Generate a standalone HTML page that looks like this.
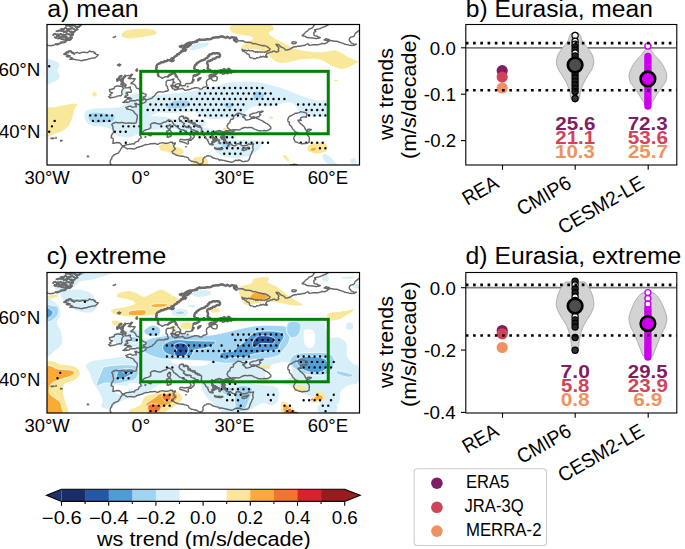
<!DOCTYPE html>
<html><head><meta charset="utf-8"><title>ws trends</title>
<style>
html,body{margin:0;padding:0;background:#fff;}
svg{display:block;font-family:"Liberation Sans", sans-serif;}
</style></head><body>
<svg width="685" height="549" viewBox="0 0 685 549">
<rect width="685" height="549" fill="#fff"/>
<clipPath id="mclipa"><rect x="47.0" y="24.5" width="312.5" height="140.5"/></clipPath>
<g clip-path="url(#mclipa)">
<path d="M46.0,110.5 C47.5,105.5 51.9,108.2 55.3,107.2 C58.6,106.2 62.5,105.3 66.1,104.8 C69.7,104.3 75.6,103.4 77.0,104.1 C78.4,104.8 75.4,106.5 74.6,108.7 C73.8,110.9 73.2,114.5 72.3,117.2 C71.4,119.9 70.8,122.8 69.2,125.0 C67.7,127.2 65.3,129.0 63.0,130.4 C60.7,131.8 57.8,132.5 55.3,133.5 C52.8,134.5 49.8,136.0 48.3,136.6 C46.8,137.2 46.4,141.3 46.0,137.0 C45.6,132.7 44.5,115.5 46.0,110.5Z" fill="#fae89a"/>
<path d="M92.0,93.0 C92.2,92.2 94.2,91.7 95.0,92.0 C95.8,92.3 97.2,94.2 97.0,95.0 C96.8,95.8 94.8,96.8 94.0,96.5 C93.2,96.2 91.8,93.8 92.0,93.0Z" fill="#fae89a"/>
<path d="M121.5,35.5 C121.2,34.3 122.6,32.1 125.0,31.0 C127.4,29.9 132.7,29.4 136.0,29.0 C139.3,28.6 142.3,28.7 145.0,28.8 C147.7,28.9 150.1,29.1 152.0,29.5 C153.9,29.9 156.0,30.7 156.5,31.5 C157.0,32.3 156.8,33.7 155.0,34.5 C153.2,35.3 149.2,35.9 146.0,36.5 C142.8,37.1 139.2,37.7 136.0,38.0 C132.8,38.3 129.4,38.7 127.0,38.3 C124.6,37.9 121.8,36.7 121.5,35.5Z" fill="#fae89a"/>
<path d="M46.0,60.4 C47.3,56.7 51.8,60.0 54.0,60.6 C56.2,61.2 58.3,63.0 59.2,64.0 C60.1,65.0 59.6,65.4 59.2,66.5 C58.9,67.6 57.0,69.0 57.1,70.4 C57.2,71.8 59.8,73.5 59.9,75.0 C60.0,76.5 59.3,78.3 58.0,79.5 C56.7,80.7 54.0,81.9 52.0,82.4 C50.0,83.0 47.0,86.5 46.0,82.8 C45.0,79.1 44.7,64.1 46.0,60.4Z" fill="#d6eff9"/>
<path d="M190.0,49.5 C189.8,48.8 190.7,46.5 192.0,45.5 C193.3,44.5 196.0,44.0 198.0,43.5 C200.0,43.0 202.2,42.6 204.0,42.5 C205.8,42.4 208.0,42.4 208.5,43.0 C209.0,43.6 208.4,45.1 207.0,46.0 C205.6,46.9 202.3,47.8 200.0,48.5 C197.7,49.2 194.7,49.8 193.0,50.0 C191.3,50.2 190.2,50.2 190.0,49.5Z" fill="#d6eff9"/>
<path d="M229.6,29.3 C228.9,28.1 230.3,27.4 231.0,26.5 C231.7,25.6 228.2,24.4 234.0,24.0 C239.8,23.6 259.3,23.2 266.0,24.0 C272.7,24.8 273.6,27.0 274.0,28.5 C274.4,30.0 268.7,31.4 268.7,33.0 C268.7,34.6 271.8,36.3 274.1,37.9 C276.4,39.5 279.8,41.0 282.6,42.6 C285.4,44.2 288.1,45.9 291.1,47.2 C294.1,48.5 296.8,49.5 300.4,50.3 C304.0,51.1 308.7,51.6 312.8,51.9 C316.9,52.2 321.6,52.2 325.2,51.9 C328.8,51.6 331.9,50.2 334.5,50.3 C337.1,50.4 338.4,51.4 340.7,52.6 C343.0,53.8 345.6,55.9 348.4,57.3 C351.2,58.7 355.6,60.4 357.7,61.1 C359.8,61.8 360.4,61.4 361.0,61.5 C361.6,61.6 361.6,61.9 361.0,62.0 C360.4,62.1 359.3,61.3 357.7,61.9 C356.1,62.5 354.1,64.6 351.5,65.8 C348.9,67.0 345.6,68.9 342.2,68.9 C338.8,68.9 334.5,67.1 331.4,65.8 C328.3,64.5 326.4,62.3 323.6,61.1 C320.8,59.9 318.3,59.0 314.4,58.8 C310.5,58.5 305.3,59.0 300.4,59.6 C295.5,60.2 289.1,62.4 285.0,62.7 C280.9,63.0 278.5,62.7 275.7,61.4 C272.9,60.1 269.9,56.6 268.0,55.0 C266.1,53.4 266.0,52.4 264.0,51.5 C262.0,50.6 259.0,49.9 256.0,49.5 C253.0,49.1 248.4,49.4 246.0,49.0 C243.6,48.6 241.6,48.2 241.3,47.4 C241.0,46.6 242.3,45.8 244.2,44.4 C246.0,43.0 251.2,40.5 252.4,39.2 C253.6,37.9 254.1,37.5 251.2,36.5 C248.3,35.5 238.5,34.7 234.9,33.5 C231.3,32.3 230.2,30.5 229.6,29.3Z" fill="#fae89a"/>
<path d="M334.0,80.0 C334.3,79.8 336.3,79.6 337.0,79.8 C337.7,80.0 338.3,80.8 338.0,81.0 C337.7,81.2 335.7,81.5 335.0,81.3 C334.3,81.1 333.7,80.2 334.0,80.0Z" fill="#fae89a"/>
<path d="M84.7,114.1 C85.0,113.0 84.8,111.6 86.5,110.7 C88.2,109.8 91.1,109.0 95.0,108.5 C98.9,108.0 105.8,108.2 110.0,108.0 C114.2,107.8 117.3,107.7 120.0,107.0 C122.7,106.3 124.5,105.3 126.0,104.0 C127.5,102.7 128.2,100.6 129.0,99.0 C129.8,97.4 129.7,95.4 131.0,94.5 C132.3,93.6 134.4,93.2 137.0,93.5 C139.6,93.8 141.8,96.1 146.3,96.3 C150.8,96.5 155.9,95.4 163.8,94.5 C171.7,93.6 185.1,92.3 193.6,91.0 C202.1,89.7 209.0,87.9 214.6,86.6 C220.2,85.3 222.7,83.9 226.9,83.1 C231.1,82.3 235.5,82.2 240.0,82.0 C244.5,81.8 249.1,81.5 254.0,82.0 C258.9,82.5 264.5,83.5 269.7,84.7 C274.9,85.9 280.1,87.6 285.3,89.4 C290.5,91.2 295.8,93.9 301.0,95.7 C306.2,97.5 311.9,99.5 316.6,100.4 C321.3,101.3 326.9,98.5 329.0,101.0 C331.1,103.5 331.1,112.9 329.0,115.5 C326.9,118.1 321.3,116.5 316.6,116.5 C311.9,116.5 304.1,116.6 301.0,115.5 C297.9,114.4 299.1,111.7 297.8,109.7 C296.5,107.7 295.2,104.7 293.1,103.5 C291.0,102.3 289.2,102.2 285.3,102.7 C281.4,103.2 274.9,106.0 269.7,106.6 C264.5,107.2 258.1,105.6 254.0,106.5 C249.9,107.4 247.3,110.1 245.0,112.0 C242.7,113.9 243.3,116.9 240.0,118.0 C236.7,119.1 230.5,118.4 225.1,118.5 C219.7,118.6 212.4,119.5 207.6,118.5 C202.8,117.5 198.9,113.6 196.0,112.5 C193.1,111.4 193.9,111.9 190.0,112.0 C186.1,112.1 177.6,112.8 172.6,112.9 C167.6,113.0 163.4,112.2 160.0,112.5 C156.6,112.8 154.2,113.9 152.0,115.0 C149.8,116.1 148.5,116.8 147.0,119.0 C145.5,121.2 144.0,125.7 143.0,128.0 C142.0,130.3 141.9,131.9 141.0,133.0 C140.1,134.1 139.2,133.8 137.3,134.5 C135.4,135.2 131.9,137.1 129.6,137.5 C127.3,137.9 125.5,137.2 123.4,137.0 C121.3,136.8 118.8,136.7 117.2,136.0 C115.7,135.3 115.4,134.0 114.1,132.7 C112.8,131.4 111.5,129.4 109.4,128.4 C107.3,127.4 104.5,127.0 101.7,126.5 C98.9,126.0 94.9,126.5 92.4,125.7 C89.9,124.9 87.8,123.3 86.5,121.9 C85.2,120.5 85.0,118.5 84.7,117.2 C84.4,115.9 84.4,115.2 84.7,114.1Z" fill="#d6eff9"/>
<path d="M122.4,89.5 C122.9,88.5 124.8,88.4 125.5,88.8 C126.2,89.2 126.5,90.9 126.5,92.0 C126.5,93.1 126.1,95.0 125.5,95.5 C124.9,96.0 123.3,96.0 122.8,95.0 C122.3,94.0 122.0,90.5 122.4,89.5Z" fill="#d6eff9"/>
<path d="M142.6,117.0 C144.1,114.5 148.3,116.0 152.0,116.0 C155.7,116.0 161.2,116.5 165.0,117.0 C168.8,117.5 170.8,118.6 175.0,119.0 C179.2,119.4 185.3,119.3 190.0,119.5 C194.7,119.7 200.5,119.2 203.0,120.0 C205.5,120.8 205.5,122.7 205.0,124.0 C204.5,125.3 203.3,126.8 200.0,128.0 C196.7,129.2 189.2,130.8 185.0,131.0 C180.8,131.2 178.7,129.3 175.0,129.0 C171.3,128.7 167.2,128.8 163.0,129.0 C158.8,129.2 153.3,129.7 150.0,130.0 C146.7,130.3 144.2,133.2 143.0,131.0 C141.8,128.8 141.1,119.5 142.6,117.0Z" fill="#d6eff9"/>
<path d="M180.0,128.0 C183.0,127.0 194.2,126.7 200.0,127.0 C205.8,127.3 209.7,128.8 215.0,130.0 C220.3,131.2 228.5,132.7 232.0,134.0 C235.5,135.3 237.2,137.2 236.0,138.0 C234.8,138.8 229.3,139.0 225.0,139.0 C220.7,139.0 215.0,138.7 210.0,138.0 C205.0,137.3 199.7,135.8 195.0,135.0 C190.3,134.2 184.5,134.2 182.0,133.0 C179.5,131.8 177.0,129.0 180.0,128.0Z" fill="#d6eff9"/>
<path d="M213.6,140.0 C215.3,138.2 220.6,139.5 225.0,139.5 C229.4,139.5 235.0,139.8 240.0,140.0 C245.0,140.2 251.3,140.0 255.0,140.5 C258.7,141.0 261.5,141.4 262.0,143.0 C262.5,144.6 260.3,147.8 258.0,150.0 C255.7,152.2 251.8,154.8 248.0,156.0 C244.2,157.2 239.3,157.5 235.0,157.5 C230.7,157.5 225.3,157.2 222.0,156.0 C218.7,154.8 216.4,152.7 215.0,150.0 C213.6,147.3 211.9,141.8 213.6,140.0Z" fill="#d6eff9"/>
<path d="M159.3,146.0 C159.6,144.9 161.2,144.2 163.0,143.9 C164.8,143.6 168.2,143.6 170.0,144.0 C171.8,144.4 172.3,145.8 174.0,146.5 C175.7,147.2 178.4,147.2 180.0,148.0 C181.6,148.8 183.6,149.8 183.8,151.0 C184.0,152.2 182.5,154.3 181.0,155.0 C179.5,155.7 177.2,155.8 175.0,155.3 C172.8,154.8 170.3,152.8 168.0,152.0 C165.7,151.2 162.4,151.5 161.0,150.5 C159.6,149.5 159.0,147.1 159.3,146.0Z" fill="#fae89a"/>
<path d="M192.6,160.0 C193.1,158.6 194.3,157.5 196.0,157.0 C197.7,156.5 201.1,156.5 203.0,157.0 C204.9,157.5 206.7,158.6 207.4,160.0 C208.1,161.4 209.4,164.6 207.0,165.5 C204.6,166.4 195.4,166.4 193.0,165.5 C190.6,164.6 192.1,161.4 192.6,160.0Z" fill="#fae89a"/>
<path d="M223.2,128.5 C223.7,128.0 226.2,126.9 226.7,127.3 C227.2,127.7 226.5,130.3 226.0,130.8 C225.5,131.3 224.0,130.9 223.5,130.5 C223.0,130.1 222.7,129.0 223.2,128.5Z" fill="#fae89a"/>
<path d="M307.2,148.0 C307.5,146.6 309.9,144.4 312.0,143.5 C314.1,142.6 317.5,142.3 320.0,142.6 C322.5,142.8 325.8,143.6 326.8,145.0 C327.8,146.4 327.5,149.6 326.0,151.0 C324.5,152.4 320.7,153.4 318.0,153.6 C315.3,153.8 311.8,152.9 310.0,152.0 C308.2,151.1 306.9,149.4 307.2,148.0Z" fill="#fae89a"/>
<path d="M310.5,149.5 C310.7,148.9 313.1,147.6 314.0,147.5 C314.9,147.4 316.2,148.4 316.0,149.0 C315.8,149.6 313.9,150.9 313.0,151.0 C312.1,151.1 310.3,150.1 310.5,149.5Z" fill="#fcaa36"/>
<path d="M269.0,117.0 C269.4,116.6 271.3,116.2 272.0,116.5 C272.7,116.8 273.4,118.1 273.0,118.5 C272.6,118.9 270.2,119.0 269.5,118.8 C268.8,118.5 268.6,117.4 269.0,117.0Z" fill="#fae89a"/>
<path d="M283.0,156.0 C282.8,155.1 285.0,154.8 286.0,155.5 C287.0,156.2 288.8,159.1 289.0,160.0 C289.2,160.9 288.0,161.7 287.0,161.0 C286.0,160.3 283.2,156.9 283.0,156.0Z" fill="#fae89a"/>
<path d="M322.9,155.0 C323.4,154.1 325.3,153.7 327.0,154.5 C328.7,155.3 331.3,158.3 333.0,160.0 C334.7,161.7 337.5,163.7 337.0,164.5 C336.5,165.3 332.2,165.8 330.0,165.0 C327.8,164.2 325.2,161.7 324.0,160.0 C322.8,158.3 322.4,155.9 322.9,155.0Z" fill="#d6eff9"/>
<path d="M350.0,160.0 C350.2,158.8 352.8,157.7 354.0,158.0 C355.2,158.3 357.2,160.8 357.0,162.0 C356.8,163.2 354.2,165.3 353.0,165.0 C351.8,164.7 349.8,161.2 350.0,160.0Z" fill="#d6eff9"/>
<path d="M88.6,114.9 C89.1,113.8 89.7,113.1 92.4,112.9 C95.1,112.7 101.2,113.3 104.8,113.8 C108.4,114.3 112.8,114.5 114.1,115.7 C115.4,116.9 114.0,120.0 112.5,121.1 C111.0,122.2 107.9,122.0 104.8,122.2 C101.7,122.5 96.6,123.0 94.0,122.6 C91.4,122.1 90.2,120.8 89.3,119.5 C88.4,118.2 88.1,116.0 88.6,114.9Z" fill="#a0d6f3"/>
<path d="M166.4,105.5 C167.6,104.3 171.9,101.8 175.0,101.0 C178.1,100.2 182.5,100.4 185.0,100.7 C187.5,101.0 189.8,102.0 190.0,103.0 C190.2,104.0 188.5,106.1 186.0,107.0 C183.5,107.9 178.0,108.3 175.0,108.5 C172.0,108.7 169.4,108.5 168.0,108.0 C166.6,107.5 165.2,106.7 166.4,105.5Z" fill="#a0d6f3"/>
<path d="M224.2,104.0 C224.7,103.2 227.4,102.3 229.0,102.4 C230.6,102.5 233.6,103.6 233.9,104.5 C234.2,105.4 232.3,107.2 231.0,107.7 C229.7,108.2 227.1,108.1 226.0,107.5 C224.9,106.9 223.7,104.8 224.2,104.0Z" fill="#a0d6f3"/>
<path d="M254.0,92.0 C255.3,90.8 260.3,91.8 262.0,92.5 C263.7,93.2 264.5,94.8 264.0,96.0 C263.5,97.2 260.7,98.9 259.0,99.5 C257.3,100.1 254.8,101.0 254.0,99.8 C253.2,98.5 252.7,93.2 254.0,92.0Z" fill="#a0d6f3"/>
<path d="M222.0,142.0 C222.7,141.0 225.5,140.7 227.0,141.0 C228.5,141.3 230.8,142.8 231.0,144.0 C231.2,145.2 229.3,147.5 228.0,148.0 C226.7,148.5 224.0,148.0 223.0,147.0 C222.0,146.0 221.3,143.0 222.0,142.0Z" fill="#a0d6f3"/>
<path d="M48.00,66.18a1.2,1.2 0 1,0 2.4,0a1.2,1.2 0 1,0 -2.4,0M206.63,88.06a1.2,1.2 0 1,0 2.4,0a1.2,1.2 0 1,0 -2.4,0M212.10,88.06a1.2,1.2 0 1,0 2.4,0a1.2,1.2 0 1,0 -2.4,0M217.57,88.06a1.2,1.2 0 1,0 2.4,0a1.2,1.2 0 1,0 -2.4,0M223.04,88.06a1.2,1.2 0 1,0 2.4,0a1.2,1.2 0 1,0 -2.4,0M228.51,88.06a1.2,1.2 0 1,0 2.4,0a1.2,1.2 0 1,0 -2.4,0M233.98,88.06a1.2,1.2 0 1,0 2.4,0a1.2,1.2 0 1,0 -2.4,0M239.45,88.06a1.2,1.2 0 1,0 2.4,0a1.2,1.2 0 1,0 -2.4,0M244.92,88.06a1.2,1.2 0 1,0 2.4,0a1.2,1.2 0 1,0 -2.4,0M250.39,88.06a1.2,1.2 0 1,0 2.4,0a1.2,1.2 0 1,0 -2.4,0M255.86,88.06a1.2,1.2 0 1,0 2.4,0a1.2,1.2 0 1,0 -2.4,0M261.33,88.06a1.2,1.2 0 1,0 2.4,0a1.2,1.2 0 1,0 -2.4,0M198.42,93.53a1.2,1.2 0 1,0 2.4,0a1.2,1.2 0 1,0 -2.4,0M203.89,93.53a1.2,1.2 0 1,0 2.4,0a1.2,1.2 0 1,0 -2.4,0M209.36,93.53a1.2,1.2 0 1,0 2.4,0a1.2,1.2 0 1,0 -2.4,0M214.83,93.53a1.2,1.2 0 1,0 2.4,0a1.2,1.2 0 1,0 -2.4,0M220.31,93.53a1.2,1.2 0 1,0 2.4,0a1.2,1.2 0 1,0 -2.4,0M225.77,93.53a1.2,1.2 0 1,0 2.4,0a1.2,1.2 0 1,0 -2.4,0M231.25,93.53a1.2,1.2 0 1,0 2.4,0a1.2,1.2 0 1,0 -2.4,0M236.71,93.53a1.2,1.2 0 1,0 2.4,0a1.2,1.2 0 1,0 -2.4,0M242.19,93.53a1.2,1.2 0 1,0 2.4,0a1.2,1.2 0 1,0 -2.4,0M247.65,93.53a1.2,1.2 0 1,0 2.4,0a1.2,1.2 0 1,0 -2.4,0M253.12,93.53a1.2,1.2 0 1,0 2.4,0a1.2,1.2 0 1,0 -2.4,0M258.59,93.53a1.2,1.2 0 1,0 2.4,0a1.2,1.2 0 1,0 -2.4,0M264.06,93.53a1.2,1.2 0 1,0 2.4,0a1.2,1.2 0 1,0 -2.4,0M269.53,93.53a1.2,1.2 0 1,0 2.4,0a1.2,1.2 0 1,0 -2.4,0M157.40,99.00a1.2,1.2 0 1,0 2.4,0a1.2,1.2 0 1,0 -2.4,0M162.87,99.00a1.2,1.2 0 1,0 2.4,0a1.2,1.2 0 1,0 -2.4,0M168.34,99.00a1.2,1.2 0 1,0 2.4,0a1.2,1.2 0 1,0 -2.4,0M173.81,99.00a1.2,1.2 0 1,0 2.4,0a1.2,1.2 0 1,0 -2.4,0M179.28,99.00a1.2,1.2 0 1,0 2.4,0a1.2,1.2 0 1,0 -2.4,0M184.75,99.00a1.2,1.2 0 1,0 2.4,0a1.2,1.2 0 1,0 -2.4,0M190.22,99.00a1.2,1.2 0 1,0 2.4,0a1.2,1.2 0 1,0 -2.4,0M195.69,99.00a1.2,1.2 0 1,0 2.4,0a1.2,1.2 0 1,0 -2.4,0M201.16,99.00a1.2,1.2 0 1,0 2.4,0a1.2,1.2 0 1,0 -2.4,0M206.63,99.00a1.2,1.2 0 1,0 2.4,0a1.2,1.2 0 1,0 -2.4,0M212.10,99.00a1.2,1.2 0 1,0 2.4,0a1.2,1.2 0 1,0 -2.4,0M217.57,99.00a1.2,1.2 0 1,0 2.4,0a1.2,1.2 0 1,0 -2.4,0M223.04,99.00a1.2,1.2 0 1,0 2.4,0a1.2,1.2 0 1,0 -2.4,0M228.51,99.00a1.2,1.2 0 1,0 2.4,0a1.2,1.2 0 1,0 -2.4,0M233.98,99.00a1.2,1.2 0 1,0 2.4,0a1.2,1.2 0 1,0 -2.4,0M239.45,99.00a1.2,1.2 0 1,0 2.4,0a1.2,1.2 0 1,0 -2.4,0M244.92,99.00a1.2,1.2 0 1,0 2.4,0a1.2,1.2 0 1,0 -2.4,0M250.39,99.00a1.2,1.2 0 1,0 2.4,0a1.2,1.2 0 1,0 -2.4,0M255.86,99.00a1.2,1.2 0 1,0 2.4,0a1.2,1.2 0 1,0 -2.4,0M261.33,99.00a1.2,1.2 0 1,0 2.4,0a1.2,1.2 0 1,0 -2.4,0M266.80,99.00a1.2,1.2 0 1,0 2.4,0a1.2,1.2 0 1,0 -2.4,0M272.27,99.00a1.2,1.2 0 1,0 2.4,0a1.2,1.2 0 1,0 -2.4,0M277.74,99.00a1.2,1.2 0 1,0 2.4,0a1.2,1.2 0 1,0 -2.4,0M283.21,99.00a1.2,1.2 0 1,0 2.4,0a1.2,1.2 0 1,0 -2.4,0M149.19,104.47a1.2,1.2 0 1,0 2.4,0a1.2,1.2 0 1,0 -2.4,0M154.66,104.47a1.2,1.2 0 1,0 2.4,0a1.2,1.2 0 1,0 -2.4,0M160.13,104.47a1.2,1.2 0 1,0 2.4,0a1.2,1.2 0 1,0 -2.4,0M165.60,104.47a1.2,1.2 0 1,0 2.4,0a1.2,1.2 0 1,0 -2.4,0M171.07,104.47a1.2,1.2 0 1,0 2.4,0a1.2,1.2 0 1,0 -2.4,0M176.54,104.47a1.2,1.2 0 1,0 2.4,0a1.2,1.2 0 1,0 -2.4,0M182.01,104.47a1.2,1.2 0 1,0 2.4,0a1.2,1.2 0 1,0 -2.4,0M187.48,104.47a1.2,1.2 0 1,0 2.4,0a1.2,1.2 0 1,0 -2.4,0M192.95,104.47a1.2,1.2 0 1,0 2.4,0a1.2,1.2 0 1,0 -2.4,0M198.42,104.47a1.2,1.2 0 1,0 2.4,0a1.2,1.2 0 1,0 -2.4,0M203.89,104.47a1.2,1.2 0 1,0 2.4,0a1.2,1.2 0 1,0 -2.4,0M209.36,104.47a1.2,1.2 0 1,0 2.4,0a1.2,1.2 0 1,0 -2.4,0M214.83,104.47a1.2,1.2 0 1,0 2.4,0a1.2,1.2 0 1,0 -2.4,0M220.31,104.47a1.2,1.2 0 1,0 2.4,0a1.2,1.2 0 1,0 -2.4,0M225.77,104.47a1.2,1.2 0 1,0 2.4,0a1.2,1.2 0 1,0 -2.4,0M231.25,104.47a1.2,1.2 0 1,0 2.4,0a1.2,1.2 0 1,0 -2.4,0M236.71,104.47a1.2,1.2 0 1,0 2.4,0a1.2,1.2 0 1,0 -2.4,0M242.19,104.47a1.2,1.2 0 1,0 2.4,0a1.2,1.2 0 1,0 -2.4,0M258.59,104.47a1.2,1.2 0 1,0 2.4,0a1.2,1.2 0 1,0 -2.4,0M264.06,104.47a1.2,1.2 0 1,0 2.4,0a1.2,1.2 0 1,0 -2.4,0M269.53,104.47a1.2,1.2 0 1,0 2.4,0a1.2,1.2 0 1,0 -2.4,0M275.00,104.47a1.2,1.2 0 1,0 2.4,0a1.2,1.2 0 1,0 -2.4,0M296.88,104.47a1.2,1.2 0 1,0 2.4,0a1.2,1.2 0 1,0 -2.4,0M302.35,104.47a1.2,1.2 0 1,0 2.4,0a1.2,1.2 0 1,0 -2.4,0M307.82,104.47a1.2,1.2 0 1,0 2.4,0a1.2,1.2 0 1,0 -2.4,0M313.30,104.47a1.2,1.2 0 1,0 2.4,0a1.2,1.2 0 1,0 -2.4,0M318.76,104.47a1.2,1.2 0 1,0 2.4,0a1.2,1.2 0 1,0 -2.4,0M324.23,104.47a1.2,1.2 0 1,0 2.4,0a1.2,1.2 0 1,0 -2.4,0M146.46,109.94a1.2,1.2 0 1,0 2.4,0a1.2,1.2 0 1,0 -2.4,0M151.93,109.94a1.2,1.2 0 1,0 2.4,0a1.2,1.2 0 1,0 -2.4,0M157.40,109.94a1.2,1.2 0 1,0 2.4,0a1.2,1.2 0 1,0 -2.4,0M162.87,109.94a1.2,1.2 0 1,0 2.4,0a1.2,1.2 0 1,0 -2.4,0M168.34,109.94a1.2,1.2 0 1,0 2.4,0a1.2,1.2 0 1,0 -2.4,0M173.81,109.94a1.2,1.2 0 1,0 2.4,0a1.2,1.2 0 1,0 -2.4,0M179.28,109.94a1.2,1.2 0 1,0 2.4,0a1.2,1.2 0 1,0 -2.4,0M184.75,109.94a1.2,1.2 0 1,0 2.4,0a1.2,1.2 0 1,0 -2.4,0M190.22,109.94a1.2,1.2 0 1,0 2.4,0a1.2,1.2 0 1,0 -2.4,0M195.69,109.94a1.2,1.2 0 1,0 2.4,0a1.2,1.2 0 1,0 -2.4,0M201.16,109.94a1.2,1.2 0 1,0 2.4,0a1.2,1.2 0 1,0 -2.4,0M206.63,109.94a1.2,1.2 0 1,0 2.4,0a1.2,1.2 0 1,0 -2.4,0M212.10,109.94a1.2,1.2 0 1,0 2.4,0a1.2,1.2 0 1,0 -2.4,0M217.57,109.94a1.2,1.2 0 1,0 2.4,0a1.2,1.2 0 1,0 -2.4,0M223.04,109.94a1.2,1.2 0 1,0 2.4,0a1.2,1.2 0 1,0 -2.4,0M228.51,109.94a1.2,1.2 0 1,0 2.4,0a1.2,1.2 0 1,0 -2.4,0M233.98,109.94a1.2,1.2 0 1,0 2.4,0a1.2,1.2 0 1,0 -2.4,0M239.45,109.94a1.2,1.2 0 1,0 2.4,0a1.2,1.2 0 1,0 -2.4,0M305.09,109.94a1.2,1.2 0 1,0 2.4,0a1.2,1.2 0 1,0 -2.4,0M310.56,109.94a1.2,1.2 0 1,0 2.4,0a1.2,1.2 0 1,0 -2.4,0M316.03,109.94a1.2,1.2 0 1,0 2.4,0a1.2,1.2 0 1,0 -2.4,0M321.50,109.94a1.2,1.2 0 1,0 2.4,0a1.2,1.2 0 1,0 -2.4,0M89.02,115.41a1.2,1.2 0 1,0 2.4,0a1.2,1.2 0 1,0 -2.4,0M94.50,115.41a1.2,1.2 0 1,0 2.4,0a1.2,1.2 0 1,0 -2.4,0M99.97,115.41a1.2,1.2 0 1,0 2.4,0a1.2,1.2 0 1,0 -2.4,0M105.44,115.41a1.2,1.2 0 1,0 2.4,0a1.2,1.2 0 1,0 -2.4,0M110.91,115.41a1.2,1.2 0 1,0 2.4,0a1.2,1.2 0 1,0 -2.4,0M198.42,115.41a1.2,1.2 0 1,0 2.4,0a1.2,1.2 0 1,0 -2.4,0M203.89,115.41a1.2,1.2 0 1,0 2.4,0a1.2,1.2 0 1,0 -2.4,0M209.36,115.41a1.2,1.2 0 1,0 2.4,0a1.2,1.2 0 1,0 -2.4,0M214.83,115.41a1.2,1.2 0 1,0 2.4,0a1.2,1.2 0 1,0 -2.4,0M220.31,115.41a1.2,1.2 0 1,0 2.4,0a1.2,1.2 0 1,0 -2.4,0M225.77,115.41a1.2,1.2 0 1,0 2.4,0a1.2,1.2 0 1,0 -2.4,0M231.25,115.41a1.2,1.2 0 1,0 2.4,0a1.2,1.2 0 1,0 -2.4,0M236.71,115.41a1.2,1.2 0 1,0 2.4,0a1.2,1.2 0 1,0 -2.4,0M307.82,115.41a1.2,1.2 0 1,0 2.4,0a1.2,1.2 0 1,0 -2.4,0M313.30,115.41a1.2,1.2 0 1,0 2.4,0a1.2,1.2 0 1,0 -2.4,0M318.76,115.41a1.2,1.2 0 1,0 2.4,0a1.2,1.2 0 1,0 -2.4,0M324.23,115.41a1.2,1.2 0 1,0 2.4,0a1.2,1.2 0 1,0 -2.4,0M91.76,120.88a1.2,1.2 0 1,0 2.4,0a1.2,1.2 0 1,0 -2.4,0M97.23,120.88a1.2,1.2 0 1,0 2.4,0a1.2,1.2 0 1,0 -2.4,0M102.70,120.88a1.2,1.2 0 1,0 2.4,0a1.2,1.2 0 1,0 -2.4,0M108.17,120.88a1.2,1.2 0 1,0 2.4,0a1.2,1.2 0 1,0 -2.4,0M168.34,120.88a1.2,1.2 0 1,0 2.4,0a1.2,1.2 0 1,0 -2.4,0M173.81,120.88a1.2,1.2 0 1,0 2.4,0a1.2,1.2 0 1,0 -2.4,0M179.28,120.88a1.2,1.2 0 1,0 2.4,0a1.2,1.2 0 1,0 -2.4,0M184.75,120.88a1.2,1.2 0 1,0 2.4,0a1.2,1.2 0 1,0 -2.4,0M190.22,120.88a1.2,1.2 0 1,0 2.4,0a1.2,1.2 0 1,0 -2.4,0M195.69,120.88a1.2,1.2 0 1,0 2.4,0a1.2,1.2 0 1,0 -2.4,0M201.16,120.88a1.2,1.2 0 1,0 2.4,0a1.2,1.2 0 1,0 -2.4,0M121.84,126.35a1.2,1.2 0 1,0 2.4,0a1.2,1.2 0 1,0 -2.4,0M127.31,126.35a1.2,1.2 0 1,0 2.4,0a1.2,1.2 0 1,0 -2.4,0M132.78,126.35a1.2,1.2 0 1,0 2.4,0a1.2,1.2 0 1,0 -2.4,0M138.25,126.35a1.2,1.2 0 1,0 2.4,0a1.2,1.2 0 1,0 -2.4,0M160.13,126.35a1.2,1.2 0 1,0 2.4,0a1.2,1.2 0 1,0 -2.4,0M165.60,126.35a1.2,1.2 0 1,0 2.4,0a1.2,1.2 0 1,0 -2.4,0M171.07,126.35a1.2,1.2 0 1,0 2.4,0a1.2,1.2 0 1,0 -2.4,0M176.54,126.35a1.2,1.2 0 1,0 2.4,0a1.2,1.2 0 1,0 -2.4,0M182.01,126.35a1.2,1.2 0 1,0 2.4,0a1.2,1.2 0 1,0 -2.4,0M187.48,126.35a1.2,1.2 0 1,0 2.4,0a1.2,1.2 0 1,0 -2.4,0M192.95,126.35a1.2,1.2 0 1,0 2.4,0a1.2,1.2 0 1,0 -2.4,0M198.42,126.35a1.2,1.2 0 1,0 2.4,0a1.2,1.2 0 1,0 -2.4,0M113.64,131.82a1.2,1.2 0 1,0 2.4,0a1.2,1.2 0 1,0 -2.4,0M119.11,131.82a1.2,1.2 0 1,0 2.4,0a1.2,1.2 0 1,0 -2.4,0M124.58,131.82a1.2,1.2 0 1,0 2.4,0a1.2,1.2 0 1,0 -2.4,0M179.28,131.82a1.2,1.2 0 1,0 2.4,0a1.2,1.2 0 1,0 -2.4,0M184.75,131.82a1.2,1.2 0 1,0 2.4,0a1.2,1.2 0 1,0 -2.4,0M190.22,131.82a1.2,1.2 0 1,0 2.4,0a1.2,1.2 0 1,0 -2.4,0M195.69,131.82a1.2,1.2 0 1,0 2.4,0a1.2,1.2 0 1,0 -2.4,0M201.16,131.82a1.2,1.2 0 1,0 2.4,0a1.2,1.2 0 1,0 -2.4,0M206.63,131.82a1.2,1.2 0 1,0 2.4,0a1.2,1.2 0 1,0 -2.4,0M212.10,131.82a1.2,1.2 0 1,0 2.4,0a1.2,1.2 0 1,0 -2.4,0M198.42,137.29a1.2,1.2 0 1,0 2.4,0a1.2,1.2 0 1,0 -2.4,0M203.89,137.29a1.2,1.2 0 1,0 2.4,0a1.2,1.2 0 1,0 -2.4,0M209.36,137.29a1.2,1.2 0 1,0 2.4,0a1.2,1.2 0 1,0 -2.4,0M214.83,137.29a1.2,1.2 0 1,0 2.4,0a1.2,1.2 0 1,0 -2.4,0M220.31,137.29a1.2,1.2 0 1,0 2.4,0a1.2,1.2 0 1,0 -2.4,0M225.77,137.29a1.2,1.2 0 1,0 2.4,0a1.2,1.2 0 1,0 -2.4,0M231.25,137.29a1.2,1.2 0 1,0 2.4,0a1.2,1.2 0 1,0 -2.4,0M223.04,142.76a1.2,1.2 0 1,0 2.4,0a1.2,1.2 0 1,0 -2.4,0M228.51,142.76a1.2,1.2 0 1,0 2.4,0a1.2,1.2 0 1,0 -2.4,0M233.98,142.76a1.2,1.2 0 1,0 2.4,0a1.2,1.2 0 1,0 -2.4,0M239.45,142.76a1.2,1.2 0 1,0 2.4,0a1.2,1.2 0 1,0 -2.4,0M244.92,142.76a1.2,1.2 0 1,0 2.4,0a1.2,1.2 0 1,0 -2.4,0M250.39,142.76a1.2,1.2 0 1,0 2.4,0a1.2,1.2 0 1,0 -2.4,0M255.86,142.76a1.2,1.2 0 1,0 2.4,0a1.2,1.2 0 1,0 -2.4,0M255.86,142.76a1.2,1.2 0 1,0 2.4,0a1.2,1.2 0 1,0 -2.4,0M261.33,142.76a1.2,1.2 0 1,0 2.4,0a1.2,1.2 0 1,0 -2.4,0M266.80,142.76a1.2,1.2 0 1,0 2.4,0a1.2,1.2 0 1,0 -2.4,0M299.62,142.76a1.2,1.2 0 1,0 2.4,0a1.2,1.2 0 1,0 -2.4,0M305.09,142.76a1.2,1.2 0 1,0 2.4,0a1.2,1.2 0 1,0 -2.4,0M310.56,142.76a1.2,1.2 0 1,0 2.4,0a1.2,1.2 0 1,0 -2.4,0M316.03,142.76a1.2,1.2 0 1,0 2.4,0a1.2,1.2 0 1,0 -2.4,0M321.50,142.76a1.2,1.2 0 1,0 2.4,0a1.2,1.2 0 1,0 -2.4,0M124.58,142.76a1.2,1.2 0 1,0 2.4,0a1.2,1.2 0 1,0 -2.4,0M220.31,148.23a1.2,1.2 0 1,0 2.4,0a1.2,1.2 0 1,0 -2.4,0M225.77,148.23a1.2,1.2 0 1,0 2.4,0a1.2,1.2 0 1,0 -2.4,0M231.25,148.23a1.2,1.2 0 1,0 2.4,0a1.2,1.2 0 1,0 -2.4,0M236.71,148.23a1.2,1.2 0 1,0 2.4,0a1.2,1.2 0 1,0 -2.4,0M242.19,148.23a1.2,1.2 0 1,0 2.4,0a1.2,1.2 0 1,0 -2.4,0M247.65,148.23a1.2,1.2 0 1,0 2.4,0a1.2,1.2 0 1,0 -2.4,0M318.76,148.23a1.2,1.2 0 1,0 2.4,0a1.2,1.2 0 1,0 -2.4,0M324.23,148.23a1.2,1.2 0 1,0 2.4,0a1.2,1.2 0 1,0 -2.4,0M223.04,153.70a1.2,1.2 0 1,0 2.4,0a1.2,1.2 0 1,0 -2.4,0M228.51,153.70a1.2,1.2 0 1,0 2.4,0a1.2,1.2 0 1,0 -2.4,0M233.98,153.70a1.2,1.2 0 1,0 2.4,0a1.2,1.2 0 1,0 -2.4,0M239.45,153.70a1.2,1.2 0 1,0 2.4,0a1.2,1.2 0 1,0 -2.4,0M53.47,120.88a1.2,1.2 0 1,0 2.4,0a1.2,1.2 0 1,0 -2.4,0M50.73,126.35a1.2,1.2 0 1,0 2.4,0a1.2,1.2 0 1,0 -2.4,0M48.00,131.82a1.2,1.2 0 1,0 2.4,0a1.2,1.2 0 1,0 -2.4,0" fill="#000"/>
<path d="M45.4,46.0 46.5,45.1 47.7,45.2 49.0,45.7 50.1,45.4 51.4,45.8 52.5,45.1 53.7,45.2 54.8,44.8 55.8,43.9 57.3,44.6 58.3,43.9 59.5,43.5 60.5,43.1 61.3,42.1 62.6,42.6 63.7,42.2 64.9,42.2 65.8,41.4 66.5,40.3 67.7,40.1 68.9,39.8 70.2,39.8 71.1,38.9 72.0,37.6 70.7,37.7 70.4,36.4 71.1,34.9 72.6,35.4 73.2,33.9 72.0,34.0 71.4,32.9 72.1,31.7 73.6,32.0 74.6,31.7 75.1,30.7 76.2,29.7 77.6,29.5 76.7,28.2 77.3,26.9 78.9,27.0 79.4,26.1 80.4,25.7 81.0,24.8 81.4,23.9 M54.8,37.3 56.1,37.8 57.0,36.1 58.2,36.0 59.5,36.4 60.6,37.1 61.8,36.7 63.0,36.9 64.2,37.0 65.3,36.9 66.4,36.8 67.3,37.6 68.5,38.8 70.1,38.2 M53.2,35.1 54.2,33.9 55.4,33.7 57.0,35.4 57.9,34.2 58.9,35.3 60.4,33.9 61.6,34.4 62.6,35.1 63.6,34.5 64.8,35.1 65.8,34.5 66.8,34.2 67.8,34.1 68.9,34.2 70.8,34.8 M56.4,31.1 57.7,31.4 58.9,30.5 60.1,30.4 61.1,30.9 62.2,30.6 63.2,30.7 63.9,32.1 65.1,31.4 66.6,32.2 67.5,30.2 68.9,30.7 69.8,31.5 70.8,31.7 72.0,31.4 M61.1,28.9 62.3,29.2 63.6,29.3 64.6,28.4 65.8,27.9 66.8,28.9 67.9,29.3 69.2,28.8 70.4,28.9 71.8,28.1 73.0,28.4 74.2,29.2 M65.8,25.7 67.0,25.6 68.2,25.5 69.4,25.6 70.4,26.4 71.5,25.3 72.7,25.7 73.9,25.2 75.1,26.1 76.0,27.3 77.2,26.6 78.2,26.7 M57.9,38.5 59.2,38.1 60.4,38.2 61.4,39.0 62.6,39.2 63.9,39.5 65.1,39.9 66.1,38.4 67.3,38.5 M64.2,54.2 65.5,53.5 66.4,52.3 67.9,52.5 68.9,51.3 70.8,51.3 72.0,52.6 73.3,53.1 74.2,54.2 75.1,52.9 76.3,52.8 77.3,52.3 78.6,52.8 79.8,53.4 80.9,52.9 82.0,52.3 83.3,52.4 84.5,52.1 85.5,52.3 86.5,52.7 87.6,52.6 88.6,51.8 89.5,51.0 90.7,51.5 92.0,51.7 93.2,51.7 94.2,52.2 95.1,52.6 94.2,53.4 95.3,53.6 96.2,54.3 97.2,54.6 98.2,54.8 97.3,55.9 96.4,56.8 95.4,57.6 94.4,58.0 93.4,57.9 92.3,58.1 91.1,58.3 90.0,58.9 88.7,58.8 87.6,59.3 86.6,59.8 85.5,59.8 84.4,60.0 83.3,60.2 82.3,60.7 81.3,60.5 80.3,60.6 79.3,60.1 78.2,60.1 77.1,59.9 75.9,59.8 74.7,59.4 73.6,59.3 72.3,59.3 71.1,59.1 69.8,59.3 71.1,58.5 72.3,57.9 70.8,57.3 69.7,56.9 68.6,56.7 67.5,56.8 66.4,56.5 67.6,56.3 68.9,56.1 70.1,55.7 69.0,55.7 68.1,55.2 67.0,55.1 65.7,54.2 64.2,54.2 64.2,54.2 M112.6,37.5 113.8,37.3 114.8,36.8 116.1,36.5 M117.0,65.1 118.1,64.6 119.2,64.0 120.8,64.8 119.5,66.0 118.2,65.4 117.0,65.1 M136.7,71.6 137.6,70.1 137.0,68.8 135.8,70.1 136.7,71.6 M130.1,74.8 132.0,74.1 132.6,74.8 130.8,75.4 130.1,74.8 M125.1,75.7 126.2,75.7 127.2,75.6 128.2,75.5 129.3,75.8 130.3,75.8 131.4,75.5 131.1,76.6 130.1,77.2 129.1,77.7 128.2,78.4 129.8,78.7 130.9,78.5 131.9,78.6 133.0,78.7 134.1,78.8 135.1,78.8 134.2,80.4 133.6,81.2 132.9,81.9 131.7,82.6 130.8,83.5 132.6,83.8 134.5,84.4 135.1,85.4 135.8,86.3 136.1,87.3 136.7,88.2 138.2,88.5 139.5,89.1 140.1,90.3 141.1,91.3 139.8,91.6 140.8,92.1 141.7,92.9 143.2,93.3 144.6,93.9 146.1,94.1 145.8,96.0 144.7,96.5 143.6,96.9 142.9,98.0 144.0,98.3 145.1,98.5 143.7,99.7 142.5,99.9 141.4,100.2 140.1,100.3 138.9,99.9 137.6,100.1 136.5,100.0 135.6,100.7 134.5,100.7 133.4,100.7 132.3,100.5 131.2,100.9 130.1,100.7 129.2,101.8 128.1,102.2 127.0,102.0 125.9,102.3 124.8,102.5 122.9,102.4 124.1,101.8 125.1,100.8 126.0,100.2 126.8,99.4 127.6,98.8 128.9,99.0 130.1,98.7 131.4,98.8 130.4,97.9 129.1,97.5 127.6,97.6 126.6,97.2 125.5,97.4 124.5,97.1 125.4,96.0 126.7,95.6 127.9,95.1 127.3,93.5 126.1,93.8 126.7,92.2 127.8,92.3 128.9,92.2 130.0,92.3 131.1,92.2 131.4,90.4 130.8,89.6 130.1,88.8 130.4,87.3 129.2,87.2 128.2,87.8 127.0,87.9 125.1,87.9 125.4,86.6 126.1,85.1 125.1,84.1 125.0,85.9 123.2,86.0 122.2,84.7 123.6,83.8 122.9,82.3 121.4,81.6 121.9,80.6 122.9,80.1 122.6,78.8 123.5,78.3 123.9,77.3 124.8,76.7 125.1,75.7 125.1,75.7 M117.3,80.7 118.3,80.0 118.2,78.8 119.2,77.9 120.0,76.6 121.4,76.0 119.5,76.6 119.4,77.9 119.2,79.1 117.2,79.3 117.3,80.7 M120.4,80.1 121.8,80.2 122.0,78.8 122.9,79.8 121.8,80.4 120.4,80.1 M121.1,85.1 122.3,83.8 121.4,84.1 121.1,85.1 M121.7,86.2 122.6,87.2 123.6,88.2 122.8,89.1 122.0,90.1 121.8,91.3 121.7,92.6 122.0,94.4 120.8,95.7 119.6,95.8 118.5,95.9 117.3,96.1 116.1,96.7 114.8,97.1 113.6,97.2 112.5,97.6 111.2,97.5 110.1,98.0 109.4,97.2 108.6,96.6 109.7,96.1 110.8,95.5 109.8,94.4 110.8,94.1 111.6,93.3 112.6,92.9 111.7,92.4 110.7,92.2 109.8,91.6 109.4,90.6 109.5,89.4 110.8,89.5 112.0,89.3 113.0,88.7 114.2,88.5 114.5,86.9 115.9,86.3 117.3,86.0 118.4,86.0 119.5,86.3 120.6,86.1 121.7,86.2 M361.1,29.8 360.0,30.2 359.0,30.8 357.9,31.1 357.0,32.2 355.8,32.9 355.0,33.9 354.6,35.1 353.9,36.1 353.0,36.5 352.0,36.9 351.0,37.0 350.1,37.6 349.4,38.8 349.2,40.1 349.8,41.0 350.5,41.7 351.1,42.6 352.1,43.3 353.4,43.9 354.5,44.5 356.4,44.2 355.3,44.5 354.4,45.2 353.2,45.4 352.1,45.6 350.9,45.2 349.7,45.4 348.6,45.1 347.6,44.6 346.4,44.6 345.4,44.2 344.2,44.0 343.1,43.2 341.9,43.1 340.8,42.6 339.7,42.2 338.6,42.0 337.6,41.4 336.6,41.1 335.5,41.2 334.5,41.2 333.5,41.0 332.4,40.7 331.4,40.7 329.8,40.4 328.9,41.4 327.8,41.7 327.1,42.6 326.1,43.0 325.1,43.5 324.1,43.8 323.0,43.4 322.0,43.5 320.9,44.0 319.7,44.3 318.5,44.7 317.3,44.8 316.1,44.6 315.0,44.7 313.8,44.6 312.6,44.8 311.6,45.1 310.5,45.1 309.5,45.4 308.5,44.6 307.9,43.5 307.0,44.0 306.1,44.7 305.1,45.1 304.2,45.5 303.1,45.4 302.1,45.7 301.2,46.1 300.1,46.0 299.1,46.2 298.0,46.3 297.0,46.4 296.0,46.8 294.9,46.7 293.9,47.0 292.3,47.6 291.2,48.4 290.1,49.2 288.9,49.5 287.6,49.8 286.5,50.0 285.4,50.1 284.8,49.0 283.9,48.2 282.6,47.7 281.4,47.0 280.2,46.6 279.8,45.4 278.6,44.8 277.4,44.5 276.1,44.3 277.0,46.0 278.3,46.8 278.9,48.2 278.2,49.8 278.9,51.0 277.8,51.7 276.7,52.3 275.5,51.7 274.3,51.1 272.9,51.3 271.9,52.1 270.6,52.0 269.5,52.6 268.5,53.0 267.5,53.2 266.7,53.8 265.8,55.4 266.6,56.1 267.3,57.0 266.3,57.3 265.2,56.7 264.2,57.0 263.0,56.2 261.6,57.2 260.4,56.3 259.5,57.6 257.9,57.9 256.7,57.6 255.9,58.6 254.8,58.8 253.7,58.8 252.8,58.1 251.7,57.9 250.5,57.7 249.5,57.0 249.5,55.7 248.6,54.2 247.3,54.1 246.6,53.2 245.8,52.6 244.8,52.0 243.8,51.2 242.6,51.0 242.0,49.2 243.1,49.8 244.2,50.2 245.4,50.1 246.4,50.7 247.4,50.8 248.5,50.1 249.5,50.7 250.6,50.9 251.8,50.8 252.9,50.9 253.9,51.7 254.9,51.4 255.9,52.4 257.0,51.4 257.9,52.5 259.0,51.8 260.1,51.8 261.1,52.3 262.2,51.9 263.4,52.1 264.6,52.3 265.8,51.7 266.9,51.7 267.6,50.7 268.7,50.8 269.5,50.1 270.1,48.9 269.2,48.3 268.4,47.4 267.3,47.0 266.4,46.1 265.1,45.9 264.0,45.5 262.8,45.9 261.8,45.4 260.6,45.1 259.5,45.1 258.5,44.7 257.4,44.3 256.4,43.9 255.3,43.7 254.3,43.4 253.1,43.8 252.1,43.3 251.2,42.5 250.1,42.6 249.0,42.3 247.8,42.1 246.6,42.2 245.4,42.3 243.9,41.4 242.9,40.6 241.7,41.2 240.8,40.7 239.7,40.9 238.7,40.8 237.6,41.0 236.4,41.8 235.1,41.0 233.9,39.8 235.2,39.9 236.4,39.2 237.6,39.2 236.3,39.0 236.1,37.6 234.9,37.6 233.7,37.7 232.6,37.1 231.4,37.3 229.8,38.2 228.2,37.3 227.3,36.7 226.1,37.7 224.9,37.4 223.6,37.0 222.5,36.4 221.4,36.5 220.0,36.7 218.9,37.3 217.8,37.5 216.8,37.3 215.8,37.3 214.7,37.7 213.5,37.4 212.6,38.2 211.5,38.6 210.4,39.1 209.2,39.4 207.9,39.2 206.9,39.3 205.8,39.5 204.8,39.8 203.8,39.8 202.7,39.9 201.7,39.8 200.6,40.0 199.4,39.3 198.6,40.4 197.4,40.3 196.7,41.9 195.4,41.4 194.6,42.3 193.3,42.1 192.3,42.6 190.8,43.5 190.3,44.5 189.2,44.8 187.9,44.6 187.0,45.4 188.0,46.1 189.2,46.0 188.3,46.4 187.5,47.1 186.0,46.3 185.4,47.5 184.5,47.9 182.9,48.9 184.1,48.3 185.1,49.1 186.1,49.5 185.2,50.7 183.5,49.5 182.8,51.4 181.4,51.0 181.0,52.3 179.8,52.6 178.9,54.2 177.3,54.2 176.7,55.7 175.1,56.3 174.3,57.0 173.8,58.0 172.6,58.2 171.5,58.4 171.1,59.5 172.4,59.7 173.6,60.4 172.4,61.1 171.2,61.0 170.0,60.3 168.9,60.4 167.6,59.9 166.8,61.1 165.8,61.3 164.5,61.1 163.7,62.0 162.6,62.3 161.2,62.3 160.1,63.2 159.1,63.4 158.3,64.1 157.3,64.5 156.4,66.0 156.8,67.2 156.1,68.2 156.4,70.1 157.6,70.6 157.3,72.0 158.2,73.5 157.9,75.1 158.6,76.0 159.7,76.8 161.1,77.3 162.2,78.3 163.6,77.6 164.9,76.8 166.4,76.9 167.8,76.6 168.9,75.7 169.7,74.7 171.1,74.5 171.7,73.4 172.9,73.5 174.2,73.0 173.9,71.6 174.2,73.2 175.1,74.1 175.8,74.8 175.8,76.3 176.9,76.6 177.6,77.6 177.9,78.8 179.2,80.1 179.9,81.1 180.8,81.9 180.1,83.2 180.5,84.2 181.1,85.1 181.1,85.7 182.1,85.8 183.1,85.7 184.1,85.8 185.1,85.7 185.4,84.4 186.7,83.5 187.9,83.5 189.2,83.6 190.4,83.5 191.4,82.9 192.0,81.9 192.4,80.9 192.6,79.8 192.9,77.9 193.6,76.0 194.4,75.3 195.6,75.5 196.4,74.8 197.7,74.7 198.6,73.9 199.5,73.2 199.2,71.6 198.2,70.4 196.7,70.1 195.3,70.4 194.8,69.1 194.1,68.1 194.5,67.0 195.1,65.1 196.3,64.7 196.4,63.5 197.7,63.1 198.6,62.0 199.7,61.6 200.6,60.9 201.7,60.4 202.8,60.3 203.8,59.7 204.8,59.5 205.8,58.3 207.3,57.9 207.9,56.3 209.1,56.1 209.3,54.8 210.1,54.2 211.6,54.3 212.6,53.2 213.9,53.2 215.1,53.6 216.4,53.2 217.7,53.1 218.9,53.4 219.8,54.5 220.1,55.7 219.3,57.1 217.6,57.0 216.4,57.4 215.4,58.4 214.2,58.8 212.9,58.7 212.3,60.0 211.1,60.1 210.2,61.0 208.9,60.8 207.9,61.3 207.2,62.3 207.0,63.5 207.8,64.4 208.1,65.5 207.9,66.6 207.6,68.5 208.6,69.8 209.9,69.7 210.8,70.7 211.5,71.5 212.6,71.6 213.8,71.9 214.8,71.7 215.8,71.0 216.8,71.5 217.9,71.7 218.9,70.7 220.1,71.2 221.0,70.3 222.0,70.1 223.1,70.1 224.0,69.1 225.1,69.8 226.3,69.9 227.5,70.2 228.6,68.7 229.8,69.5 230.1,70.7 231.4,70.7 232.6,71.3 234.0,70.9 235.1,71.6 233.7,71.3 232.3,71.6 231.2,72.7 229.8,72.0 228.2,72.9 227.2,73.4 226.1,72.6 225.1,73.0 223.8,73.6 222.5,73.5 221.4,72.6 220.4,72.7 219.3,72.1 218.3,72.1 217.3,72.9 216.4,73.7 215.4,74.1 214.2,73.7 214.2,74.8 214.8,76.0 216.7,76.6 217.3,77.6 217.2,78.7 217.0,79.8 216.1,80.7 214.2,80.9 212.6,80.4 211.9,79.4 211.4,78.4 210.0,78.9 208.6,79.1 207.5,79.8 206.7,80.7 206.4,82.3 206.4,83.4 206.7,84.4 207.0,86.0 206.2,86.7 205.1,87.1 203.2,87.3 202.3,88.7 201.1,89.1 199.2,88.8 198.6,87.9 197.4,87.9 196.4,87.6 195.3,87.7 194.3,87.9 193.2,88.2 191.9,88.5 190.8,89.1 189.6,89.4 188.6,89.9 187.4,89.8 186.4,90.2 185.1,90.4 183.9,89.4 182.6,88.2 181.4,88.8 180.3,88.9 179.2,89.1 178.1,89.1 177.1,89.6 176.1,89.7 174.8,90.1 174.5,89.1 172.6,88.8 172.0,87.6 171.4,86.6 170.8,85.4 171.8,85.1 172.6,84.4 172.9,82.9 174.8,82.6 173.8,81.9 172.9,81.0 173.4,79.9 173.9,78.8 172.0,79.4 171.0,79.9 170.1,80.4 168.9,80.3 167.6,80.4 166.4,81.3 166.1,82.6 166.1,83.8 166.1,85.4 167.0,86.0 167.6,86.9 167.6,88.5 168.6,90.1 167.3,91.3 165.8,91.0 164.6,91.7 163.2,91.9 162.2,92.1 161.1,91.9 159.8,91.8 158.6,91.9 157.4,92.4 156.4,93.2 155.4,94.7 154.6,95.5 153.9,96.3 152.9,96.9 152.0,98.2 150.1,98.6 148.6,99.3 147.2,99.7 145.8,99.7 146.0,100.8 145.8,101.9 144.8,102.3 143.9,102.9 142.6,103.2 141.4,103.5 141.1,104.4 139.8,104.7 138.4,104.5 137.0,104.4 136.7,103.5 134.8,103.5 135.8,105.0 136.4,106.8 134.5,106.9 133.4,107.1 132.3,107.2 130.8,106.1 129.5,106.2 128.2,106.6 127.0,107.2 125.8,107.5 127.3,108.5 126.7,109.0 127.8,109.0 128.9,109.4 130.2,109.6 131.4,110.2 132.5,110.7 133.6,111.1 134.2,112.5 135.4,113.8 136.2,114.4 137.0,115.0 137.3,116.6 137.2,117.9 137.0,119.1 136.6,120.2 136.5,121.3 136.1,122.8 135.1,123.2 134.0,123.3 132.8,123.3 131.7,123.2 130.3,122.9 128.9,123.0 127.8,123.0 126.8,123.1 125.8,123.2 124.6,123.1 123.4,122.8 122.3,122.5 121.1,122.5 119.8,122.9 118.6,122.7 117.1,122.7 115.8,122.2 114.9,122.8 113.9,123.0 112.9,123.5 111.7,124.7 112.3,125.5 112.9,126.3 112.9,128.2 113.2,129.4 113.6,130.6 113.5,132.0 112.9,133.1 112.1,134.4 111.4,135.6 111.4,136.7 111.1,137.7 112.6,138.1 113.2,138.8 113.2,140.3 113.2,142.2 112.6,143.1 113.7,143.2 114.7,143.2 115.8,142.8 117.6,142.5 119.2,142.7 120.8,143.8 121.4,145.0 122.1,145.6 122.9,146.3 123.9,145.6 125.2,145.3 126.4,144.7 127.5,144.6 128.7,144.5 129.8,144.1 130.9,144.2 131.9,143.9 132.9,143.8 134.2,144.1 134.8,143.2 135.1,142.2 136.4,141.8 137.6,141.3 138.6,141.0 138.9,139.4 139.7,138.8 140.6,138.3 141.4,137.7 140.7,136.4 139.8,135.3 140.8,133.8 141.6,133.1 142.5,132.4 143.2,131.6 144.5,130.3 145.5,130.0 146.5,129.6 147.6,129.4 148.8,129.1 149.7,128.3 150.8,127.8 150.8,126.3 150.3,124.7 151.7,123.5 152.9,123.1 154.2,122.8 156.1,123.2 157.6,123.8 158.7,123.7 159.8,124.1 161.7,123.5 162.7,122.8 163.9,122.2 165.2,122.0 166.4,121.6 167.3,120.8 168.2,120.0 169.4,120.2 170.4,120.7 172.0,121.3 172.9,122.8 173.9,124.6 174.9,125.1 175.8,126.0 176.8,126.5 177.6,127.2 178.4,128.1 179.5,128.8 180.4,129.4 181.4,129.9 182.6,130.0 183.9,130.0 184.8,131.3 186.1,131.9 187.3,132.8 188.3,133.5 189.5,133.6 190.1,135.3 190.7,136.2 191.1,137.2 190.1,138.5 189.8,140.2 191.1,140.2 191.8,139.5 192.6,138.8 193.2,137.8 194.2,137.2 194.2,135.6 192.6,134.7 192.3,133.5 193.6,132.4 195.4,132.8 197.0,133.5 198.6,134.4 198.4,133.1 198.1,131.7 196.7,131.7 195.4,131.7 194.9,130.1 193.6,130.2 192.1,129.7 190.8,129.2 191.1,127.7 190.0,127.0 188.9,127.7 187.8,127.2 186.7,127.2 185.5,126.6 184.5,125.7 183.3,125.1 184.5,123.4 183.2,122.8 182.2,122.2 181.3,121.4 180.1,121.0 179.2,119.4 179.2,118.3 179.5,117.2 180.5,116.7 181.4,116.0 182.4,116.3 183.6,116.3 183.2,117.8 184.2,118.8 185.4,117.5 187.3,118.2 188.3,119.0 188.2,120.3 188.4,121.7 190.2,121.3 190.4,122.5 192.3,122.8 193.0,123.7 194.6,123.1 195.1,124.4 195.7,125.5 197.0,125.3 197.6,126.5 198.9,126.3 200.1,127.2 201.7,128.2 201.5,129.7 201.4,131.3 201.1,132.5 202.6,133.6 203.6,135.0 204.5,136.0 205.4,136.9 205.8,138.2 206.7,139.1 207.9,139.4 207.6,140.6 208.3,141.5 208.6,142.5 209.2,143.8 210.4,144.7 211.4,143.8 212.1,144.6 213.2,144.9 212.3,143.1 212.3,141.6 214.2,141.9 213.2,140.3 214.4,140.9 215.8,141.0 215.9,139.4 215.4,138.0 213.9,138.1 213.3,137.0 212.0,137.2 212.6,136.0 211.7,134.7 211.1,133.1 212.0,131.9 212.4,133.3 213.9,133.1 215.1,132.8 215.4,131.9 216.9,131.6 218.2,131.1 219.3,130.4 220.4,131.1 222.0,131.6 222.9,132.5 224.5,131.9 225.6,131.3 226.7,130.8 227.8,131.1 228.9,130.6 230.1,130.6 231.4,130.5 230.4,129.7 229.3,129.2 228.2,128.5 227.6,127.2 227.0,126.0 227.9,124.7 227.9,123.8 228.8,123.1 229.8,122.8 230.1,121.3 230.8,119.4 232.0,119.3 233.2,118.8 233.6,117.5 233.2,116.3 234.2,115.8 235.1,115.4 236.0,114.6 236.7,113.8 238.2,113.2 240.1,113.5 241.3,113.9 242.3,114.7 243.6,114.6 244.8,114.7 245.8,115.4 244.7,115.9 243.7,116.5 242.6,116.9 243.9,117.6 245.1,118.5 245.4,119.7 246.7,120.0 247.9,119.9 248.9,119.6 249.9,119.4 250.8,118.8 252.0,118.2 253.3,118.3 254.5,118.0 255.1,117.1 253.6,116.8 252.5,117.2 251.4,117.2 250.6,116.6 249.8,116.0 250.1,114.4 251.1,114.1 252.2,113.8 253.2,113.2 254.5,113.1 255.8,112.9 257.0,112.3 258.2,111.8 259.4,111.9 260.4,111.6 261.8,111.2 263.2,111.1 262.6,111.9 261.4,112.2 260.1,112.5 259.5,113.8 260.8,114.7 259.5,115.7 258.9,116.9 257.6,116.8 256.4,117.2 255.4,117.5 256.1,118.0 257.3,118.5 258.4,119.1 259.5,119.7 260.7,120.2 262.0,120.7 263.0,121.2 263.8,122.0 264.8,122.5 265.7,123.1 266.7,123.5 267.8,124.2 268.9,125.0 269.8,126.0 270.8,126.9 270.8,128.8 269.7,129.2 268.9,130.0 267.5,130.5 266.1,130.8 264.2,130.5 263.1,130.8 261.9,130.9 260.8,130.8 259.3,130.7 257.9,130.5 256.7,129.9 255.4,129.4 254.4,129.1 253.6,128.5 252.4,127.9 251.1,127.5 249.9,127.4 248.8,127.5 247.6,127.7 246.6,127.6 245.5,127.4 244.5,127.5 243.1,128.0 241.7,128.5 240.8,129.1 239.8,129.6 238.9,130.0 237.7,129.9 236.6,129.8 235.4,130.0 234.3,129.7 233.2,129.7 232.0,129.9 231.5,130.6 232.3,131.3 234.2,131.4 232.6,131.9 231.1,132.5 229.7,132.1 228.2,132.5 227.2,132.9 226.1,132.5 224.2,132.7 223.2,133.5 222.6,134.1 222.3,135.3 224.2,136.0 224.8,136.9 224.2,138.1 223.2,139.1 224.5,138.8 225.4,140.0 224.8,141.0 226.1,141.9 226.7,143.1 228.6,143.8 229.2,144.2 230.3,143.7 231.4,144.4 232.3,145.1 233.2,145.6 234.5,145.8 235.8,145.5 236.4,143.9 237.5,143.8 238.6,143.8 239.7,144.0 240.8,144.7 241.6,145.5 242.6,145.9 243.7,145.8 244.8,145.8 245.9,145.3 247.0,145.3 248.0,144.6 248.9,143.8 250.8,144.4 252.0,144.4 253.6,143.8 253.2,145.3 252.6,146.6 252.9,148.1 253.2,149.7 252.7,150.8 252.0,151.9 251.7,152.8 251.4,153.8 250.8,154.7 250.1,156.2 249.8,157.8 249.4,158.8 248.9,159.7 247.9,160.9 246.4,161.4 245.3,161.3 244.2,161.6 242.9,161.5 241.7,161.1 240.4,160.3 238.9,160.0 237.0,160.5 235.4,160.3 234.2,161.2 233.0,161.8 231.7,162.3 230.6,162.1 229.5,161.7 228.2,161.5 227.0,161.2 225.9,161.1 224.8,160.6 223.8,160.4 222.7,160.4 221.7,160.0 220.4,159.9 219.2,160.2 218.6,159.3 217.6,158.9 215.8,158.7 214.5,158.3 213.2,158.1 212.4,157.4 211.5,156.9 210.8,156.1 209.5,156.1 208.2,155.8 207.1,155.9 206.1,156.6 204.8,157.0 203.9,157.8 202.9,159.4 203.0,160.6 203.2,161.9 202.7,162.7 202.0,163.4 201.0,163.8 200.1,164.2 198.6,163.7 197.9,163.0 197.0,162.5 196.0,162.0 194.9,162.0 193.9,161.6 192.8,161.4 191.7,161.4 190.8,160.9 189.9,160.2 188.9,159.7 188.2,157.8 187.0,157.3 185.8,156.9 184.3,156.7 182.9,156.1 181.9,156.2 180.9,156.0 179.8,156.1 178.7,155.9 177.7,155.4 176.7,155.2 175.4,154.7 174.2,153.8 172.9,153.4 172.3,152.2 172.0,151.3 173.2,150.8 174.2,150.0 175.4,148.8 174.2,147.5 173.6,145.6 174.8,144.4 175.4,143.0 173.9,143.4 172.6,143.8 172.6,142.5 171.4,142.2 170.1,142.3 168.9,142.8 167.3,143.3 166.1,143.3 164.8,143.3 163.2,142.8 161.8,142.9 160.4,143.1 159.4,143.4 158.4,144.1 157.3,144.4 156.1,143.8 154.8,143.4 153.7,143.5 152.5,143.7 151.4,143.8 149.9,143.8 148.6,144.4 147.5,144.6 146.5,144.5 145.4,144.7 144.2,145.1 143.1,145.7 142.0,146.3 140.9,146.4 139.8,146.7 137.9,147.2 136.7,147.6 135.8,148.4 133.9,149.1 132.8,148.7 131.7,148.8 130.6,148.4 129.5,148.6 128.2,148.6 127.0,148.8 126.1,148.1 125.1,147.5 124.2,146.7 122.3,146.9 121.4,148.1 120.6,149.3 120.1,150.6 119.2,151.6 118.6,152.8 117.5,153.4 116.4,153.8 115.1,154.4 113.9,155.0 113.0,156.0 112.0,156.9 111.7,158.7 110.9,159.5 110.4,160.6 110.1,162.5 110.8,164.1 110.1,165.3 M289.8,165.3 290.8,165.0 292.3,164.8 293.9,164.2 295.8,164.7 297.3,164.8 298.2,166.2 M287.6,120.0 288.1,118.9 288.5,117.7 289.2,116.6 290.4,116.0 291.7,115.4 292.6,114.8 293.6,114.4 294.5,113.8 295.6,113.2 296.8,113.3 297.9,112.9 298.9,112.6 299.9,112.1 300.8,111.6 301.8,111.9 302.8,112.1 303.9,112.2 305.1,112.7 306.4,112.9 307.0,114.7 306.5,115.9 306.4,117.2 305.3,117.0 304.3,116.9 303.2,116.9 302.2,117.3 301.1,117.5 300.5,118.4 300.1,119.4 301.4,120.3 300.2,120.1 299.1,120.2 297.9,120.3 298.7,121.4 299.5,122.5 300.2,123.4 301.1,124.1 302.2,124.8 303.2,125.7 304.2,126.8 304.8,128.2 305.4,129.3 306.1,130.3 307.1,130.1 307.9,129.4 308.9,129.1 310.2,129.3 311.4,129.7 310.4,130.3 309.5,131.0 308.5,131.3 307.4,131.5 306.4,131.9 307.2,132.7 307.6,133.8 307.6,135.3 308.5,136.2 309.2,137.2 309.3,138.2 309.4,139.2 309.1,140.2 309.2,141.2 309.2,142.2 308.3,142.7 307.4,143.2 306.4,143.4 305.2,143.5 304.0,143.4 302.9,143.7 301.7,143.8 300.5,143.3 299.2,143.2 297.9,142.8 297.1,142.2 296.1,142.0 295.1,141.6 294.6,140.6 294.2,139.6 293.6,138.8 293.9,137.2 294.5,136.4 295.1,135.6 295.1,134.4 295.1,133.1 296.5,132.9 297.9,132.5 296.6,132.4 295.4,131.9 294.5,131.1 293.9,130.0 292.9,129.2 292.3,128.2 291.7,127.1 291.0,126.1 290.1,125.3 289.2,124.1 289.5,122.2 287.9,121.3 287.6,120.0 M197.3,80.4 198.2,78.8 199.5,77.9 201.1,77.7 200.6,78.7 199.8,79.4 198.9,80.3 197.9,81.0 197.3,80.4 M192.0,83.2 192.9,81.6 193.7,80.7 194.2,79.6 193.2,81.3 192.7,82.3 192.0,83.2 M208.9,76.6 209.6,75.4 211.1,75.7 212.2,76.5 213.6,76.0 211.9,76.1 211.4,77.6 209.5,77.9 208.9,76.6 M210.4,75.1 212.0,74.5 212.6,75.1 211.1,75.4 210.4,75.1 M186.7,86.6 187.9,86.2 188.1,86.9 186.7,86.6 M175.1,86.0 175.8,84.4 177.6,83.8 178.9,83.9 180.1,83.8 179.8,85.1 179.4,86.0 178.6,86.6 176.7,86.6 175.1,86.0 M171.1,85.4 172.0,85.1 173.9,85.4 174.5,86.6 172.6,86.9 171.1,86.3 171.1,85.4 M175.1,87.3 176.7,87.3 178.6,87.6 177.9,88.2 176.8,88.1 175.8,87.9 175.1,87.3 M202.0,71.0 203.4,71.2 204.2,70.1 203.9,71.3 202.0,71.0 M167.5,126.3 167.6,127.8 168.2,128.8 169.5,129.4 170.1,128.8 170.6,127.2 170.3,125.3 170.0,124.4 169.7,125.3 167.9,125.7 167.5,126.3 M166.4,131.0 167.0,132.7 167.0,134.1 167.2,135.2 167.3,136.3 167.0,137.0 168.6,137.2 169.2,136.3 170.8,136.6 171.1,135.3 171.1,133.5 171.4,132.2 170.4,130.6 169.5,129.9 168.2,131.0 166.4,131.0 M179.5,140.0 179.8,141.3 180.9,141.7 182.0,141.6 183.0,142.2 184.1,142.5 185.1,142.8 186.1,143.2 186.9,143.8 187.9,144.1 188.6,143.1 187.9,141.6 188.6,140.3 189.7,139.2 188.2,139.4 187.2,139.4 186.1,139.7 185.1,140.0 183.7,139.8 182.3,139.4 180.4,139.5 179.5,140.0 M214.2,148.4 214.8,147.5 215.7,148.1 216.7,148.3 217.8,148.4 218.9,148.1 220.1,148.4 221.4,148.4 222.9,148.4 222.3,149.4 221.2,149.6 220.0,149.5 218.9,149.5 217.5,149.4 216.1,149.1 214.2,148.4 M241.7,149.4 242.6,148.8 244.5,148.3 245.6,148.0 246.7,147.7 247.7,147.3 248.9,147.2 247.9,148.1 247.0,149.1 246.7,149.5 245.3,150.1 243.9,150.5 242.3,150.3 241.7,149.4 M227.3,145.9 228.9,144.9 228.9,145.9 227.6,146.6 227.3,145.9 M212.0,136.9 213.6,137.7 214.7,138.1 215.8,138.8 216.9,139.0 217.6,140.0 216.7,139.7 215.4,139.7 214.5,138.8 213.2,138.7 212.6,137.5 212.0,136.9 M221.7,136.3 222.6,135.6 223.9,136.0 223.2,136.9 221.7,136.3 M221.7,138.8 222.3,138.1 222.5,139.1 221.7,138.8 M223.9,140.6 225.1,140.8 224.5,141.1 223.9,140.6 M219.2,134.1 220.1,133.8 219.8,134.4 219.2,134.1 M148.1,135.0 149.2,133.9 150.8,133.9 151.5,134.7 150.8,135.8 149.2,135.3 148.1,135.0 M152.6,133.8 154.2,134.2 152.8,134.1 152.6,133.8 M144.5,137.2 145.8,136.6 145.4,137.4 144.5,137.2 M185.4,146.6 186.4,146.7 185.8,146.9 185.4,146.6 M219.2,143.1 220.4,142.8 220.1,143.4 219.2,143.1 M218.6,140.6 219.2,140.3 218.7,141.3 218.6,140.6 M301.7,35.7 302.7,35.7 303.8,36.0 304.8,36.1 305.9,36.8 307.0,37.6 308.0,37.5 309.0,37.9 310.0,37.8 311.1,37.9 312.1,38.0 313.2,37.9 314.2,38.2 315.4,38.5 316.5,38.5 317.7,38.3 318.9,38.2 320.4,37.6 319.3,37.3 318.3,36.9 317.3,36.4 316.3,35.9 315.2,35.9 314.2,35.4 313.9,34.2 313.6,32.9 314.5,32.0 315.8,31.4 315.0,30.7 314.5,29.8 315.6,29.8 316.6,29.1 317.8,29.1 318.9,28.9 319.9,28.7 320.8,28.1 321.8,27.9 322.6,27.3 323.6,27.0 324.6,26.6 325.7,26.3 326.7,25.7 327.8,25.2 328.8,24.5 329.8,23.9 330.8,23.5 331.9,23.6 332.9,23.3 M301.7,35.7 302.6,35.2 303.4,34.5 304.2,33.9 305.0,32.9 305.8,32.0 306.9,31.4 307.9,30.7 308.9,29.2 309.8,28.8 310.8,28.5 311.8,28.2 312.6,27.6 313.4,26.4 314.2,25.1 315.1,24.5 315.8,23.6 M291.4,42.6 292.3,42.1 293.2,41.7 294.3,42.1 295.4,42.0 296.4,42.3 295.8,43.5 294.5,43.6 293.2,43.9 292.2,43.4 291.4,42.6 M323.6,40.1 324.8,39.6 325.8,38.7 326.8,39.0 327.7,39.4 328.8,39.4 329.8,39.8 328.4,40.3 327.0,40.7 325.9,40.3 324.7,40.1 323.6,40.1 M122.9,146.9 123.2,146.6 M60.0,140.5 61.1,140.5 62.2,140.8 61.1,141.0 60.0,140.5 M55.3,137.7 56.2,137.5 56.4,138.0 55.4,138.0 55.3,137.7 M51.5,138.3 53.1,138.6 52.3,138.8 51.5,138.3 M50.6,138.1 51.4,138.1 51.1,138.5 50.6,138.1 M52.3,137.8 54.0,138.3 53.2,138.1 52.3,137.8 M86.8,156.2 88.1,156.1 88.7,156.6 87.6,156.7 86.8,156.2 M179.8,46.5 181.1,47.1 181.9,45.8 182.9,45.7 184.1,46.4 185.0,45.3 185.8,44.3 187.0,44.9 188.2,45.0 188.8,43.5 190.1,44.0 190.8,44.5 189.8,45.0 188.9,45.7 187.5,44.4 186.7,45.6 185.8,46.2 184.7,46.0 183.7,46.4 182.6,46.4 181.2,46.2 179.8,46.5 M186.4,44.0 187.2,43.4 188.5,43.6 189.2,42.6 190.5,42.5 191.7,42.9 190.9,44.1 189.5,43.7 188.4,42.9 187.4,43.8 186.4,44.0" fill="none" stroke="#666" stroke-width="1.4" stroke-linejoin="round"/>
<path d="M55.8,43.9 57.3,44.6 58.3,43.9 59.5,43.5 60.5,43.1 61.3,42.1 62.6,42.6 63.7,42.2 64.9,42.2 65.8,41.4 66.5,40.3 67.7,40.1 68.9,39.8 70.2,39.8 71.1,38.9 72.0,37.6 70.7,37.7 70.4,36.4 71.1,34.9 72.6,35.4 73.2,33.9 72.0,34.0 71.4,32.9 72.1,31.7 73.6,32.0 74.6,31.7 75.1,30.7 76.2,29.7 77.6,29.5 76.7,28.2 77.3,26.9 78.9,27.0 79.4,26.1 80.4,25.7 81.0,24.8 81.4,23.9 M54.8,37.3 56.1,37.8 57.0,36.1 58.2,36.0 59.5,36.4 60.6,37.1 61.8,36.7 63.0,36.9 64.2,37.0 65.3,36.9 66.4,36.8 67.3,37.6 68.5,38.8 70.1,38.2 M53.2,35.1 54.2,33.9 55.4,33.7 57.0,35.4 57.9,34.2 58.9,35.3 60.4,33.9 61.6,34.4 62.6,35.1 63.6,34.5 64.8,35.1 65.8,34.5 66.8,34.2 67.8,34.1 68.9,34.2 70.8,34.8 M56.4,31.1 57.7,31.4 58.9,30.5 60.1,30.4 61.1,30.9 62.2,30.6 63.2,30.7 63.9,32.1 65.1,31.4 66.6,32.2 67.5,30.2 68.9,30.7 69.8,31.5 70.8,31.7 72.0,31.4 M61.1,28.9 62.3,29.2 63.6,29.3 64.6,28.4 65.8,27.9 66.8,28.9 67.9,29.3 69.2,28.8 70.4,28.9 71.8,28.1 73.0,28.4 74.2,29.2 M65.8,25.7 67.0,25.6 68.2,25.5 69.4,25.6 70.4,26.4 71.5,25.3 72.7,25.7 73.9,25.2 75.1,26.1 76.0,27.3 77.2,26.6 78.2,26.7 M57.9,38.5 59.2,38.1 60.4,38.2 61.4,39.0 62.6,39.2 63.9,39.5 65.1,39.9 66.1,38.4 67.3,38.5" fill="none" stroke="#6a6a6a" stroke-width="1.9" stroke-linejoin="round" stroke-linecap="round"/>
<path d="M64.2,54.2 65.5,53.5 66.4,52.3 67.9,52.5 68.9,51.3 70.8,51.3 72.0,52.6 73.3,53.1 M65.7,54.2 64.2,54.2 64.2,54.2" fill="none" stroke="#6a6a6a" stroke-width="2.2" stroke-linejoin="round" stroke-linecap="round"/>
<path d="M123.6,83.8 122.9,82.3 121.4,81.6 121.9,80.6 122.9,80.1 122.6,78.8 123.5,78.3 123.9,77.3 124.8,76.7 125.1,75.7 125.1,75.7 M117.3,80.7 118.3,80.0 118.2,78.8 119.2,77.9 120.0,76.6 121.4,76.0 119.5,76.6 119.4,77.9 119.2,79.1 117.2,79.3 117.3,80.7 M120.4,80.1 121.8,80.2 122.0,78.8 122.9,79.8 121.8,80.4 120.4,80.1 M122.3,83.8 121.4,84.1 M236.4,41.8 235.1,41.0 233.9,39.8 235.2,39.9 236.4,39.2 M236.3,39.0 236.1,37.6 234.9,37.6 233.7,37.7 232.6,37.1 231.4,37.3 229.8,38.2 228.2,37.3 227.3,36.7 226.1,37.7 224.9,37.4 223.6,37.0 222.5,36.4 221.4,36.5 220.0,36.7 218.9,37.3 217.8,37.5 216.8,37.3 215.8,37.3 214.7,37.7 213.5,37.4 212.6,38.2 211.5,38.6 210.4,39.1 209.2,39.4 207.9,39.2 206.9,39.3 205.8,39.5 204.8,39.8 203.8,39.8 202.7,39.9 201.7,39.8 200.6,40.0 199.4,39.3 198.6,40.4 197.4,40.3 196.7,41.9 195.4,41.4 194.6,42.3 193.3,42.1 192.3,42.6 190.8,43.5 190.3,44.5 189.2,44.8 187.9,44.6 187.0,45.4 188.0,46.1 189.2,46.0 188.3,46.4 187.5,47.1 186.0,46.3 185.4,47.5 184.5,47.9 182.9,48.9 184.1,48.3 185.1,49.1 186.1,49.5 185.2,50.7 183.5,49.5 182.8,51.4 181.4,51.0 181.0,52.3 179.8,52.6 178.9,54.2 177.3,54.2 176.7,55.7 175.1,56.3 174.3,57.0 173.8,58.0 172.6,58.2 171.5,58.4 171.1,59.5 172.4,59.7 173.6,60.4 172.4,61.1 171.2,61.0 170.0,60.3 168.9,60.4 167.6,59.9 166.8,61.1 165.8,61.3 164.5,61.1 163.7,62.0 162.6,62.3 161.2,62.3 160.1,63.2 159.1,63.4 158.3,64.1 157.3,64.5 156.4,66.0 156.8,67.2 156.1,68.2 156.4,70.1 157.6,70.6 157.3,72.0 158.2,73.5 157.9,75.1 158.6,76.0 M167.8,76.6 168.9,75.7 169.7,74.7 171.1,74.5 171.7,73.4 172.9,73.5 174.2,73.0 173.9,71.6 174.2,73.2 175.1,74.1 175.8,74.8 175.8,76.3 176.9,76.6 M193.6,76.0 194.4,75.3 195.6,75.5 196.4,74.8 197.7,74.7 198.6,73.9 199.5,73.2 199.2,71.6 198.2,70.4 196.7,70.1 195.3,70.4 194.8,69.1 194.1,68.1 194.5,67.0 195.1,65.1 196.3,64.7 196.4,63.5 197.7,63.1 198.6,62.0 199.7,61.6 200.6,60.9 201.7,60.4 202.8,60.3 203.8,59.7 204.8,59.5 205.8,58.3 207.3,57.9 207.9,56.3 209.1,56.1 209.3,54.8 210.1,54.2 211.6,54.3 212.6,53.2 213.9,53.2 215.1,53.6 216.4,53.2 217.7,53.1 218.9,53.4 219.8,54.5 220.1,55.7 219.3,57.1 217.6,57.0 216.4,57.4 215.4,58.4 214.2,58.8 212.9,58.7 212.3,60.0 211.1,60.1 210.2,61.0 208.9,60.8 207.9,61.3 207.2,62.3 207.0,63.5 207.8,64.4 208.1,65.5 207.9,66.6 207.6,68.5 208.6,69.8 209.9,69.7 210.8,70.7 211.5,71.5 212.6,71.6 213.8,71.9 214.8,71.7 215.8,71.0 216.8,71.5 217.9,71.7 218.9,70.7 220.1,71.2 221.0,70.3 222.0,70.1 223.1,70.1 224.0,69.1 225.1,69.8 226.3,69.9 227.5,70.2 228.6,68.7 229.8,69.5 230.1,70.7 231.4,70.7 232.6,71.3 234.0,70.9 235.1,71.6 233.7,71.3 232.3,71.6 231.2,72.7 229.8,72.0 228.2,72.9 227.2,73.4 226.1,72.6 225.1,73.0 223.8,73.6 222.5,73.5 221.4,72.6 220.4,72.7 219.3,72.1 218.3,72.1 217.3,72.9 216.4,73.7 215.4,74.1 214.2,73.7 214.2,74.8 214.8,76.0 M209.6,75.4 211.1,75.7 212.2,76.5 213.6,76.0 211.9,76.1 M210.4,75.1 212.0,74.5 212.6,75.1 211.1,75.4 210.4,75.1 M202.0,71.0 203.4,71.2 204.2,70.1 203.9,71.3 202.0,71.0 M179.8,46.5 181.1,47.1 181.9,45.8 182.9,45.7 184.1,46.4 185.0,45.3 185.8,44.3 187.0,44.9 188.2,45.0 188.8,43.5 190.1,44.0 190.8,44.5 189.8,45.0 188.9,45.7 187.5,44.4 186.7,45.6 185.8,46.2 184.7,46.0 183.7,46.4 182.6,46.4 181.2,46.2 179.8,46.5 M186.4,44.0 187.2,43.4 188.5,43.6 189.2,42.6 190.5,42.5 191.7,42.9 190.9,44.1 189.5,43.7 188.4,42.9 187.4,43.8 186.4,44.0" fill="none" stroke="#6a6a6a" stroke-width="2.4" stroke-linejoin="round" stroke-linecap="round"/>
<path d="M187.8,127.2 186.7,127.2 185.5,126.6 M185.4,117.5 187.3,118.2 188.3,119.0 188.2,120.3 188.4,121.7 190.2,121.3 190.4,122.5 192.3,122.8 193.0,123.7 194.6,123.1 195.1,124.4 195.7,125.5 197.0,125.3 197.6,126.5 198.9,126.3 200.1,127.2 M211.4,143.8 212.1,144.6 M212.3,143.1 212.3,141.6 214.2,141.9 213.2,140.3 214.4,140.9 215.8,141.0 215.9,139.4 215.4,138.0 213.9,138.1 213.3,137.0 212.0,137.2 212.6,136.0 211.7,134.7 M212.0,131.9 212.4,133.3 213.9,133.1 215.1,132.8 215.4,131.9 216.9,131.6 218.2,131.1 M220.4,131.1 222.0,131.6 222.9,132.5 224.5,131.9 225.6,131.3 226.7,130.8 227.8,131.1 M227.2,132.9 226.1,132.5 224.2,132.7 223.2,133.5 222.6,134.1 222.3,135.3 224.2,136.0 224.8,136.9 224.2,138.1 223.2,139.1 224.5,138.8 225.4,140.0 224.8,141.0 226.1,141.9 226.7,143.1 M212.0,136.9 213.6,137.7 214.7,138.1 215.8,138.8 216.9,139.0 217.6,140.0 216.7,139.7 215.4,139.7 214.5,138.8 213.2,138.7 212.6,137.5 212.0,136.9 M221.7,136.3 222.6,135.6 223.9,136.0 223.2,136.9 221.7,136.3 M221.7,138.8 222.3,138.1 222.5,139.1 221.7,138.8 M223.9,140.6 225.1,140.8 224.5,141.1 223.9,140.6 M219.2,134.1 220.1,133.8 219.8,134.4 219.2,134.1 M219.2,143.1 220.4,142.8 220.1,143.4 219.2,143.1 M218.6,140.6 219.2,140.3 218.7,141.3 218.6,140.6" fill="none" stroke="#6a6a6a" stroke-width="2.0" stroke-linejoin="round" stroke-linecap="round"/>
</g>
<rect x="47.0" y="24.5" width="312.5" height="140.5" fill="none" stroke="#000" stroke-width="1.2"/>
<rect x="140.75" y="71.33" width="187.50" height="62.44" fill="none" stroke="#008000" stroke-width="3"/>
<clipPath id="mclipc"><rect x="47.0" y="272.5" width="312.5" height="140.5"/></clipPath>
<g clip-path="url(#mclipc)">
<path d="M69.4,272.0 C77.3,271.7 107.1,270.8 111.4,272.0 C115.7,273.2 100.1,277.4 95.0,279.0 C89.9,280.6 84.3,280.1 81.0,281.3 C77.7,282.5 77.0,284.6 75.2,286.0 C73.4,287.4 69.4,289.4 70.0,290.0 C70.6,290.6 75.3,289.0 78.7,289.5 C82.1,290.0 87.7,291.4 90.4,293.0 C93.1,294.6 93.8,296.8 95.0,298.9 C96.2,301.0 97.8,303.8 97.4,305.9 C97.0,308.0 94.9,310.6 92.7,311.7 C90.5,312.8 87.6,312.7 84.5,312.3 C81.4,311.9 77.1,310.8 74.0,309.4 C70.9,308.0 68.0,305.9 66.0,304.0 C64.0,302.1 63.0,299.7 62.0,298.0 C61.0,296.3 61.2,295.7 60.0,294.0 C58.8,292.3 55.3,290.3 55.0,288.0 C54.7,285.7 56.5,282.3 58.0,280.0 C59.5,277.7 62.1,275.3 64.0,274.0 C65.9,272.7 61.5,272.3 69.4,272.0Z" fill="#d6eff9"/>
<path d="M75.0,272.0 C76.5,271.3 83.7,271.4 85.0,272.0 C86.3,272.6 84.5,274.8 83.0,275.5 C81.5,276.2 77.3,276.6 76.0,276.0 C74.7,275.4 73.5,272.7 75.0,272.0Z" fill="#a0d6f3" stroke="#fff" stroke-width="0.8"/>
<path d="M69.4,299.5 C70.4,298.9 73.5,298.6 76.0,298.5 C78.5,298.4 83.2,298.4 84.5,299.0 C85.8,299.6 85.4,301.4 84.0,302.0 C82.6,302.6 78.3,302.5 76.0,302.5 C73.7,302.5 71.1,302.5 70.0,302.0 C68.9,301.5 68.4,300.1 69.4,299.5Z" fill="#a0d6f3" stroke="#fff" stroke-width="0.8"/>
<path d="M46.0,296.5 C47.0,295.7 50.0,295.5 52.0,295.2 C54.0,294.9 57.0,294.5 57.7,294.8 C58.5,295.1 57.8,296.4 56.5,297.1 C55.2,297.8 51.8,298.5 50.0,299.0 C48.2,299.5 46.7,300.4 46.0,300.0 C45.3,299.6 45.0,297.3 46.0,296.5Z" fill="#fae89a"/>
<path d="M46.0,301.2 C47.2,292.5 50.9,300.4 53.0,301.2 C55.1,302.0 57.6,304.3 58.8,305.9 C60.0,307.5 59.8,309.2 60.0,311.0 C60.2,312.8 60.6,314.5 60.0,316.4 C59.4,318.3 56.5,320.1 56.5,322.2 C56.5,324.3 59.1,326.9 60.0,329.2 C60.9,331.5 61.4,333.4 61.7,335.8 C62.0,338.2 62.8,341.3 61.7,343.7 C60.7,346.1 58.0,348.4 55.4,350.0 C52.8,351.6 47.6,361.2 46.0,353.1 C44.4,345.0 44.8,309.9 46.0,301.2Z" fill="#d6eff9"/>
<path d="M46.0,305.3 C47.0,302.7 50.0,305.3 52.0,305.6 C54.0,305.9 56.7,305.6 57.7,307.0 C58.8,308.4 59.1,311.9 58.3,314.0 C57.5,316.1 55.0,318.7 53.0,319.9 C51.0,321.1 47.2,323.4 46.0,321.0 C44.8,318.6 45.0,307.9 46.0,305.3Z" fill="#a0d6f3" stroke="#fff" stroke-width="0.8"/>
<path d="M46.0,307.6 C47.0,306.3 50.6,309.6 51.8,310.5 C53.0,311.4 53.2,311.9 53.0,312.9 C52.8,313.9 51.9,315.5 50.7,316.4 C49.5,317.3 46.8,319.6 46.0,318.1 C45.2,316.6 45.0,308.9 46.0,307.6Z" fill="#529ed5" stroke="#fff" stroke-width="0.8"/>
<path d="M116.8,295.4 C117.0,294.5 118.3,293.1 120.4,292.4 C122.5,291.7 126.3,290.8 129.2,291.0 C132.1,291.2 135.6,292.9 138.0,293.9 C140.4,294.9 141.4,296.9 143.8,296.8 C146.2,296.7 149.7,294.4 152.6,293.2 C155.5,292.0 158.6,289.8 161.3,289.8 C164.0,289.8 166.2,291.9 168.6,293.2 C171.0,294.5 173.8,296.4 175.9,297.5 C178.0,298.6 181.5,298.3 181.0,299.7 C180.5,301.1 175.6,303.9 173.0,305.6 C170.4,307.3 168.1,308.8 165.7,310.0 C163.3,311.2 160.1,312.2 158.4,312.9 C156.7,313.6 157.9,313.8 155.5,314.3 C153.1,314.8 148.2,315.4 143.8,315.8 C139.4,316.2 133.3,316.6 129.2,316.5 C125.1,316.4 121.8,315.7 119.0,315.1 C116.2,314.5 113.6,313.8 112.4,312.9 C111.2,312.0 111.1,310.7 111.7,310.0 C112.3,309.3 113.7,309.0 116.1,308.5 C118.5,308.0 123.1,307.7 126.3,307.0 C129.4,306.3 133.8,305.1 135.0,304.1 C136.2,303.1 135.0,302.1 133.6,301.2 C132.2,300.3 128.7,299.6 126.3,299.0 C123.9,298.4 120.6,298.1 119.0,297.5 C117.4,296.9 116.6,296.2 116.8,295.4Z" fill="#fae89a"/>
<path d="M128.5,313.6 C128.5,312.8 128.1,311.4 130.7,310.7 C133.2,310.0 141.2,309.6 143.8,309.7 C146.4,309.8 146.0,310.5 146.0,311.4 C146.0,312.3 146.4,314.4 143.8,315.1 C141.2,315.8 133.2,315.8 130.7,315.5 C128.1,315.2 128.5,314.4 128.5,313.6Z" fill="#fcaa36" stroke="#fff" stroke-width="0.8"/>
<path d="M150.4,305.6 C150.7,305.0 152.9,304.1 155.5,303.8 C158.1,303.5 163.6,303.6 165.7,303.8 C167.8,304.1 168.4,304.8 167.9,305.3 C167.4,305.8 165.1,306.7 162.8,307.0 C160.5,307.3 156.1,307.5 154.0,307.3 C151.9,307.1 150.2,306.2 150.4,305.6Z" fill="#fcaa36" stroke="#fff" stroke-width="0.8"/>
<path d="M111.7,321.5 C112.0,320.8 114.3,320.8 116.0,320.9 C117.7,321.0 121.1,321.3 121.9,322.0 C122.7,322.7 122.3,324.8 121.0,325.3 C119.7,325.9 115.5,325.9 114.0,325.3 C112.5,324.7 111.4,322.2 111.7,321.5Z" fill="#fae89a"/>
<path d="M191.7,293.9 C191.9,292.8 196.1,290.7 199.0,290.2 C201.9,289.7 207.2,290.4 209.2,291.0 C211.1,291.6 211.2,293.0 210.7,293.9 C210.2,294.8 208.5,295.6 206.3,296.1 C204.1,296.6 199.9,297.2 197.5,296.8 C195.1,296.4 191.4,295.0 191.7,293.9Z" fill="#d6eff9"/>
<path d="M188.8,305.0 C189.7,304.6 193.7,304.5 194.6,304.8 C195.5,305.1 194.9,306.6 194.0,307.0 C193.1,307.4 189.9,307.5 189.0,307.2 C188.1,306.9 187.9,305.4 188.8,305.0Z" fill="#d6eff9"/>
<path d="M172.0,311.5 C172.6,310.5 174.0,309.6 176.0,309.2 C178.0,308.8 182.1,308.6 184.0,309.0 C185.9,309.4 187.2,310.4 187.5,311.5 C187.8,312.6 187.8,314.7 186.0,315.5 C184.2,316.3 179.2,316.6 177.0,316.5 C174.8,316.4 173.3,315.8 172.5,315.0 C171.7,314.2 171.4,312.5 172.0,311.5Z" fill="#d6eff9"/>
<path d="M175.5,312.2 C175.7,311.6 177.6,311.1 179.0,311.0 C180.4,310.9 183.2,311.0 184.0,311.5 C184.8,312.0 184.5,313.5 183.5,314.0 C182.5,314.5 179.3,314.8 178.0,314.5 C176.7,314.2 175.3,312.8 175.5,312.2Z" fill="#a0d6f3" stroke="#fff" stroke-width="0.8"/>
<path d="M210.7,309.0 C211.2,308.4 213.6,308.3 215.0,308.5 C216.4,308.7 219.1,309.4 219.4,310.0 C219.7,310.6 218.2,311.8 217.0,312.1 C215.8,312.4 213.1,312.5 212.0,312.0 C210.9,311.5 210.2,309.6 210.7,309.0Z" fill="#fae89a"/>
<path d="M211.0,309.0 C212.2,308.4 217.8,308.1 219.0,308.6 C220.2,309.2 219.2,311.7 218.0,312.3 C216.8,312.9 213.2,312.9 212.0,312.3 C210.8,311.8 209.8,309.6 211.0,309.0Z" fill="#fae89a"/>
<path d="M238.4,288.0 C238.4,286.5 237.7,287.4 239.9,286.6 C242.1,285.8 249.3,284.2 251.5,283.0 C253.7,281.8 251.8,280.2 253.0,279.3 C254.2,278.4 256.1,277.8 258.8,277.5 C261.5,277.2 267.5,277.0 269.0,277.8 C270.5,278.6 266.9,281.0 267.6,282.2 C268.3,283.4 271.3,284.0 273.4,285.1 C275.5,286.2 277.2,287.0 280.0,289.0 C282.8,291.0 286.3,294.4 290.0,297.0 C293.7,299.6 301.9,303.2 302.4,304.6 C302.8,306.0 296.2,305.5 292.7,305.3 C289.2,305.1 285.3,303.8 281.6,303.2 C277.9,302.6 274.8,301.8 270.5,301.8 C266.2,301.8 260.0,302.9 255.9,303.4 C251.8,303.9 247.9,305.2 245.7,304.8 C243.5,304.4 243.8,302.8 242.8,301.2 C241.8,299.6 240.6,297.6 239.9,295.4 C239.2,293.2 238.4,289.5 238.4,288.0Z" fill="#fae89a"/>
<path d="M248.6,299.0 C248.6,298.1 250.3,295.8 251.5,294.6 C252.7,293.4 254.0,292.1 255.9,291.7 C257.9,291.3 261.0,291.8 263.2,292.4 C265.4,293.0 268.5,294.3 269.0,295.4 C269.5,296.5 267.8,298.2 266.1,299.0 C264.4,299.8 261.2,299.8 258.8,300.0 C256.4,300.2 253.2,300.4 251.5,300.2 C249.8,300.0 248.6,299.9 248.6,299.0Z" fill="#fcaa36" stroke="#fff" stroke-width="0.8"/>
<path d="M321.9,275.0 C322.6,274.1 325.9,274.1 327.0,274.8 C328.1,275.5 329.0,277.9 328.8,279.0 C328.6,280.1 327.1,281.5 326.0,281.7 C324.9,281.9 323.2,281.1 322.5,280.0 C321.8,278.9 321.1,275.9 321.9,275.0Z" fill="#d6eff9"/>
<path d="M342.7,277.0 C344.5,276.7 352.1,276.2 353.8,276.5 C355.5,276.8 354.8,278.2 353.0,278.5 C351.2,278.8 344.7,278.8 343.0,278.5 C341.3,278.2 340.9,277.3 342.7,277.0Z" fill="#d6eff9"/>
<path d="M353.8,285.2 C354.8,284.6 359.0,283.9 360.0,284.5 C361.0,285.1 361.0,287.9 360.0,288.5 C359.0,289.1 355.0,288.6 354.0,288.0 C353.0,287.4 352.8,285.8 353.8,285.2Z" fill="#d6eff9"/>
<path d="M328.1,313.6 C330.1,312.7 335.6,312.9 339.9,312.2 C344.2,311.5 352.4,309.2 353.8,309.4 C355.2,309.6 350.5,312.0 348.2,313.6 C345.9,315.2 342.9,318.1 339.9,319.2 C336.9,320.3 332.2,320.7 330.2,320.5 C328.2,320.3 328.5,318.9 328.1,317.8 C327.8,316.7 326.1,314.5 328.1,313.6Z" fill="#fae89a"/>
<path d="M327.9,313.8 C329.5,312.5 335.2,312.5 339.3,311.9 C343.4,311.3 350.9,309.7 352.5,310.0 C354.1,310.3 351.2,312.4 348.7,313.8 C346.2,315.2 340.5,317.6 337.4,318.5 C334.2,319.4 331.4,320.3 329.8,319.5 C328.2,318.7 326.3,315.1 327.9,313.8Z" fill="#fae89a"/>
<path d="M346.8,323.3 C347.8,322.4 351.6,322.4 352.5,323.3 C353.4,324.2 353.4,328.1 352.5,329.0 C351.6,329.9 347.8,329.9 346.8,329.0 C345.9,328.1 345.9,324.2 346.8,323.3Z" fill="#d6eff9"/>
<path d="M85.4,365.8 C86.3,365.1 88.1,362.5 90.8,361.5 C93.5,360.5 97.4,360.4 101.5,359.8 C105.6,359.2 111.4,358.2 115.5,357.7 C119.6,357.2 123.2,357.0 126.2,356.6 C129.2,356.2 132.2,356.6 133.8,355.5 C135.4,354.4 135.3,352.1 136.0,350.0 C136.7,347.9 136.9,344.9 138.0,343.0 C139.1,341.1 139.2,339.3 142.4,338.6 C145.6,337.9 153.5,339.3 157.0,338.6 C160.5,337.9 159.4,334.6 163.5,334.2 C167.6,333.8 173.9,336.0 181.8,336.4 C189.7,336.8 203.7,337.0 211.0,336.4 C218.3,335.8 221.1,333.5 225.6,332.7 C230.1,331.9 233.9,332.0 238.0,331.3 C242.1,330.6 242.5,328.9 250.0,328.5 C257.5,328.1 276.3,330.2 283.0,329.0 C289.7,327.8 285.5,322.8 290.0,321.4 C294.5,320.0 304.6,320.5 310.0,320.5 C315.4,320.5 318.9,318.7 322.2,321.4 C325.5,324.1 326.9,333.8 329.8,336.5 C332.7,339.2 336.5,336.2 339.3,337.5 C342.1,338.8 345.6,341.1 346.8,344.1 C348.1,347.1 345.9,352.4 346.8,355.5 C347.8,358.6 350.6,361.1 352.5,363.0 C354.4,364.9 357.2,363.6 358.2,366.8 C359.1,370.0 360.1,378.8 358.2,382.0 C356.3,385.2 349.9,383.9 346.8,385.8 C343.7,387.7 341.2,390.9 339.3,393.4 C337.4,395.9 335.8,398.5 335.5,401.0 C335.2,403.5 338.0,406.3 337.4,408.5 C336.8,410.7 334.2,413.1 331.7,414.0 C329.2,414.9 324.4,416.2 322.2,414.0 C320.0,411.8 322.1,404.7 318.4,401.0 C314.7,397.3 305.6,394.8 300.0,392.0 C294.4,389.2 291.3,385.3 285.0,384.0 C278.7,382.7 268.2,384.5 262.0,384.0 C255.8,383.5 253.3,381.7 248.0,381.0 C242.7,380.3 237.2,380.2 230.0,380.0 C222.8,379.8 212.5,379.7 205.0,380.0 C197.5,380.3 191.7,381.7 185.0,382.0 C178.3,382.3 170.8,380.6 165.0,382.0 C159.2,383.4 154.8,388.2 150.0,390.5 C145.2,392.8 140.4,394.3 135.9,395.9 C131.4,397.5 126.4,398.8 123.0,400.2 C119.6,401.6 118.0,403.1 115.5,404.5 C113.0,405.9 110.3,408.4 108.0,408.8 C105.7,409.2 102.4,408.0 101.5,406.6 C100.6,405.2 103.1,402.9 102.6,400.2 C102.1,397.5 99.9,393.6 98.3,390.5 C96.7,387.4 94.3,384.8 92.9,381.9 C91.5,379.0 91.0,376.0 89.7,373.3 C88.5,370.6 86.1,367.1 85.4,365.8 C84.7,364.6 84.5,366.5 85.4,365.8Z" fill="#d6eff9"/>
<path d="M304.2,331.0 C304.9,328.8 307.3,329.2 309.0,329.5 C310.7,329.8 313.8,330.4 314.6,333.0 C315.4,335.6 314.9,342.5 314.0,345.0 C313.1,347.5 310.6,348.2 309.0,347.9 C307.4,347.6 305.3,345.8 304.5,343.0 C303.7,340.2 303.4,333.2 304.2,331.0Z" fill="#ffffff"/>
<path d="M175.0,358.0 C178.0,357.1 185.0,357.3 190.0,357.5 C195.0,357.7 201.7,358.1 205.0,359.0 C208.3,359.9 210.8,361.8 210.0,363.0 C209.2,364.2 204.2,365.6 200.0,366.0 C195.8,366.4 189.7,366.0 185.0,365.5 C180.3,365.0 173.7,364.2 172.0,363.0 C170.3,361.8 172.0,358.9 175.0,358.0Z" fill="#ffffff"/>
<path d="M270.0,366.0 C273.3,363.7 281.3,361.7 285.0,362.0 C288.7,362.3 291.2,365.3 292.0,368.0 C292.8,370.7 292.7,376.0 290.0,378.0 C287.3,380.0 280.2,380.3 276.0,380.0 C271.8,379.7 266.0,378.3 265.0,376.0 C264.0,373.7 266.7,368.3 270.0,366.0Z" fill="#ffffff"/>
<path d="M112.3,386.0 C112.8,384.6 117.3,384.8 120.0,385.0 C122.7,385.2 127.4,385.6 128.4,387.0 C129.4,388.4 127.9,392.6 126.0,393.7 C124.1,394.8 119.3,394.8 117.0,393.5 C114.7,392.2 111.8,387.4 112.3,386.0Z" fill="#ffffff"/>
<path d="M128.0,384.0 C128.8,383.0 133.0,382.8 135.0,383.0 C137.0,383.2 139.5,383.9 140.2,385.0 C140.9,386.1 140.7,388.7 139.0,389.4 C137.3,390.1 131.8,389.9 130.0,389.0 C128.2,388.1 127.2,385.0 128.0,384.0Z" fill="#ffffff"/>
<path d="M113.4,334.0 C115.3,332.5 120.6,331.5 125.0,331.1 C129.4,330.7 137.5,328.9 140.0,331.5 C142.5,334.1 141.7,344.2 140.0,346.8 C138.3,349.4 133.7,347.3 130.0,347.0 C126.3,346.7 120.8,346.2 118.0,345.0 C115.2,343.8 114.2,341.8 113.4,340.0 C112.6,338.2 111.5,335.5 113.4,334.0Z" fill="#d6eff9"/>
<path d="M130.6,337.4 C131.1,336.5 133.7,336.6 135.0,336.8 C136.3,337.0 138.1,337.6 138.5,338.5 C138.9,339.4 138.6,341.5 137.5,342.1 C136.4,342.7 133.2,342.8 132.0,342.0 C130.8,341.2 130.1,338.3 130.6,337.4Z" fill="#a0d6f3" stroke="#fff" stroke-width="0.8"/>
<path d="M143.8,331.3 C143.8,329.8 146.5,327.9 148.2,326.9 C149.9,325.9 152.1,325.1 154.1,325.4 C156.1,325.6 158.9,326.9 159.9,328.4 C160.9,329.9 160.6,332.9 159.9,334.2 C159.2,335.5 157.4,336.1 155.5,336.4 C153.6,336.6 150.1,336.5 148.2,335.7 C146.2,334.9 143.8,332.8 143.8,331.3Z" fill="#a0d6f3" stroke="#fff" stroke-width="0.8"/>
<path d="M180.3,325.4 C180.5,324.3 182.8,322.9 184.7,322.5 C186.6,322.1 190.4,322.5 192.0,323.2 C193.6,323.9 194.4,325.9 194.2,326.9 C194.0,327.9 192.4,328.7 190.6,329.1 C188.8,329.5 185.0,329.7 183.3,329.1 C181.6,328.5 180.1,326.5 180.3,325.4Z" fill="#fae89a"/>
<path d="M170.8,326.5 C171.4,325.9 174.1,325.5 175.0,326.0 C175.9,326.5 176.6,328.9 176.0,329.5 C175.4,330.1 172.4,330.3 171.5,329.8 C170.6,329.3 170.2,327.1 170.8,326.5Z" fill="#fae89a"/>
<path d="M96.1,385.1 C96.6,382.7 100.1,374.2 101.5,371.1 C102.9,368.1 102.4,367.8 104.7,366.8 C107.0,365.8 111.9,365.6 115.5,365.2 C119.1,364.8 122.8,364.6 126.2,364.7 C129.6,364.8 133.8,364.7 135.9,365.8 C138.0,366.9 138.6,369.0 138.6,371.1 C138.6,373.2 138.0,376.9 135.9,378.7 C133.8,380.5 129.6,381.0 126.2,381.9 C122.8,382.8 118.9,383.8 115.5,384.0 C112.1,384.2 108.7,382.7 105.8,383.0 C102.9,383.3 99.9,385.2 98.3,385.6 C96.7,386.0 95.6,387.5 96.1,385.1Z" fill="#a0d6f3" stroke="#fff" stroke-width="0.8"/>
<path d="M117.1,373.3 C117.5,372.0 118.3,370.9 119.8,370.1 C121.3,369.3 123.9,368.5 126.2,368.4 C128.5,368.3 132.5,368.8 133.8,369.5 C135.1,370.2 134.7,371.6 133.8,372.7 C132.9,373.8 130.6,374.9 128.4,376.0 C126.2,377.1 122.8,378.8 120.9,379.2 C119.0,379.6 117.7,379.1 117.1,378.1 C116.5,377.1 116.6,374.6 117.1,373.3Z" fill="#529ed5" stroke="#fff" stroke-width="0.8"/>
<path d="M123.0,371.1 C123.5,370.7 125.0,370.1 126.2,370.1 C127.5,370.1 130.3,370.4 130.5,370.9 C130.7,371.4 128.5,373.0 127.3,373.3 C126.1,373.6 124.2,373.1 123.5,372.7 C122.8,372.3 122.5,371.5 123.0,371.1Z" fill="#2458a7" stroke="#fff" stroke-width="0.8"/>
<path d="M144.9,342.3 C146.6,339.8 149.0,338.5 154.8,337.3 C160.6,336.1 171.3,335.2 179.6,334.9 C187.9,334.6 198.0,335.7 204.4,335.5 C210.8,335.3 212.5,334.9 218.1,333.8 C223.7,332.8 231.7,330.5 237.8,329.2 C243.9,327.9 249.4,326.6 254.9,325.9 C260.4,325.2 265.4,325.1 270.7,325.2 C276.0,325.3 283.2,325.5 286.5,326.5 C289.8,327.5 290.0,328.6 290.4,331.1 C290.8,333.6 290.2,338.6 289.1,341.7 C288.0,344.8 285.8,347.1 283.8,349.5 C281.8,351.9 280.6,354.6 277.3,356.1 C274.0,357.6 268.5,358.1 264.1,358.7 C259.7,359.3 255.4,359.3 251.0,360.0 C246.6,360.7 242.2,362.1 237.8,362.7 C233.4,363.2 228.8,363.5 224.7,363.3 C220.5,363.1 216.3,361.8 212.9,361.4 C209.5,361.0 210.0,361.2 204.4,360.9 C198.8,360.6 187.0,360.1 179.6,359.7 C172.2,359.3 165.6,359.6 159.8,358.4 C154.0,357.1 147.4,354.9 144.9,352.2 C142.4,349.5 143.2,344.8 144.9,342.3Z" fill="#a0d6f3" stroke="#fff" stroke-width="0.8"/>
<path d="M163.5,344.8 C165.2,342.7 170.3,340.5 174.7,339.8 C179.0,339.1 184.5,340.3 189.6,340.5 C194.7,340.7 200.8,340.9 205.0,341.0 C209.2,341.1 213.6,340.8 215.0,341.4 C216.4,342.0 215.2,343.6 213.5,344.8 C211.8,346.0 208.2,347.4 205.0,348.3 C201.8,349.2 196.4,349.0 194.0,350.3 C191.6,351.6 193.7,355.1 190.5,356.0 C187.3,356.9 179.0,356.5 174.7,355.9 C170.4,355.3 166.6,354.0 164.7,352.2 C162.8,350.4 161.8,346.9 163.5,344.8Z" fill="#529ed5" stroke="#fff" stroke-width="0.8"/>
<path d="M220.8,352.8 C222.9,351.7 231.4,351.7 233.9,350.8 C236.4,349.9 234.2,349.1 235.9,347.6 C237.7,346.1 242.3,343.4 244.4,341.7 C246.5,339.9 246.7,338.6 248.4,337.1 C250.2,335.6 252.5,333.5 254.9,332.5 C257.3,331.5 259.7,331.3 262.8,331.1 C265.9,330.9 270.0,330.8 273.3,331.1 C276.6,331.4 280.8,332.0 282.5,333.1 C284.2,334.2 284.2,335.8 283.8,337.7 C283.4,339.6 281.0,342.3 279.9,344.3 C278.8,346.3 280.1,348.2 277.3,349.5 C274.5,350.8 267.2,351.3 262.8,352.2 C258.4,353.1 254.1,353.9 251.0,354.8 C247.9,355.7 247.7,357.0 244.4,357.4 C241.1,357.8 234.4,357.0 231.3,357.4 C228.2,357.8 227.7,360.0 226.0,360.0 C224.3,360.0 222.3,358.6 221.4,357.4 C220.5,356.2 218.7,353.9 220.8,352.8Z" fill="#529ed5" stroke="#fff" stroke-width="0.8"/>
<path d="M173.7,346.0 C173.8,344.9 175.8,343.6 177.6,343.2 C179.4,342.8 182.9,342.7 184.7,343.6 C186.5,344.5 188.1,346.5 188.3,348.4 C188.5,350.3 187.7,353.6 186.0,355.0 C184.3,356.4 180.0,356.8 178.0,356.5 C176.0,356.2 174.4,354.2 174.2,353.1 C174.0,352.0 177.1,351.2 177.0,350.0 C176.9,348.8 173.6,347.1 173.7,346.0Z" fill="#2458a7" stroke="#fff" stroke-width="0.8"/>
<path d="M252.3,344.3 C252.3,343.2 252.7,341.6 253.6,340.3 C254.5,339.0 256.1,337.2 257.6,336.4 C259.1,335.6 260.6,335.7 262.8,335.7 C265.0,335.7 268.7,335.8 270.7,336.4 C272.7,336.9 274.2,337.8 274.6,339.0 C275.0,340.2 274.4,342.8 273.3,343.6 C272.2,344.4 270.3,343.6 268.1,343.6 C265.9,343.6 261.9,343.2 260.2,343.6 C258.4,344.0 258.7,345.6 257.6,346.2 C256.5,346.8 254.5,347.2 253.6,346.9 C252.7,346.6 252.3,345.4 252.3,344.3Z" fill="#2458a7" stroke="#fff" stroke-width="0.8"/>
<path d="M288.0,323.0 C289.5,321.2 293.8,321.2 296.0,321.5 C298.2,321.8 300.5,322.9 301.0,325.0 C301.5,327.1 300.5,331.8 299.0,334.0 C297.5,336.2 294.0,338.3 292.0,338.0 C290.0,337.7 287.7,334.5 287.0,332.0 C286.3,329.5 286.5,324.8 288.0,323.0Z" fill="#a0d6f3" stroke="#fff" stroke-width="0.8"/>
<path d="M304.2,331.5 C304.9,329.3 307.3,329.5 309.0,329.8 C310.7,330.1 313.7,331.1 314.5,333.5 C315.3,335.9 314.9,342.1 314.0,344.5 C313.1,346.9 310.5,348.1 309.0,347.8 C307.5,347.6 305.6,345.7 304.8,343.0 C304.0,340.3 303.5,333.7 304.2,331.5Z" fill="#ffffff"/>
<path d="M290.0,360.0 C290.7,358.0 292.5,355.2 296.0,354.0 C299.5,352.8 306.0,352.7 311.2,352.5 C316.4,352.3 323.2,352.1 327.0,353.0 C330.8,353.9 333.0,355.5 334.0,358.0 C335.0,360.5 334.3,365.2 333.0,368.0 C331.7,370.8 329.5,373.3 326.0,374.5 C322.5,375.7 316.3,375.4 312.0,375.0 C307.7,374.6 303.3,373.5 300.0,372.0 C296.7,370.5 293.7,368.0 292.0,366.0 C290.3,364.0 289.3,362.0 290.0,360.0Z" fill="#a0d6f3" stroke="#fff" stroke-width="0.8"/>
<path d="M297.0,360.0 C298.0,358.4 301.5,357.0 305.0,356.5 C308.5,356.0 314.5,356.4 318.0,357.0 C321.5,357.6 324.5,358.2 326.0,360.0 C327.5,361.8 328.2,365.9 327.0,368.0 C325.8,370.1 322.3,371.9 319.0,372.5 C315.7,373.1 310.3,372.6 307.0,371.5 C303.7,370.4 300.7,367.9 299.0,366.0 C297.3,364.1 296.0,361.6 297.0,360.0Z" fill="#529ed5" stroke="#fff" stroke-width="0.8"/>
<path d="M337.4,370.6 C339.8,370.6 350.6,373.3 352.5,374.4 C354.4,375.5 351.1,377.3 348.7,377.3 C346.3,377.3 340.2,375.5 338.3,374.4 C336.4,373.3 335.0,370.6 337.4,370.6Z" fill="#a0d6f3" stroke="#fff" stroke-width="0.8"/>
<path d="M258.7,365.6 C260.1,365.2 268.0,364.8 269.7,365.3 C271.4,365.8 270.3,368.4 268.9,368.8 C267.5,369.2 262.8,368.5 261.1,368.0 C259.4,367.5 257.3,366.1 258.7,365.6Z" fill="#fae89a"/>
<path d="M327.9,313.8 C329.5,312.5 335.2,312.5 339.3,311.9 C343.4,311.3 350.9,309.7 352.5,310.0 C354.1,310.3 351.2,312.4 348.7,313.8 C346.2,315.2 340.5,317.6 337.4,318.5 C334.2,319.4 331.4,320.3 329.8,319.5 C328.2,318.7 326.3,315.1 327.9,313.8Z" fill="#fae89a"/>
<path d="M46.0,364.8 C48.6,356.5 57.0,364.5 61.7,364.8 C66.4,365.1 71.2,365.2 74.2,366.4 C77.2,367.6 79.2,369.9 79.7,371.9 C80.2,373.9 78.7,376.6 77.3,378.2 C75.9,379.8 73.3,380.3 71.1,381.3 C68.9,382.3 65.3,382.3 64.0,384.4 C62.7,386.5 62.9,390.7 63.2,393.8 C63.5,396.9 64.9,399.8 65.6,403.2 C66.3,406.6 70.5,412.6 67.2,414.5 C63.9,416.4 49.5,422.8 46.0,414.5 C42.5,406.2 43.4,373.1 46.0,364.8Z" fill="#fae89a"/>
<path d="M46.0,368.8 C48.1,361.2 54.2,368.9 58.5,369.1 C62.8,369.4 69.3,369.6 71.9,370.3 C74.5,371.0 74.6,372.4 74.2,373.5 C73.8,374.6 71.8,375.6 69.5,376.6 C67.2,377.6 63.0,378.6 60.1,379.7 C57.2,380.8 54.1,381.5 52.3,382.9 C50.5,384.3 49.9,386.1 49.5,388.0 C49.1,389.9 49.1,392.3 50.0,394.0 C50.9,395.7 53.3,396.7 55.0,398.0 C56.7,399.3 58.8,400.3 60.0,402.0 C61.2,403.7 61.7,405.9 62.0,408.0 C62.3,410.1 64.7,413.4 62.0,414.5 C59.3,415.6 48.7,422.1 46.0,414.5 C43.3,406.9 43.9,376.4 46.0,368.8Z" fill="#fcaa36" stroke="#fff" stroke-width="0.8"/>
<path d="M130.6,409.5 C132.3,408.1 137.7,408.5 140.0,406.4 C142.3,404.3 142.3,399.1 144.7,397.0 C147.0,394.9 151.0,394.7 154.1,393.8 C157.2,392.9 159.8,391.9 163.5,391.5 C167.2,391.1 172.9,390.6 176.0,391.5 C179.1,392.4 181.8,395.1 182.3,397.0 C182.8,398.9 181.0,401.4 179.2,403.2 C177.4,405.0 173.9,406.3 171.3,407.9 C168.7,409.5 166.6,411.5 163.5,412.6 C160.4,413.7 158.1,414.2 152.5,414.5 C146.9,414.8 133.7,415.3 130.0,414.5 C126.3,413.7 128.9,410.9 130.6,409.5Z" fill="#fae89a"/>
<path d="M143.1,406.4 C143.6,404.5 144.2,404.8 146.3,403.2 C148.4,401.6 153.3,398.6 155.7,397.0 C158.0,395.4 157.3,394.5 160.4,393.8 C163.5,393.1 171.6,392.4 174.5,393.0 C177.4,393.6 178.1,396.0 177.6,397.7 C177.1,399.4 173.9,401.5 171.3,403.2 C168.7,404.9 164.5,406.3 161.9,407.9 C159.3,409.5 157.8,411.5 155.7,412.6 C153.6,413.7 151.5,414.2 149.4,414.5 C147.3,414.8 144.2,415.9 143.1,414.5 C142.0,413.1 142.6,408.3 143.1,406.4Z" fill="#fcaa36" stroke="#fff" stroke-width="0.8"/>
<path d="M161.9,395.4 C163.0,394.6 167.4,393.5 169.0,393.8 C170.6,394.1 171.3,395.8 171.3,397.0 C171.3,398.2 170.0,400.2 169.0,400.9 C168.0,401.5 166.2,401.3 165.1,400.9 C164.0,400.5 163.2,399.4 162.7,398.5 C162.2,397.6 160.8,396.2 161.9,395.4Z" fill="#f7722b" stroke="#fff" stroke-width="0.8"/>
<path d="M147.8,405.6 C148.3,404.3 150.5,404.1 152.5,404.0 C154.5,403.9 158.2,404.2 159.6,404.8 C161.0,405.4 161.6,406.7 161.2,407.9 C160.8,409.1 159.2,411.2 157.2,411.9 C155.2,412.6 151.0,412.9 149.4,411.9 C147.8,410.8 147.3,406.9 147.8,405.6Z" fill="#f7722b" stroke="#fff" stroke-width="0.8"/>
<path d="M202.7,382.0 C206.0,379.7 217.9,380.8 225.0,381.0 C232.1,381.2 238.8,382.3 245.0,383.0 C251.2,383.7 256.7,384.2 262.0,385.0 C267.3,385.8 274.1,385.1 276.8,387.6 C279.5,390.1 278.8,397.1 278.0,400.0 C277.2,402.9 274.7,404.5 272.0,405.0 C269.3,405.5 265.7,402.4 262.0,403.2 C258.3,404.0 253.7,408.1 250.0,410.0 C246.3,411.9 244.0,413.8 240.0,414.5 C236.0,415.2 230.2,416.1 226.0,414.5 C221.8,412.9 218.5,408.2 215.0,405.0 C211.5,401.8 207.1,398.8 205.0,395.0 C202.9,391.2 199.4,384.3 202.7,382.0Z" fill="#d6eff9"/>
<path d="M236.0,387.6 C238.6,383.9 249.4,385.9 251.7,387.6 C254.0,389.3 251.3,394.3 250.0,398.0 C248.7,401.7 246.3,408.0 244.0,410.0 C241.7,412.0 237.3,413.7 236.0,410.0 C234.7,406.3 233.4,391.3 236.0,387.6Z" fill="#a0d6f3" stroke="#fff" stroke-width="0.8"/>
<path d="M223.0,387.6 C224.3,386.6 229.7,386.6 231.0,387.6 C232.3,388.6 232.3,392.8 231.0,393.8 C229.7,394.8 224.3,394.8 223.0,393.8 C221.7,392.8 221.7,388.6 223.0,387.6Z" fill="#a0d6f3" stroke="#fff" stroke-width="0.8"/>
<path d="M310.9,401.5 C310.7,399.7 316.0,392.6 318.0,391.2 C320.0,389.8 321.9,391.9 323.1,393.3 C324.3,394.7 325.9,398.0 325.2,399.4 C324.5,400.8 321.4,401.4 319.0,401.8 C316.6,402.2 311.1,403.3 310.9,401.5Z" fill="#fae89a"/>
<path d="M312.5,400.5 C312.3,399.5 315.4,395.8 317.0,395.0 C318.6,394.2 321.0,394.8 322.0,395.5 C323.0,396.2 323.7,398.6 323.0,399.5 C322.3,400.4 319.8,400.6 318.0,400.8 C316.2,401.0 312.7,401.5 312.5,400.5Z" fill="#fcaa36" stroke="#fff" stroke-width="0.8"/>
<path d="M310.5,399.5 C310.7,399.0 312.0,397.8 312.5,397.8 C313.0,397.9 313.7,399.3 313.5,399.8 C313.3,400.3 312.0,400.9 311.5,400.8 C311.0,400.8 310.3,400.0 310.5,399.5Z" fill="#f7722b" stroke="#fff" stroke-width="0.8"/>
<path d="M281.2,403.5 C281.6,401.4 283.4,401.3 285.3,402.0 C287.2,402.7 290.4,405.8 292.5,407.6 C294.6,409.4 296.7,411.6 297.6,412.7 C298.5,413.8 300.4,414.2 298.0,414.5 C295.6,414.8 285.8,416.3 283.0,414.5 C280.2,412.7 280.8,405.6 281.2,403.5Z" fill="#fae89a"/>
<path d="M283.0,405.5 C283.2,403.8 284.5,403.9 286.0,404.5 C287.5,405.1 290.5,407.3 292.0,409.0 C293.5,410.7 296.2,413.6 295.0,414.5 C293.8,415.4 286.5,416.0 284.5,414.5 C282.5,413.0 282.8,407.2 283.0,405.5Z" fill="#fcaa36" stroke="#fff" stroke-width="0.8"/>
<path d="M287.5,409.0 C287.9,408.0 289.6,408.0 290.5,408.5 C291.4,409.0 292.8,411.0 293.0,412.0 C293.2,413.0 292.8,414.1 292.0,414.5 C291.2,414.9 288.8,415.4 288.0,414.5 C287.2,413.6 287.1,410.0 287.5,409.0Z" fill="#f7722b" stroke="#fff" stroke-width="0.8"/>
<path d="M293.5,386.5 C294.2,385.6 297.8,384.9 300.0,385.1 C302.2,385.4 306.3,387.0 306.8,388.0 C307.3,389.0 304.8,390.8 303.0,391.2 C301.2,391.6 297.6,391.3 296.0,390.5 C294.4,389.7 292.8,387.4 293.5,386.5Z" fill="#fae89a"/>
<path d="M330.0,392.0 C330.8,389.8 334.3,389.5 336.0,390.0 C337.7,390.5 339.7,392.7 340.0,395.0 C340.3,397.3 339.5,402.7 338.0,404.0 C336.5,405.3 332.3,405.0 331.0,403.0 C329.7,401.0 329.2,394.2 330.0,392.0Z" fill="#d6eff9"/>
<path d="M318.0,406.0 C319.0,404.1 323.2,402.8 326.0,403.0 C328.8,403.2 333.5,405.1 335.0,407.0 C336.5,408.9 337.5,413.2 335.0,414.5 C332.5,415.8 322.8,415.9 320.0,414.5 C317.2,413.1 317.0,407.9 318.0,406.0Z" fill="#d6eff9"/>
<path d="M128.0,414.5 C126.2,413.4 132.0,409.8 135.0,408.0 C138.0,406.2 144.2,402.9 146.0,404.0 C147.8,405.1 149.0,412.8 146.0,414.5 C143.0,416.2 129.8,415.6 128.0,414.5Z" fill="#fae89a"/>
<path d="M53.57,285.33a1.2,1.2 0 1,0 2.4,0a1.2,1.2 0 1,0 -2.4,0M83.65,301.74a1.2,1.2 0 1,0 2.4,0a1.2,1.2 0 1,0 -2.4,0M152.03,329.09a1.2,1.2 0 1,0 2.4,0a1.2,1.2 0 1,0 -2.4,0M255.96,329.09a1.2,1.2 0 1,0 2.4,0a1.2,1.2 0 1,0 -2.4,0M261.43,329.09a1.2,1.2 0 1,0 2.4,0a1.2,1.2 0 1,0 -2.4,0M149.29,334.56a1.2,1.2 0 1,0 2.4,0a1.2,1.2 0 1,0 -2.4,0M231.34,334.56a1.2,1.2 0 1,0 2.4,0a1.2,1.2 0 1,0 -2.4,0M236.81,334.56a1.2,1.2 0 1,0 2.4,0a1.2,1.2 0 1,0 -2.4,0M242.28,334.56a1.2,1.2 0 1,0 2.4,0a1.2,1.2 0 1,0 -2.4,0M247.75,334.56a1.2,1.2 0 1,0 2.4,0a1.2,1.2 0 1,0 -2.4,0M253.22,334.56a1.2,1.2 0 1,0 2.4,0a1.2,1.2 0 1,0 -2.4,0M258.69,334.56a1.2,1.2 0 1,0 2.4,0a1.2,1.2 0 1,0 -2.4,0M264.16,334.56a1.2,1.2 0 1,0 2.4,0a1.2,1.2 0 1,0 -2.4,0M269.63,334.56a1.2,1.2 0 1,0 2.4,0a1.2,1.2 0 1,0 -2.4,0M275.10,334.56a1.2,1.2 0 1,0 2.4,0a1.2,1.2 0 1,0 -2.4,0M280.57,334.56a1.2,1.2 0 1,0 2.4,0a1.2,1.2 0 1,0 -2.4,0M154.76,334.56a1.2,1.2 0 1,0 2.4,0a1.2,1.2 0 1,0 -2.4,0M234.08,340.03a1.2,1.2 0 1,0 2.4,0a1.2,1.2 0 1,0 -2.4,0M239.55,340.03a1.2,1.2 0 1,0 2.4,0a1.2,1.2 0 1,0 -2.4,0M245.02,340.03a1.2,1.2 0 1,0 2.4,0a1.2,1.2 0 1,0 -2.4,0M250.49,340.03a1.2,1.2 0 1,0 2.4,0a1.2,1.2 0 1,0 -2.4,0M255.96,340.03a1.2,1.2 0 1,0 2.4,0a1.2,1.2 0 1,0 -2.4,0M261.43,340.03a1.2,1.2 0 1,0 2.4,0a1.2,1.2 0 1,0 -2.4,0M266.90,340.03a1.2,1.2 0 1,0 2.4,0a1.2,1.2 0 1,0 -2.4,0M272.37,340.03a1.2,1.2 0 1,0 2.4,0a1.2,1.2 0 1,0 -2.4,0M277.84,340.03a1.2,1.2 0 1,0 2.4,0a1.2,1.2 0 1,0 -2.4,0M135.62,340.03a1.2,1.2 0 1,0 2.4,0a1.2,1.2 0 1,0 -2.4,0M165.70,345.50a1.2,1.2 0 1,0 2.4,0a1.2,1.2 0 1,0 -2.4,0M171.17,345.50a1.2,1.2 0 1,0 2.4,0a1.2,1.2 0 1,0 -2.4,0M176.64,345.50a1.2,1.2 0 1,0 2.4,0a1.2,1.2 0 1,0 -2.4,0M182.11,345.50a1.2,1.2 0 1,0 2.4,0a1.2,1.2 0 1,0 -2.4,0M187.58,345.50a1.2,1.2 0 1,0 2.4,0a1.2,1.2 0 1,0 -2.4,0M193.05,345.50a1.2,1.2 0 1,0 2.4,0a1.2,1.2 0 1,0 -2.4,0M198.52,345.50a1.2,1.2 0 1,0 2.4,0a1.2,1.2 0 1,0 -2.4,0M203.99,345.50a1.2,1.2 0 1,0 2.4,0a1.2,1.2 0 1,0 -2.4,0M209.46,345.50a1.2,1.2 0 1,0 2.4,0a1.2,1.2 0 1,0 -2.4,0M220.40,345.50a1.2,1.2 0 1,0 2.4,0a1.2,1.2 0 1,0 -2.4,0M236.81,345.50a1.2,1.2 0 1,0 2.4,0a1.2,1.2 0 1,0 -2.4,0M242.28,345.50a1.2,1.2 0 1,0 2.4,0a1.2,1.2 0 1,0 -2.4,0M247.75,345.50a1.2,1.2 0 1,0 2.4,0a1.2,1.2 0 1,0 -2.4,0M253.22,345.50a1.2,1.2 0 1,0 2.4,0a1.2,1.2 0 1,0 -2.4,0M258.69,345.50a1.2,1.2 0 1,0 2.4,0a1.2,1.2 0 1,0 -2.4,0M264.16,345.50a1.2,1.2 0 1,0 2.4,0a1.2,1.2 0 1,0 -2.4,0M269.63,345.50a1.2,1.2 0 1,0 2.4,0a1.2,1.2 0 1,0 -2.4,0M275.10,345.50a1.2,1.2 0 1,0 2.4,0a1.2,1.2 0 1,0 -2.4,0M173.91,350.97a1.2,1.2 0 1,0 2.4,0a1.2,1.2 0 1,0 -2.4,0M179.38,350.97a1.2,1.2 0 1,0 2.4,0a1.2,1.2 0 1,0 -2.4,0M184.85,350.97a1.2,1.2 0 1,0 2.4,0a1.2,1.2 0 1,0 -2.4,0M190.32,350.97a1.2,1.2 0 1,0 2.4,0a1.2,1.2 0 1,0 -2.4,0M195.79,350.97a1.2,1.2 0 1,0 2.4,0a1.2,1.2 0 1,0 -2.4,0M201.26,350.97a1.2,1.2 0 1,0 2.4,0a1.2,1.2 0 1,0 -2.4,0M206.73,350.97a1.2,1.2 0 1,0 2.4,0a1.2,1.2 0 1,0 -2.4,0M212.20,350.97a1.2,1.2 0 1,0 2.4,0a1.2,1.2 0 1,0 -2.4,0M206.73,350.97a1.2,1.2 0 1,0 2.4,0a1.2,1.2 0 1,0 -2.4,0M212.20,350.97a1.2,1.2 0 1,0 2.4,0a1.2,1.2 0 1,0 -2.4,0M217.67,350.97a1.2,1.2 0 1,0 2.4,0a1.2,1.2 0 1,0 -2.4,0M223.14,350.97a1.2,1.2 0 1,0 2.4,0a1.2,1.2 0 1,0 -2.4,0M228.61,350.97a1.2,1.2 0 1,0 2.4,0a1.2,1.2 0 1,0 -2.4,0M234.08,350.97a1.2,1.2 0 1,0 2.4,0a1.2,1.2 0 1,0 -2.4,0M239.55,350.97a1.2,1.2 0 1,0 2.4,0a1.2,1.2 0 1,0 -2.4,0M245.02,350.97a1.2,1.2 0 1,0 2.4,0a1.2,1.2 0 1,0 -2.4,0M250.49,350.97a1.2,1.2 0 1,0 2.4,0a1.2,1.2 0 1,0 -2.4,0M255.96,350.97a1.2,1.2 0 1,0 2.4,0a1.2,1.2 0 1,0 -2.4,0M261.43,350.97a1.2,1.2 0 1,0 2.4,0a1.2,1.2 0 1,0 -2.4,0M266.90,350.97a1.2,1.2 0 1,0 2.4,0a1.2,1.2 0 1,0 -2.4,0M272.37,350.97a1.2,1.2 0 1,0 2.4,0a1.2,1.2 0 1,0 -2.4,0M277.84,350.97a1.2,1.2 0 1,0 2.4,0a1.2,1.2 0 1,0 -2.4,0M165.70,356.44a1.2,1.2 0 1,0 2.4,0a1.2,1.2 0 1,0 -2.4,0M171.17,356.44a1.2,1.2 0 1,0 2.4,0a1.2,1.2 0 1,0 -2.4,0M176.64,356.44a1.2,1.2 0 1,0 2.4,0a1.2,1.2 0 1,0 -2.4,0M182.11,356.44a1.2,1.2 0 1,0 2.4,0a1.2,1.2 0 1,0 -2.4,0M187.58,356.44a1.2,1.2 0 1,0 2.4,0a1.2,1.2 0 1,0 -2.4,0M220.40,356.44a1.2,1.2 0 1,0 2.4,0a1.2,1.2 0 1,0 -2.4,0M225.87,356.44a1.2,1.2 0 1,0 2.4,0a1.2,1.2 0 1,0 -2.4,0M231.34,356.44a1.2,1.2 0 1,0 2.4,0a1.2,1.2 0 1,0 -2.4,0M236.81,356.44a1.2,1.2 0 1,0 2.4,0a1.2,1.2 0 1,0 -2.4,0M242.28,356.44a1.2,1.2 0 1,0 2.4,0a1.2,1.2 0 1,0 -2.4,0M247.75,356.44a1.2,1.2 0 1,0 2.4,0a1.2,1.2 0 1,0 -2.4,0M296.98,356.44a1.2,1.2 0 1,0 2.4,0a1.2,1.2 0 1,0 -2.4,0M302.45,356.44a1.2,1.2 0 1,0 2.4,0a1.2,1.2 0 1,0 -2.4,0M307.92,356.44a1.2,1.2 0 1,0 2.4,0a1.2,1.2 0 1,0 -2.4,0M313.39,356.44a1.2,1.2 0 1,0 2.4,0a1.2,1.2 0 1,0 -2.4,0M318.86,356.44a1.2,1.2 0 1,0 2.4,0a1.2,1.2 0 1,0 -2.4,0M324.33,356.44a1.2,1.2 0 1,0 2.4,0a1.2,1.2 0 1,0 -2.4,0M212.20,361.91a1.2,1.2 0 1,0 2.4,0a1.2,1.2 0 1,0 -2.4,0M245.02,361.91a1.2,1.2 0 1,0 2.4,0a1.2,1.2 0 1,0 -2.4,0M299.72,361.91a1.2,1.2 0 1,0 2.4,0a1.2,1.2 0 1,0 -2.4,0M305.19,361.91a1.2,1.2 0 1,0 2.4,0a1.2,1.2 0 1,0 -2.4,0M310.66,361.91a1.2,1.2 0 1,0 2.4,0a1.2,1.2 0 1,0 -2.4,0M316.13,361.91a1.2,1.2 0 1,0 2.4,0a1.2,1.2 0 1,0 -2.4,0M321.60,361.91a1.2,1.2 0 1,0 2.4,0a1.2,1.2 0 1,0 -2.4,0M327.06,361.91a1.2,1.2 0 1,0 2.4,0a1.2,1.2 0 1,0 -2.4,0M332.54,361.91a1.2,1.2 0 1,0 2.4,0a1.2,1.2 0 1,0 -2.4,0M165.70,367.38a1.2,1.2 0 1,0 2.4,0a1.2,1.2 0 1,0 -2.4,0M171.17,367.38a1.2,1.2 0 1,0 2.4,0a1.2,1.2 0 1,0 -2.4,0M302.45,367.38a1.2,1.2 0 1,0 2.4,0a1.2,1.2 0 1,0 -2.4,0M307.92,367.38a1.2,1.2 0 1,0 2.4,0a1.2,1.2 0 1,0 -2.4,0M313.39,367.38a1.2,1.2 0 1,0 2.4,0a1.2,1.2 0 1,0 -2.4,0M318.86,367.38a1.2,1.2 0 1,0 2.4,0a1.2,1.2 0 1,0 -2.4,0M324.33,367.38a1.2,1.2 0 1,0 2.4,0a1.2,1.2 0 1,0 -2.4,0M329.80,367.38a1.2,1.2 0 1,0 2.4,0a1.2,1.2 0 1,0 -2.4,0M168.44,372.85a1.2,1.2 0 1,0 2.4,0a1.2,1.2 0 1,0 -2.4,0M310.66,372.85a1.2,1.2 0 1,0 2.4,0a1.2,1.2 0 1,0 -2.4,0M316.13,372.85a1.2,1.2 0 1,0 2.4,0a1.2,1.2 0 1,0 -2.4,0M321.60,372.85a1.2,1.2 0 1,0 2.4,0a1.2,1.2 0 1,0 -2.4,0M327.06,372.85a1.2,1.2 0 1,0 2.4,0a1.2,1.2 0 1,0 -2.4,0M59.04,372.85a1.2,1.2 0 1,0 2.4,0a1.2,1.2 0 1,0 -2.4,0M124.68,372.85a1.2,1.2 0 1,0 2.4,0a1.2,1.2 0 1,0 -2.4,0M130.15,372.85a1.2,1.2 0 1,0 2.4,0a1.2,1.2 0 1,0 -2.4,0M182.11,378.32a1.2,1.2 0 1,0 2.4,0a1.2,1.2 0 1,0 -2.4,0M116.47,378.32a1.2,1.2 0 1,0 2.4,0a1.2,1.2 0 1,0 -2.4,0M121.94,378.32a1.2,1.2 0 1,0 2.4,0a1.2,1.2 0 1,0 -2.4,0M127.41,378.32a1.2,1.2 0 1,0 2.4,0a1.2,1.2 0 1,0 -2.4,0M56.30,378.32a1.2,1.2 0 1,0 2.4,0a1.2,1.2 0 1,0 -2.4,0M228.61,383.79a1.2,1.2 0 1,0 2.4,0a1.2,1.2 0 1,0 -2.4,0M234.08,383.79a1.2,1.2 0 1,0 2.4,0a1.2,1.2 0 1,0 -2.4,0M220.40,389.26a1.2,1.2 0 1,0 2.4,0a1.2,1.2 0 1,0 -2.4,0M225.87,389.26a1.2,1.2 0 1,0 2.4,0a1.2,1.2 0 1,0 -2.4,0M231.34,389.26a1.2,1.2 0 1,0 2.4,0a1.2,1.2 0 1,0 -2.4,0M236.81,389.26a1.2,1.2 0 1,0 2.4,0a1.2,1.2 0 1,0 -2.4,0M242.28,389.26a1.2,1.2 0 1,0 2.4,0a1.2,1.2 0 1,0 -2.4,0M247.75,389.26a1.2,1.2 0 1,0 2.4,0a1.2,1.2 0 1,0 -2.4,0M162.97,394.73a1.2,1.2 0 1,0 2.4,0a1.2,1.2 0 1,0 -2.4,0M168.44,394.73a1.2,1.2 0 1,0 2.4,0a1.2,1.2 0 1,0 -2.4,0M228.61,394.73a1.2,1.2 0 1,0 2.4,0a1.2,1.2 0 1,0 -2.4,0M234.08,394.73a1.2,1.2 0 1,0 2.4,0a1.2,1.2 0 1,0 -2.4,0M239.55,394.73a1.2,1.2 0 1,0 2.4,0a1.2,1.2 0 1,0 -2.4,0M266.90,394.73a1.2,1.2 0 1,0 2.4,0a1.2,1.2 0 1,0 -2.4,0M272.37,394.73a1.2,1.2 0 1,0 2.4,0a1.2,1.2 0 1,0 -2.4,0M316.13,394.73a1.2,1.2 0 1,0 2.4,0a1.2,1.2 0 1,0 -2.4,0M332.54,394.73a1.2,1.2 0 1,0 2.4,0a1.2,1.2 0 1,0 -2.4,0M165.70,400.20a1.2,1.2 0 1,0 2.4,0a1.2,1.2 0 1,0 -2.4,0M171.17,400.20a1.2,1.2 0 1,0 2.4,0a1.2,1.2 0 1,0 -2.4,0M225.87,400.20a1.2,1.2 0 1,0 2.4,0a1.2,1.2 0 1,0 -2.4,0M231.34,400.20a1.2,1.2 0 1,0 2.4,0a1.2,1.2 0 1,0 -2.4,0M236.81,400.20a1.2,1.2 0 1,0 2.4,0a1.2,1.2 0 1,0 -2.4,0M302.45,400.20a1.2,1.2 0 1,0 2.4,0a1.2,1.2 0 1,0 -2.4,0M307.92,400.20a1.2,1.2 0 1,0 2.4,0a1.2,1.2 0 1,0 -2.4,0M313.39,400.20a1.2,1.2 0 1,0 2.4,0a1.2,1.2 0 1,0 -2.4,0M318.86,400.20a1.2,1.2 0 1,0 2.4,0a1.2,1.2 0 1,0 -2.4,0M269.63,400.20a1.2,1.2 0 1,0 2.4,0a1.2,1.2 0 1,0 -2.4,0M329.80,400.20a1.2,1.2 0 1,0 2.4,0a1.2,1.2 0 1,0 -2.4,0M152.03,405.67a1.2,1.2 0 1,0 2.4,0a1.2,1.2 0 1,0 -2.4,0M157.50,405.67a1.2,1.2 0 1,0 2.4,0a1.2,1.2 0 1,0 -2.4,0M162.97,405.67a1.2,1.2 0 1,0 2.4,0a1.2,1.2 0 1,0 -2.4,0M168.44,405.67a1.2,1.2 0 1,0 2.4,0a1.2,1.2 0 1,0 -2.4,0M239.55,405.67a1.2,1.2 0 1,0 2.4,0a1.2,1.2 0 1,0 -2.4,0M283.31,405.67a1.2,1.2 0 1,0 2.4,0a1.2,1.2 0 1,0 -2.4,0M288.78,405.67a1.2,1.2 0 1,0 2.4,0a1.2,1.2 0 1,0 -2.4,0M321.60,405.67a1.2,1.2 0 1,0 2.4,0a1.2,1.2 0 1,0 -2.4,0M327.06,405.67a1.2,1.2 0 1,0 2.4,0a1.2,1.2 0 1,0 -2.4,0M149.29,411.14a1.2,1.2 0 1,0 2.4,0a1.2,1.2 0 1,0 -2.4,0M154.76,411.14a1.2,1.2 0 1,0 2.4,0a1.2,1.2 0 1,0 -2.4,0M286.04,411.14a1.2,1.2 0 1,0 2.4,0a1.2,1.2 0 1,0 -2.4,0M291.51,411.14a1.2,1.2 0 1,0 2.4,0a1.2,1.2 0 1,0 -2.4,0M236.81,411.14a1.2,1.2 0 1,0 2.4,0a1.2,1.2 0 1,0 -2.4,0M324.33,411.14a1.2,1.2 0 1,0 2.4,0a1.2,1.2 0 1,0 -2.4,0" fill="#000"/>
<path d="M45.4,294.0 46.5,293.1 47.7,293.2 49.0,293.7 50.1,293.4 51.4,293.8 52.5,293.1 53.7,293.2 54.8,292.8 55.8,291.9 57.3,292.6 58.3,291.9 59.5,291.5 60.5,291.1 61.3,290.1 62.6,290.6 63.7,290.2 64.9,290.2 65.8,289.4 66.5,288.3 67.7,288.1 68.9,287.8 70.2,287.8 71.1,286.9 72.0,285.6 70.7,285.7 70.4,284.4 71.1,282.9 72.6,283.4 73.2,281.9 72.0,282.0 71.4,280.9 72.1,279.7 73.6,280.0 74.6,279.7 75.1,278.7 76.2,277.7 77.6,277.5 76.7,276.2 77.3,274.9 78.9,275.0 79.4,274.1 80.4,273.7 81.0,272.8 81.4,271.9 M54.8,285.3 56.1,285.8 57.0,284.1 58.2,284.0 59.5,284.4 60.6,285.1 61.8,284.7 63.0,284.9 64.2,285.0 65.3,284.9 66.4,284.8 67.3,285.6 68.5,286.8 70.1,286.2 M53.2,283.1 54.2,281.9 55.4,281.7 57.0,283.4 57.9,282.2 58.9,283.3 60.4,281.9 61.6,282.4 62.6,283.1 63.6,282.5 64.8,283.1 65.8,282.5 66.8,282.2 67.8,282.1 68.9,282.2 70.8,282.8 M56.4,279.1 57.7,279.4 58.9,278.5 60.1,278.4 61.1,278.9 62.2,278.6 63.2,278.7 63.9,280.1 65.1,279.4 66.6,280.2 67.5,278.2 68.9,278.7 69.8,279.5 70.8,279.7 72.0,279.4 M61.1,276.9 62.3,277.2 63.6,277.3 64.6,276.4 65.8,275.9 66.8,276.9 67.9,277.3 69.2,276.8 70.4,276.9 71.8,276.1 73.0,276.4 74.2,277.2 M65.8,273.7 67.0,273.6 68.2,273.5 69.4,273.6 70.4,274.4 71.5,273.3 72.7,273.7 73.9,273.2 75.1,274.1 76.0,275.3 77.2,274.6 78.2,274.7 M57.9,286.5 59.2,286.1 60.4,286.2 61.4,287.0 62.6,287.2 63.9,287.5 65.1,287.9 66.1,286.4 67.3,286.5 M64.2,302.2 65.5,301.5 66.4,300.3 67.9,300.5 68.9,299.3 70.8,299.3 72.0,300.6 73.3,301.1 74.2,302.2 75.1,300.9 76.3,300.8 77.3,300.3 78.6,300.8 79.8,301.4 80.9,300.9 82.0,300.3 83.3,300.4 84.5,300.1 85.5,300.3 86.5,300.7 87.6,300.6 88.6,299.8 89.5,299.0 90.7,299.5 92.0,299.7 93.2,299.7 94.2,300.2 95.1,300.6 94.2,301.4 95.3,301.6 96.2,302.3 97.2,302.6 98.2,302.8 97.3,303.9 96.4,304.8 95.4,305.6 94.4,306.0 93.4,305.9 92.3,306.1 91.1,306.3 90.0,306.9 88.7,306.8 87.6,307.3 86.6,307.8 85.5,307.8 84.4,308.0 83.3,308.2 82.3,308.7 81.3,308.5 80.3,308.6 79.3,308.1 78.2,308.1 77.1,307.9 75.9,307.8 74.7,307.4 73.6,307.3 72.3,307.3 71.1,307.1 69.8,307.3 71.1,306.5 72.3,305.9 70.8,305.3 69.7,304.9 68.6,304.7 67.5,304.8 66.4,304.5 67.6,304.3 68.9,304.1 70.1,303.7 69.0,303.7 68.1,303.2 67.0,303.1 65.7,302.2 64.2,302.2 64.2,302.2 M112.6,285.5 113.8,285.3 114.8,284.8 116.1,284.5 M117.0,313.1 118.1,312.6 119.2,312.0 120.8,312.8 119.5,314.0 118.2,313.4 117.0,313.1 M136.7,319.6 137.6,318.1 137.0,316.8 135.8,318.1 136.7,319.6 M130.1,322.8 132.0,322.1 132.6,322.8 130.8,323.4 130.1,322.8 M125.1,323.7 126.2,323.7 127.2,323.6 128.2,323.5 129.3,323.8 130.3,323.8 131.4,323.5 131.1,324.6 130.1,325.2 129.1,325.7 128.2,326.4 129.8,326.7 130.9,326.5 131.9,326.6 133.0,326.7 134.1,326.8 135.1,326.8 134.2,328.4 133.6,329.2 132.9,329.9 131.7,330.6 130.8,331.5 132.6,331.8 134.5,332.4 135.1,333.4 135.8,334.3 136.1,335.3 136.7,336.2 138.2,336.5 139.5,337.1 140.1,338.3 141.1,339.3 139.8,339.6 140.8,340.1 141.7,340.9 143.2,341.3 144.6,341.9 146.1,342.1 145.8,344.0 144.7,344.5 143.6,344.9 142.9,346.0 144.0,346.3 145.1,346.5 143.7,347.7 142.5,347.9 141.4,348.2 140.1,348.3 138.9,347.9 137.6,348.1 136.5,348.0 135.6,348.7 134.5,348.7 133.4,348.7 132.3,348.5 131.2,348.9 130.1,348.7 129.2,349.8 128.1,350.2 127.0,350.0 125.9,350.3 124.8,350.6 122.9,350.4 124.1,349.8 125.1,348.8 126.0,348.2 126.8,347.4 127.6,346.8 128.9,347.0 130.1,346.7 131.4,346.8 130.4,345.9 129.1,345.5 127.6,345.6 126.6,345.2 125.5,345.4 124.5,345.1 125.4,344.0 126.7,343.6 127.9,343.1 127.3,341.5 126.1,341.8 126.7,340.2 127.8,340.3 128.9,340.2 130.0,340.3 131.1,340.2 131.4,338.4 130.8,337.6 130.1,336.8 130.4,335.3 129.2,335.2 128.2,335.8 127.0,335.9 125.1,335.9 125.4,334.6 126.1,333.1 125.1,332.1 125.0,333.9 123.2,334.0 122.2,332.7 123.6,331.8 122.9,330.3 121.4,329.6 121.9,328.6 122.9,328.1 122.6,326.8 123.5,326.3 123.9,325.3 124.8,324.7 125.1,323.7 125.1,323.7 M117.3,328.7 118.3,328.0 118.2,326.8 119.2,325.9 120.0,324.6 121.4,324.0 119.5,324.6 119.4,325.9 119.2,327.1 117.2,327.3 117.3,328.7 M120.4,328.1 121.8,328.2 122.0,326.8 122.9,327.8 121.8,328.4 120.4,328.1 M121.1,333.1 122.3,331.8 121.4,332.1 121.1,333.1 M121.7,334.2 122.6,335.2 123.6,336.2 122.8,337.1 122.0,338.1 121.8,339.3 121.7,340.6 122.0,342.4 120.8,343.7 119.6,343.8 118.5,343.9 117.3,344.1 116.1,344.7 114.8,345.1 113.6,345.2 112.5,345.6 111.2,345.5 110.1,346.0 109.4,345.2 108.6,344.6 109.7,344.1 110.8,343.5 109.8,342.4 110.8,342.1 111.6,341.3 112.6,340.9 111.7,340.4 110.7,340.2 109.8,339.6 109.4,338.6 109.5,337.4 110.8,337.5 112.0,337.3 113.0,336.7 114.2,336.5 114.5,334.9 115.9,334.3 117.3,334.0 118.4,334.0 119.5,334.3 120.6,334.1 121.7,334.2 M361.1,277.8 360.0,278.2 359.0,278.8 357.9,279.1 357.0,280.2 355.8,280.9 355.0,281.9 354.6,283.1 353.9,284.1 353.0,284.5 352.0,284.9 351.0,285.0 350.1,285.6 349.4,286.8 349.2,288.1 349.8,289.0 350.5,289.7 351.1,290.6 352.1,291.3 353.4,291.9 354.5,292.5 356.4,292.2 355.3,292.5 354.4,293.2 353.2,293.4 352.1,293.6 350.9,293.2 349.7,293.4 348.6,293.1 347.6,292.6 346.4,292.6 345.4,292.2 344.2,292.0 343.1,291.2 341.9,291.1 340.8,290.6 339.7,290.2 338.6,290.0 337.6,289.4 336.6,289.1 335.5,289.2 334.5,289.2 333.5,289.0 332.4,288.7 331.4,288.7 329.8,288.4 328.9,289.4 327.8,289.7 327.1,290.6 326.1,291.0 325.1,291.5 324.1,291.8 323.0,291.4 322.0,291.5 320.9,292.0 319.7,292.3 318.5,292.7 317.3,292.8 316.1,292.6 315.0,292.7 313.8,292.6 312.6,292.8 311.6,293.1 310.5,293.1 309.5,293.4 308.5,292.6 307.9,291.5 307.0,292.0 306.1,292.7 305.1,293.1 304.2,293.5 303.1,293.4 302.1,293.7 301.2,294.1 300.1,294.0 299.1,294.2 298.0,294.3 297.0,294.4 296.0,294.8 294.9,294.7 293.9,295.0 292.3,295.6 291.2,296.4 290.1,297.2 288.9,297.5 287.6,297.8 286.5,298.0 285.4,298.1 284.8,297.0 283.9,296.2 282.6,295.7 281.4,295.0 280.2,294.6 279.8,293.4 278.6,292.8 277.4,292.5 276.1,292.3 277.0,294.0 278.3,294.8 278.9,296.2 278.2,297.8 278.9,299.0 277.8,299.7 276.7,300.3 275.5,299.7 274.3,299.1 272.9,299.3 271.9,300.1 270.6,300.0 269.5,300.6 268.5,301.0 267.5,301.2 266.7,301.8 265.8,303.4 266.6,304.1 267.3,305.0 266.3,305.3 265.2,304.7 264.2,305.0 263.0,304.2 261.6,305.2 260.4,304.3 259.5,305.6 257.9,305.9 256.7,305.6 255.9,306.6 254.8,306.8 253.7,306.8 252.8,306.1 251.7,305.9 250.5,305.7 249.5,305.0 249.5,303.7 248.6,302.2 247.3,302.1 246.6,301.2 245.8,300.6 244.8,300.0 243.8,299.2 242.6,299.0 242.0,297.2 243.1,297.8 244.2,298.2 245.4,298.1 246.4,298.7 247.4,298.8 248.5,298.1 249.5,298.7 250.6,298.9 251.8,298.8 252.9,298.9 253.9,299.7 254.9,299.4 255.9,300.4 257.0,299.4 257.9,300.5 259.0,299.8 260.1,299.8 261.1,300.3 262.2,299.9 263.4,300.1 264.6,300.3 265.8,299.7 266.9,299.7 267.6,298.7 268.7,298.8 269.5,298.1 270.1,296.9 269.2,296.3 268.4,295.4 267.3,295.0 266.4,294.1 265.1,293.9 264.0,293.5 262.8,293.9 261.8,293.4 260.6,293.1 259.5,293.1 258.5,292.7 257.4,292.3 256.4,291.9 255.3,291.7 254.3,291.4 253.1,291.8 252.1,291.3 251.2,290.5 250.1,290.6 249.0,290.3 247.8,290.1 246.6,290.2 245.4,290.3 243.9,289.4 242.9,288.6 241.7,289.2 240.8,288.7 239.7,288.9 238.7,288.8 237.6,289.0 236.4,289.8 235.1,289.0 233.9,287.8 235.2,287.9 236.4,287.2 237.6,287.2 236.3,287.0 236.1,285.6 234.9,285.6 233.7,285.7 232.6,285.1 231.4,285.3 229.8,286.2 228.2,285.3 227.3,284.7 226.1,285.7 224.9,285.4 223.6,285.0 222.5,284.4 221.4,284.5 220.0,284.7 218.9,285.3 217.8,285.5 216.8,285.3 215.8,285.3 214.7,285.7 213.5,285.4 212.6,286.2 211.5,286.6 210.4,287.1 209.2,287.4 207.9,287.2 206.9,287.3 205.8,287.5 204.8,287.8 203.8,287.8 202.7,287.9 201.7,287.8 200.6,288.0 199.4,287.3 198.6,288.4 197.4,288.3 196.7,289.9 195.4,289.4 194.6,290.3 193.3,290.1 192.3,290.6 190.8,291.5 190.3,292.5 189.2,292.8 187.9,292.6 187.0,293.4 188.0,294.1 189.2,294.0 188.3,294.4 187.5,295.1 186.0,294.3 185.4,295.5 184.5,295.9 182.9,296.9 184.1,296.3 185.1,297.1 186.1,297.5 185.2,298.7 183.5,297.5 182.8,299.4 181.4,299.0 181.0,300.3 179.8,300.6 178.9,302.2 177.3,302.2 176.7,303.7 175.1,304.3 174.3,305.0 173.8,306.0 172.6,306.2 171.5,306.4 171.1,307.5 172.4,307.7 173.6,308.4 172.4,309.1 171.2,309.0 170.0,308.3 168.9,308.4 167.6,307.9 166.8,309.1 165.8,309.3 164.5,309.1 163.7,310.0 162.6,310.3 161.2,310.3 160.1,311.2 159.1,311.4 158.3,312.1 157.3,312.5 156.4,314.0 156.8,315.2 156.1,316.2 156.4,318.1 157.6,318.6 157.3,320.0 158.2,321.5 157.9,323.1 158.6,324.0 159.7,324.8 161.1,325.3 162.2,326.3 163.6,325.6 164.9,324.8 166.4,324.9 167.8,324.6 168.9,323.7 169.7,322.7 171.1,322.5 171.7,321.4 172.9,321.5 174.2,321.0 173.9,319.6 174.2,321.2 175.1,322.1 175.8,322.8 175.8,324.3 176.9,324.6 177.6,325.6 177.9,326.8 179.2,328.1 179.9,329.1 180.8,329.9 180.1,331.2 180.5,332.2 181.1,333.1 181.1,333.7 182.1,333.8 183.1,333.7 184.1,333.8 185.1,333.7 185.4,332.4 186.7,331.5 187.9,331.5 189.2,331.6 190.4,331.5 191.4,330.9 192.0,329.9 192.4,328.9 192.6,327.8 192.9,325.9 193.6,324.0 194.4,323.3 195.6,323.5 196.4,322.8 197.7,322.7 198.6,321.9 199.5,321.2 199.2,319.6 198.2,318.4 196.7,318.1 195.3,318.4 194.8,317.1 194.1,316.1 194.5,315.0 195.1,313.1 196.3,312.7 196.4,311.5 197.7,311.1 198.6,310.0 199.7,309.6 200.6,308.9 201.7,308.4 202.8,308.3 203.8,307.7 204.8,307.5 205.8,306.3 207.3,305.9 207.9,304.3 209.1,304.1 209.3,302.8 210.1,302.2 211.6,302.3 212.6,301.2 213.9,301.2 215.1,301.6 216.4,301.2 217.7,301.1 218.9,301.4 219.8,302.5 220.1,303.7 219.3,305.1 217.6,305.0 216.4,305.4 215.4,306.4 214.2,306.8 212.9,306.7 212.3,308.0 211.1,308.1 210.2,309.0 208.9,308.8 207.9,309.3 207.2,310.3 207.0,311.5 207.8,312.4 208.1,313.5 207.9,314.6 207.6,316.5 208.6,317.8 209.9,317.7 210.8,318.7 211.5,319.5 212.6,319.6 213.8,319.9 214.8,319.7 215.8,319.0 216.8,319.5 217.9,319.7 218.9,318.7 220.1,319.2 221.0,318.3 222.0,318.1 223.1,318.1 224.0,317.1 225.1,317.8 226.3,317.9 227.5,318.2 228.6,316.7 229.8,317.5 230.1,318.7 231.4,318.7 232.6,319.3 234.0,318.9 235.1,319.6 233.7,319.3 232.3,319.6 231.2,320.7 229.8,320.0 228.2,320.9 227.2,321.4 226.1,320.6 225.1,321.0 223.8,321.6 222.5,321.5 221.4,320.6 220.4,320.7 219.3,320.1 218.3,320.1 217.3,320.9 216.4,321.7 215.4,322.1 214.2,321.7 214.2,322.8 214.8,324.0 216.7,324.6 217.3,325.6 217.2,326.7 217.0,327.8 216.1,328.7 214.2,328.9 212.6,328.4 211.9,327.4 211.4,326.4 210.0,326.9 208.6,327.1 207.5,327.8 206.7,328.7 206.4,330.3 206.4,331.4 206.7,332.4 207.0,334.0 206.2,334.7 205.1,335.1 203.2,335.3 202.3,336.7 201.1,337.1 199.2,336.8 198.6,335.9 197.4,335.9 196.4,335.6 195.3,335.7 194.3,335.9 193.2,336.2 191.9,336.5 190.8,337.1 189.6,337.4 188.6,337.9 187.4,337.8 186.4,338.2 185.1,338.4 183.9,337.4 182.6,336.2 181.4,336.8 180.3,336.9 179.2,337.1 178.1,337.1 177.1,337.6 176.1,337.7 174.8,338.1 174.5,337.1 172.6,336.8 172.0,335.6 171.4,334.6 170.8,333.4 171.8,333.1 172.6,332.4 172.9,330.9 174.8,330.6 173.8,329.9 172.9,329.0 173.4,327.9 173.9,326.8 172.0,327.4 171.0,327.9 170.1,328.4 168.9,328.3 167.6,328.4 166.4,329.3 166.1,330.6 166.1,331.8 166.1,333.4 167.0,334.0 167.6,334.9 167.6,336.5 168.6,338.1 167.3,339.3 165.8,339.0 164.6,339.7 163.2,339.9 162.2,340.1 161.1,339.9 159.8,339.8 158.6,339.9 157.4,340.4 156.4,341.2 155.4,342.7 154.6,343.5 153.9,344.3 152.9,344.9 152.0,346.2 150.1,346.6 148.6,347.3 147.2,347.7 145.8,347.7 146.0,348.8 145.8,349.9 144.8,350.3 143.9,350.9 142.6,351.2 141.4,351.5 141.1,352.4 139.8,352.7 138.4,352.5 137.0,352.4 136.7,351.5 134.8,351.5 135.8,353.0 136.4,354.8 134.5,354.9 133.4,355.1 132.3,355.2 130.8,354.1 129.5,354.2 128.2,354.6 127.0,355.2 125.8,355.5 127.3,356.5 126.7,357.0 127.8,357.0 128.9,357.4 130.2,357.6 131.4,358.2 132.5,358.7 133.6,359.1 134.2,360.5 135.4,361.8 136.2,362.4 137.0,363.0 137.3,364.6 137.2,365.9 137.0,367.1 136.6,368.2 136.5,369.3 136.1,370.8 135.1,371.2 134.0,371.3 132.8,371.3 131.7,371.2 130.3,370.9 128.9,371.0 127.8,371.0 126.8,371.1 125.8,371.2 124.6,371.1 123.4,370.8 122.3,370.5 121.1,370.5 119.8,370.9 118.6,370.7 117.1,370.7 115.8,370.2 114.9,370.8 113.9,371.0 112.9,371.5 111.7,372.7 112.3,373.5 112.9,374.3 112.9,376.2 113.2,377.4 113.6,378.6 113.5,380.0 112.9,381.1 112.1,382.4 111.4,383.6 111.4,384.7 111.1,385.7 112.6,386.1 113.2,386.8 113.2,388.3 113.2,390.2 112.6,391.1 113.7,391.2 114.7,391.2 115.8,390.8 117.6,390.5 119.2,390.7 120.8,391.8 121.4,393.0 122.1,393.6 122.9,394.3 123.9,393.6 125.2,393.3 126.4,392.7 127.5,392.6 128.7,392.5 129.8,392.1 130.9,392.2 131.9,391.9 132.9,391.8 134.2,392.1 134.8,391.2 135.1,390.2 136.4,389.8 137.6,389.3 138.6,389.0 138.9,387.4 139.7,386.8 140.6,386.3 141.4,385.7 140.7,384.4 139.8,383.3 140.8,381.8 141.6,381.1 142.5,380.4 143.2,379.6 144.5,378.3 145.5,378.0 146.5,377.6 147.6,377.4 148.8,377.1 149.7,376.3 150.8,375.8 150.8,374.3 150.3,372.7 151.7,371.5 152.9,371.1 154.2,370.8 156.1,371.2 157.6,371.8 158.7,371.7 159.8,372.1 161.7,371.5 162.7,370.8 163.9,370.2 165.2,370.0 166.4,369.6 167.3,368.8 168.2,368.0 169.4,368.2 170.4,368.7 172.0,369.3 172.9,370.8 173.9,372.6 174.9,373.1 175.8,374.0 176.8,374.5 177.6,375.2 178.4,376.1 179.5,376.8 180.4,377.4 181.4,377.9 182.6,378.0 183.9,378.0 184.8,379.3 186.1,379.9 187.3,380.8 188.3,381.5 189.5,381.6 190.1,383.3 190.7,384.2 191.1,385.2 190.1,386.5 189.8,388.2 191.1,388.2 191.8,387.5 192.6,386.8 193.2,385.8 194.2,385.2 194.2,383.6 192.6,382.7 192.3,381.5 193.6,380.4 195.4,380.8 197.0,381.5 198.6,382.4 198.4,381.1 198.1,379.7 196.7,379.7 195.4,379.7 194.9,378.1 193.6,378.2 192.1,377.7 190.8,377.2 191.1,375.7 190.0,375.0 188.9,375.7 187.8,375.2 186.7,375.2 185.5,374.6 184.5,373.7 183.3,373.1 184.5,371.4 183.2,370.8 182.2,370.2 181.3,369.4 180.1,369.0 179.2,367.4 179.2,366.3 179.5,365.2 180.5,364.7 181.4,364.0 182.4,364.3 183.6,364.3 183.2,365.8 184.2,366.8 185.4,365.5 187.3,366.2 188.3,367.0 188.2,368.3 188.4,369.7 190.2,369.3 190.4,370.5 192.3,370.8 193.0,371.7 194.6,371.1 195.1,372.4 195.7,373.5 197.0,373.3 197.6,374.5 198.9,374.3 200.1,375.2 201.7,376.2 201.5,377.7 201.4,379.3 201.1,380.5 202.6,381.6 203.6,383.0 204.5,384.0 205.4,384.9 205.8,386.2 206.7,387.1 207.9,387.4 207.6,388.6 208.3,389.5 208.6,390.5 209.2,391.8 210.4,392.7 211.4,391.8 212.1,392.6 213.2,392.9 212.3,391.1 212.3,389.6 214.2,389.9 213.2,388.3 214.4,388.9 215.8,389.0 215.9,387.4 215.4,386.0 213.9,386.1 213.3,385.0 212.0,385.2 212.6,384.0 211.7,382.7 211.1,381.1 212.0,379.9 212.4,381.3 213.9,381.1 215.1,380.8 215.4,379.9 216.9,379.6 218.2,379.1 219.3,378.4 220.4,379.1 222.0,379.6 222.9,380.5 224.5,379.9 225.6,379.3 226.7,378.8 227.8,379.1 228.9,378.6 230.1,378.6 231.4,378.5 230.4,377.7 229.3,377.2 228.2,376.5 227.6,375.2 227.0,374.0 227.9,372.7 227.9,371.8 228.8,371.1 229.8,370.8 230.1,369.3 230.8,367.4 232.0,367.3 233.2,366.8 233.6,365.5 233.2,364.3 234.2,363.8 235.1,363.4 236.0,362.6 236.7,361.8 238.2,361.2 240.1,361.5 241.3,361.9 242.3,362.7 243.6,362.6 244.8,362.7 245.8,363.4 244.7,363.9 243.7,364.5 242.6,364.9 243.9,365.6 245.1,366.5 245.4,367.7 246.7,368.0 247.9,367.9 248.9,367.6 249.9,367.4 250.8,366.8 252.0,366.2 253.3,366.3 254.5,366.0 255.1,365.1 253.6,364.8 252.5,365.2 251.4,365.2 250.6,364.6 249.8,364.0 250.1,362.4 251.1,362.1 252.2,361.8 253.2,361.2 254.5,361.1 255.8,360.9 257.0,360.3 258.2,359.8 259.4,359.9 260.4,359.6 261.8,359.2 263.2,359.1 262.6,359.9 261.4,360.2 260.1,360.5 259.5,361.8 260.8,362.7 259.5,363.7 258.9,364.9 257.6,364.8 256.4,365.2 255.4,365.5 256.1,366.0 257.3,366.5 258.4,367.1 259.5,367.7 260.7,368.2 262.0,368.7 263.0,369.2 263.8,370.0 264.8,370.5 265.7,371.1 266.7,371.5 267.8,372.2 268.9,373.0 269.8,374.0 270.8,374.9 270.8,376.8 269.7,377.2 268.9,378.0 267.5,378.5 266.1,378.8 264.2,378.5 263.1,378.8 261.9,378.9 260.8,378.8 259.3,378.7 257.9,378.5 256.7,377.9 255.4,377.4 254.4,377.1 253.6,376.5 252.4,375.9 251.1,375.5 249.9,375.4 248.8,375.5 247.6,375.7 246.6,375.6 245.5,375.4 244.5,375.5 243.1,376.0 241.7,376.5 240.8,377.1 239.8,377.6 238.9,378.0 237.7,377.9 236.6,377.8 235.4,378.0 234.3,377.7 233.2,377.7 232.0,377.9 231.5,378.6 232.3,379.3 234.2,379.4 232.6,379.9 231.1,380.5 229.7,380.1 228.2,380.5 227.2,380.9 226.1,380.5 224.2,380.7 223.2,381.5 222.6,382.1 222.3,383.3 224.2,384.0 224.8,384.9 224.2,386.1 223.2,387.1 224.5,386.8 225.4,388.0 224.8,389.0 226.1,389.9 226.7,391.1 228.6,391.8 229.2,392.2 230.3,391.7 231.4,392.4 232.3,393.1 233.2,393.6 234.5,393.8 235.8,393.5 236.4,391.9 237.5,391.8 238.6,391.8 239.7,392.0 240.8,392.7 241.6,393.5 242.6,393.9 243.7,393.8 244.8,393.8 245.9,393.3 247.0,393.3 248.0,392.6 248.9,391.8 250.8,392.4 252.0,392.4 253.6,391.8 253.2,393.3 252.6,394.6 252.9,396.1 253.2,397.7 252.7,398.8 252.0,399.9 251.7,400.8 251.4,401.8 250.8,402.7 250.1,404.2 249.8,405.8 249.4,406.8 248.9,407.7 247.9,408.9 246.4,409.4 245.3,409.3 244.2,409.6 242.9,409.5 241.7,409.1 240.4,408.3 238.9,408.0 237.0,408.5 235.4,408.3 234.2,409.2 233.0,409.8 231.7,410.3 230.6,410.1 229.5,409.7 228.2,409.5 227.0,409.2 225.9,409.1 224.8,408.6 223.8,408.4 222.7,408.4 221.7,408.0 220.4,407.9 219.2,408.2 218.6,407.3 217.6,406.9 215.8,406.7 214.5,406.3 213.2,406.1 212.4,405.4 211.5,404.9 210.8,404.1 209.5,404.1 208.2,403.8 207.1,403.9 206.1,404.6 204.8,405.0 203.9,405.8 202.9,407.4 203.0,408.6 203.2,409.9 202.7,410.7 202.0,411.4 201.0,411.8 200.1,412.2 198.6,411.7 197.9,411.0 197.0,410.5 196.0,410.0 194.9,410.0 193.9,409.6 192.8,409.4 191.7,409.4 190.8,408.9 189.9,408.2 188.9,407.7 188.2,405.8 187.0,405.3 185.8,404.9 184.3,404.7 182.9,404.1 181.9,404.2 180.9,404.0 179.8,404.1 178.7,403.9 177.7,403.4 176.7,403.2 175.4,402.7 174.2,401.8 172.9,401.4 172.3,400.2 172.0,399.3 173.2,398.8 174.2,398.0 175.4,396.8 174.2,395.5 173.6,393.6 174.8,392.4 175.4,391.0 173.9,391.4 172.6,391.8 172.6,390.5 171.4,390.2 170.1,390.3 168.9,390.8 167.3,391.3 166.1,391.3 164.8,391.3 163.2,390.8 161.8,390.9 160.4,391.1 159.4,391.4 158.4,392.1 157.3,392.4 156.1,391.8 154.8,391.4 153.7,391.5 152.5,391.7 151.4,391.8 149.9,391.8 148.6,392.4 147.5,392.6 146.5,392.5 145.4,392.7 144.2,393.1 143.1,393.7 142.0,394.3 140.9,394.4 139.8,394.7 137.9,395.2 136.7,395.6 135.8,396.4 133.9,397.1 132.8,396.7 131.7,396.8 130.6,396.4 129.5,396.6 128.2,396.6 127.0,396.8 126.1,396.1 125.1,395.5 124.2,394.7 122.3,394.9 121.4,396.1 120.6,397.3 120.1,398.6 119.2,399.6 118.6,400.8 117.5,401.4 116.4,401.8 115.1,402.4 113.9,403.0 113.0,404.0 112.0,404.9 111.7,406.7 110.9,407.5 110.4,408.6 110.1,410.5 110.8,412.1 110.1,413.3 M289.8,413.3 290.8,413.0 292.3,412.8 293.9,412.2 295.8,412.7 297.3,412.8 298.2,414.2 M287.6,368.0 288.1,366.9 288.5,365.7 289.2,364.6 290.4,364.0 291.7,363.4 292.6,362.8 293.6,362.4 294.5,361.8 295.6,361.2 296.8,361.3 297.9,360.9 298.9,360.6 299.9,360.1 300.8,359.6 301.8,359.9 302.8,360.1 303.9,360.2 305.1,360.7 306.4,360.9 307.0,362.7 306.5,363.9 306.4,365.2 305.3,365.0 304.3,364.9 303.2,364.9 302.2,365.3 301.1,365.5 300.5,366.4 300.1,367.4 301.4,368.3 300.2,368.1 299.1,368.2 297.9,368.3 298.7,369.4 299.5,370.5 300.2,371.4 301.1,372.1 302.2,372.8 303.2,373.7 304.2,374.8 304.8,376.2 305.4,377.3 306.1,378.3 307.1,378.1 307.9,377.4 308.9,377.1 310.2,377.3 311.4,377.7 310.4,378.3 309.5,379.0 308.5,379.3 307.4,379.5 306.4,379.9 307.2,380.7 307.6,381.8 307.6,383.3 308.5,384.2 309.2,385.2 309.3,386.2 309.4,387.2 309.1,388.2 309.2,389.2 309.2,390.2 308.3,390.7 307.4,391.2 306.4,391.4 305.2,391.5 304.0,391.4 302.9,391.7 301.7,391.8 300.5,391.3 299.2,391.2 297.9,390.8 297.1,390.2 296.1,390.0 295.1,389.6 294.6,388.6 294.2,387.6 293.6,386.8 293.9,385.2 294.5,384.4 295.1,383.6 295.1,382.4 295.1,381.1 296.5,380.9 297.9,380.5 296.6,380.4 295.4,379.9 294.5,379.1 293.9,378.0 292.9,377.2 292.3,376.2 291.7,375.1 291.0,374.1 290.1,373.3 289.2,372.1 289.5,370.2 287.9,369.3 287.6,368.0 M197.3,328.4 198.2,326.8 199.5,325.9 201.1,325.7 200.6,326.7 199.8,327.4 198.9,328.3 197.9,329.0 197.3,328.4 M192.0,331.2 192.9,329.6 193.7,328.7 194.2,327.6 193.2,329.3 192.7,330.3 192.0,331.2 M208.9,324.6 209.6,323.4 211.1,323.7 212.2,324.5 213.6,324.0 211.9,324.1 211.4,325.6 209.5,325.9 208.9,324.6 M210.4,323.1 212.0,322.5 212.6,323.1 211.1,323.4 210.4,323.1 M186.7,334.6 187.9,334.2 188.1,334.9 186.7,334.6 M175.1,334.0 175.8,332.4 177.6,331.8 178.9,331.9 180.1,331.8 179.8,333.1 179.4,334.0 178.6,334.6 176.7,334.6 175.1,334.0 M171.1,333.4 172.0,333.1 173.9,333.4 174.5,334.6 172.6,334.9 171.1,334.3 171.1,333.4 M175.1,335.3 176.7,335.3 178.6,335.6 177.9,336.2 176.8,336.1 175.8,335.9 175.1,335.3 M202.0,319.0 203.4,319.2 204.2,318.1 203.9,319.3 202.0,319.0 M167.5,374.3 167.6,375.8 168.2,376.8 169.5,377.4 170.1,376.8 170.6,375.2 170.3,373.3 170.0,372.4 169.7,373.3 167.9,373.7 167.5,374.3 M166.4,379.0 167.0,380.7 167.0,382.1 167.2,383.2 167.3,384.3 167.0,385.0 168.6,385.2 169.2,384.3 170.8,384.6 171.1,383.3 171.1,381.5 171.4,380.2 170.4,378.6 169.5,377.9 168.2,379.0 166.4,379.0 M179.5,388.0 179.8,389.3 180.9,389.7 182.0,389.6 183.0,390.2 184.1,390.5 185.1,390.8 186.1,391.2 186.9,391.8 187.9,392.1 188.6,391.1 187.9,389.6 188.6,388.3 189.7,387.2 188.2,387.4 187.2,387.4 186.1,387.7 185.1,388.0 183.7,387.8 182.3,387.4 180.4,387.5 179.5,388.0 M214.2,396.4 214.8,395.5 215.7,396.1 216.7,396.3 217.8,396.4 218.9,396.1 220.1,396.4 221.4,396.4 222.9,396.4 222.3,397.4 221.2,397.6 220.0,397.5 218.9,397.5 217.5,397.4 216.1,397.1 214.2,396.4 M241.7,397.4 242.6,396.8 244.5,396.3 245.6,396.0 246.7,395.7 247.7,395.3 248.9,395.2 247.9,396.1 247.0,397.1 246.7,397.5 245.3,398.1 243.9,398.5 242.3,398.3 241.7,397.4 M227.3,393.9 228.9,392.9 228.9,393.9 227.6,394.6 227.3,393.9 M212.0,384.9 213.6,385.7 214.7,386.1 215.8,386.8 216.9,387.0 217.6,388.0 216.7,387.7 215.4,387.7 214.5,386.8 213.2,386.7 212.6,385.5 212.0,384.9 M221.7,384.3 222.6,383.6 223.9,384.0 223.2,384.9 221.7,384.3 M221.7,386.8 222.3,386.1 222.5,387.1 221.7,386.8 M223.9,388.6 225.1,388.8 224.5,389.1 223.9,388.6 M219.2,382.1 220.1,381.8 219.8,382.4 219.2,382.1 M148.1,383.0 149.2,381.9 150.8,381.9 151.5,382.7 150.8,383.8 149.2,383.3 148.1,383.0 M152.6,381.8 154.2,382.2 152.8,382.1 152.6,381.8 M144.5,385.2 145.8,384.6 145.4,385.4 144.5,385.2 M185.4,394.6 186.4,394.7 185.8,394.9 185.4,394.6 M219.2,391.1 220.4,390.8 220.1,391.4 219.2,391.1 M218.6,388.6 219.2,388.3 218.7,389.3 218.6,388.6 M301.7,283.7 302.7,283.7 303.8,284.0 304.8,284.1 305.9,284.8 307.0,285.6 308.0,285.5 309.0,285.9 310.0,285.8 311.1,285.9 312.1,286.0 313.2,285.9 314.2,286.2 315.4,286.5 316.5,286.5 317.7,286.3 318.9,286.2 320.4,285.6 319.3,285.3 318.3,284.9 317.3,284.4 316.3,283.9 315.2,283.9 314.2,283.4 313.9,282.2 313.6,280.9 314.5,280.0 315.8,279.4 315.0,278.7 314.5,277.8 315.6,277.8 316.6,277.1 317.8,277.1 318.9,276.9 319.9,276.7 320.8,276.1 321.8,275.9 322.6,275.3 323.6,275.0 324.6,274.6 325.7,274.3 326.7,273.7 327.8,273.2 328.8,272.5 329.8,271.9 330.8,271.5 331.9,271.6 332.9,271.3 M301.7,283.7 302.6,283.2 303.4,282.5 304.2,281.9 305.0,280.9 305.8,280.0 306.9,279.4 307.9,278.7 308.9,277.2 309.8,276.8 310.8,276.5 311.8,276.2 312.6,275.6 313.4,274.4 314.2,273.1 315.1,272.5 315.8,271.6 M291.4,290.6 292.3,290.1 293.2,289.7 294.3,290.1 295.4,290.0 296.4,290.3 295.8,291.5 294.5,291.6 293.2,291.9 292.2,291.4 291.4,290.6 M323.6,288.1 324.8,287.6 325.8,286.7 326.8,287.0 327.7,287.4 328.8,287.4 329.8,287.8 328.4,288.3 327.0,288.7 325.9,288.3 324.7,288.1 323.6,288.1 M122.9,394.9 123.2,394.6 M60.0,388.5 61.1,388.5 62.2,388.8 61.1,389.0 60.0,388.5 M55.3,385.7 56.2,385.5 56.4,386.0 55.4,386.0 55.3,385.7 M51.5,386.3 53.1,386.6 52.3,386.8 51.5,386.3 M50.6,386.1 51.4,386.1 51.1,386.5 50.6,386.1 M52.3,385.8 54.0,386.3 53.2,386.1 52.3,385.8 M86.8,404.2 88.1,404.1 88.7,404.6 87.6,404.7 86.8,404.2 M179.8,294.5 181.1,295.1 181.9,293.8 182.9,293.7 184.1,294.4 185.0,293.3 185.8,292.3 187.0,292.9 188.2,293.0 188.8,291.5 190.1,292.0 190.8,292.5 189.8,293.0 188.9,293.7 187.5,292.4 186.7,293.6 185.8,294.2 184.7,294.0 183.7,294.4 182.6,294.4 181.2,294.2 179.8,294.5 M186.4,292.0 187.2,291.4 188.5,291.6 189.2,290.6 190.5,290.5 191.7,290.9 190.9,292.1 189.5,291.7 188.4,290.9 187.4,291.8 186.4,292.0" fill="none" stroke="#666" stroke-width="1.4" stroke-linejoin="round"/>
<path d="M55.8,291.9 57.3,292.6 58.3,291.9 59.5,291.5 60.5,291.1 61.3,290.1 62.6,290.6 63.7,290.2 64.9,290.2 65.8,289.4 66.5,288.3 67.7,288.1 68.9,287.8 70.2,287.8 71.1,286.9 72.0,285.6 70.7,285.7 70.4,284.4 71.1,282.9 72.6,283.4 73.2,281.9 72.0,282.0 71.4,280.9 72.1,279.7 73.6,280.0 74.6,279.7 75.1,278.7 76.2,277.7 77.6,277.5 76.7,276.2 77.3,274.9 78.9,275.0 79.4,274.1 80.4,273.7 81.0,272.8 81.4,271.9 M54.8,285.3 56.1,285.8 57.0,284.1 58.2,284.0 59.5,284.4 60.6,285.1 61.8,284.7 63.0,284.9 64.2,285.0 65.3,284.9 66.4,284.8 67.3,285.6 68.5,286.8 70.1,286.2 M53.2,283.1 54.2,281.9 55.4,281.7 57.0,283.4 57.9,282.2 58.9,283.3 60.4,281.9 61.6,282.4 62.6,283.1 63.6,282.5 64.8,283.1 65.8,282.5 66.8,282.2 67.8,282.1 68.9,282.2 70.8,282.8 M56.4,279.1 57.7,279.4 58.9,278.5 60.1,278.4 61.1,278.9 62.2,278.6 63.2,278.7 63.9,280.1 65.1,279.4 66.6,280.2 67.5,278.2 68.9,278.7 69.8,279.5 70.8,279.7 72.0,279.4 M61.1,276.9 62.3,277.2 63.6,277.3 64.6,276.4 65.8,275.9 66.8,276.9 67.9,277.3 69.2,276.8 70.4,276.9 71.8,276.1 73.0,276.4 74.2,277.2 M65.8,273.7 67.0,273.6 68.2,273.5 69.4,273.6 70.4,274.4 71.5,273.3 72.7,273.7 73.9,273.2 75.1,274.1 76.0,275.3 77.2,274.6 78.2,274.7 M57.9,286.5 59.2,286.1 60.4,286.2 61.4,287.0 62.6,287.2 63.9,287.5 65.1,287.9 66.1,286.4 67.3,286.5" fill="none" stroke="#6a6a6a" stroke-width="1.9" stroke-linejoin="round" stroke-linecap="round"/>
<path d="M64.2,302.2 65.5,301.5 66.4,300.3 67.9,300.5 68.9,299.3 70.8,299.3 72.0,300.6 73.3,301.1 M65.7,302.2 64.2,302.2 64.2,302.2" fill="none" stroke="#6a6a6a" stroke-width="2.2" stroke-linejoin="round" stroke-linecap="round"/>
<path d="M123.6,331.8 122.9,330.3 121.4,329.6 121.9,328.6 122.9,328.1 122.6,326.8 123.5,326.3 123.9,325.3 124.8,324.7 125.1,323.7 125.1,323.7 M117.3,328.7 118.3,328.0 118.2,326.8 119.2,325.9 120.0,324.6 121.4,324.0 119.5,324.6 119.4,325.9 119.2,327.1 117.2,327.3 117.3,328.7 M120.4,328.1 121.8,328.2 122.0,326.8 122.9,327.8 121.8,328.4 120.4,328.1 M122.3,331.8 121.4,332.1 M236.4,289.8 235.1,289.0 233.9,287.8 235.2,287.9 236.4,287.2 M236.3,287.0 236.1,285.6 234.9,285.6 233.7,285.7 232.6,285.1 231.4,285.3 229.8,286.2 228.2,285.3 227.3,284.7 226.1,285.7 224.9,285.4 223.6,285.0 222.5,284.4 221.4,284.5 220.0,284.7 218.9,285.3 217.8,285.5 216.8,285.3 215.8,285.3 214.7,285.7 213.5,285.4 212.6,286.2 211.5,286.6 210.4,287.1 209.2,287.4 207.9,287.2 206.9,287.3 205.8,287.5 204.8,287.8 203.8,287.8 202.7,287.9 201.7,287.8 200.6,288.0 199.4,287.3 198.6,288.4 197.4,288.3 196.7,289.9 195.4,289.4 194.6,290.3 193.3,290.1 192.3,290.6 190.8,291.5 190.3,292.5 189.2,292.8 187.9,292.6 187.0,293.4 188.0,294.1 189.2,294.0 188.3,294.4 187.5,295.1 186.0,294.3 185.4,295.5 184.5,295.9 182.9,296.9 184.1,296.3 185.1,297.1 186.1,297.5 185.2,298.7 183.5,297.5 182.8,299.4 181.4,299.0 181.0,300.3 179.8,300.6 178.9,302.2 177.3,302.2 176.7,303.7 175.1,304.3 174.3,305.0 173.8,306.0 172.6,306.2 171.5,306.4 171.1,307.5 172.4,307.7 173.6,308.4 172.4,309.1 171.2,309.0 170.0,308.3 168.9,308.4 167.6,307.9 166.8,309.1 165.8,309.3 164.5,309.1 163.7,310.0 162.6,310.3 161.2,310.3 160.1,311.2 159.1,311.4 158.3,312.1 157.3,312.5 156.4,314.0 156.8,315.2 156.1,316.2 156.4,318.1 157.6,318.6 157.3,320.0 158.2,321.5 157.9,323.1 158.6,324.0 M167.8,324.6 168.9,323.7 169.7,322.7 171.1,322.5 171.7,321.4 172.9,321.5 174.2,321.0 173.9,319.6 174.2,321.2 175.1,322.1 175.8,322.8 175.8,324.3 176.9,324.6 M193.6,324.0 194.4,323.3 195.6,323.5 196.4,322.8 197.7,322.7 198.6,321.9 199.5,321.2 199.2,319.6 198.2,318.4 196.7,318.1 195.3,318.4 194.8,317.1 194.1,316.1 194.5,315.0 195.1,313.1 196.3,312.7 196.4,311.5 197.7,311.1 198.6,310.0 199.7,309.6 200.6,308.9 201.7,308.4 202.8,308.3 203.8,307.7 204.8,307.5 205.8,306.3 207.3,305.9 207.9,304.3 209.1,304.1 209.3,302.8 210.1,302.2 211.6,302.3 212.6,301.2 213.9,301.2 215.1,301.6 216.4,301.2 217.7,301.1 218.9,301.4 219.8,302.5 220.1,303.7 219.3,305.1 217.6,305.0 216.4,305.4 215.4,306.4 214.2,306.8 212.9,306.7 212.3,308.0 211.1,308.1 210.2,309.0 208.9,308.8 207.9,309.3 207.2,310.3 207.0,311.5 207.8,312.4 208.1,313.5 207.9,314.6 207.6,316.5 208.6,317.8 209.9,317.7 210.8,318.7 211.5,319.5 212.6,319.6 213.8,319.9 214.8,319.7 215.8,319.0 216.8,319.5 217.9,319.7 218.9,318.7 220.1,319.2 221.0,318.3 222.0,318.1 223.1,318.1 224.0,317.1 225.1,317.8 226.3,317.9 227.5,318.2 228.6,316.7 229.8,317.5 230.1,318.7 231.4,318.7 232.6,319.3 234.0,318.9 235.1,319.6 233.7,319.3 232.3,319.6 231.2,320.7 229.8,320.0 228.2,320.9 227.2,321.4 226.1,320.6 225.1,321.0 223.8,321.6 222.5,321.5 221.4,320.6 220.4,320.7 219.3,320.1 218.3,320.1 217.3,320.9 216.4,321.7 215.4,322.1 214.2,321.7 214.2,322.8 214.8,324.0 M209.6,323.4 211.1,323.7 212.2,324.5 213.6,324.0 211.9,324.1 M210.4,323.1 212.0,322.5 212.6,323.1 211.1,323.4 210.4,323.1 M202.0,319.0 203.4,319.2 204.2,318.1 203.9,319.3 202.0,319.0 M179.8,294.5 181.1,295.1 181.9,293.8 182.9,293.7 184.1,294.4 185.0,293.3 185.8,292.3 187.0,292.9 188.2,293.0 188.8,291.5 190.1,292.0 190.8,292.5 189.8,293.0 188.9,293.7 187.5,292.4 186.7,293.6 185.8,294.2 184.7,294.0 183.7,294.4 182.6,294.4 181.2,294.2 179.8,294.5 M186.4,292.0 187.2,291.4 188.5,291.6 189.2,290.6 190.5,290.5 191.7,290.9 190.9,292.1 189.5,291.7 188.4,290.9 187.4,291.8 186.4,292.0" fill="none" stroke="#6a6a6a" stroke-width="2.4" stroke-linejoin="round" stroke-linecap="round"/>
<path d="M187.8,375.2 186.7,375.2 185.5,374.6 M185.4,365.5 187.3,366.2 188.3,367.0 188.2,368.3 188.4,369.7 190.2,369.3 190.4,370.5 192.3,370.8 193.0,371.7 194.6,371.1 195.1,372.4 195.7,373.5 197.0,373.3 197.6,374.5 198.9,374.3 200.1,375.2 M211.4,391.8 212.1,392.6 M212.3,391.1 212.3,389.6 214.2,389.9 213.2,388.3 214.4,388.9 215.8,389.0 215.9,387.4 215.4,386.0 213.9,386.1 213.3,385.0 212.0,385.2 212.6,384.0 211.7,382.7 M212.0,379.9 212.4,381.3 213.9,381.1 215.1,380.8 215.4,379.9 216.9,379.6 218.2,379.1 M220.4,379.1 222.0,379.6 222.9,380.5 224.5,379.9 225.6,379.3 226.7,378.8 227.8,379.1 M227.2,380.9 226.1,380.5 224.2,380.7 223.2,381.5 222.6,382.1 222.3,383.3 224.2,384.0 224.8,384.9 224.2,386.1 223.2,387.1 224.5,386.8 225.4,388.0 224.8,389.0 226.1,389.9 226.7,391.1 M212.0,384.9 213.6,385.7 214.7,386.1 215.8,386.8 216.9,387.0 217.6,388.0 216.7,387.7 215.4,387.7 214.5,386.8 213.2,386.7 212.6,385.5 212.0,384.9 M221.7,384.3 222.6,383.6 223.9,384.0 223.2,384.9 221.7,384.3 M221.7,386.8 222.3,386.1 222.5,387.1 221.7,386.8 M223.9,388.6 225.1,388.8 224.5,389.1 223.9,388.6 M219.2,382.1 220.1,381.8 219.8,382.4 219.2,382.1 M219.2,391.1 220.4,390.8 220.1,391.4 219.2,391.1 M218.6,388.6 219.2,388.3 218.7,389.3 218.6,388.6" fill="none" stroke="#6a6a6a" stroke-width="2.0" stroke-linejoin="round" stroke-linecap="round"/>
</g>
<rect x="47.0" y="272.5" width="312.5" height="140.5" fill="none" stroke="#000" stroke-width="1.2"/>
<rect x="140.75" y="319.33" width="187.50" height="62.44" fill="none" stroke="#008000" stroke-width="3"/>
<text x="-1.55" y="75.80" font-size="17.86" textLength="41.99" lengthAdjust="spacingAndGlyphs" fill="#000">60°N</text>
<text x="-1.03" y="138.10" font-size="17.86" textLength="41.44" lengthAdjust="spacingAndGlyphs" fill="#000">40°N</text>
<text x="24.40" y="184.30" font-size="17.86" textLength="45.37" lengthAdjust="spacingAndGlyphs" fill="#000">30°W</text>
<text x="131.63" y="184.30" font-size="17.86" textLength="18.74" lengthAdjust="spacingAndGlyphs" fill="#000">0°</text>
<text x="214.50" y="184.30" font-size="17.86" textLength="39.99" lengthAdjust="spacingAndGlyphs" fill="#000">30°E</text>
<text x="307.66" y="184.30" font-size="17.86" textLength="40.34" lengthAdjust="spacingAndGlyphs" fill="#000">60°E</text>
<text x="-1.55" y="323.80" font-size="17.86" textLength="41.99" lengthAdjust="spacingAndGlyphs" fill="#000">60°N</text>
<text x="-1.03" y="386.10" font-size="17.86" textLength="41.44" lengthAdjust="spacingAndGlyphs" fill="#000">40°N</text>
<text x="24.40" y="432.30" font-size="17.86" textLength="45.37" lengthAdjust="spacingAndGlyphs" fill="#000">30°W</text>
<text x="131.63" y="432.30" font-size="17.86" textLength="18.74" lengthAdjust="spacingAndGlyphs" fill="#000">0°</text>
<text x="214.50" y="432.30" font-size="17.86" textLength="39.99" lengthAdjust="spacingAndGlyphs" fill="#000">30°E</text>
<text x="307.66" y="432.30" font-size="17.86" textLength="40.34" lengthAdjust="spacingAndGlyphs" fill="#000">60°E</text>
<text x="47.24" y="16.90" font-size="23.21" textLength="91.48" lengthAdjust="spacingAndGlyphs" fill="#000">a) mean</text>
<text x="465.72" y="16.90" font-size="23.21" textLength="187.08" lengthAdjust="spacingAndGlyphs" fill="#000">b) Eurasia, mean</text>
<text x="46.73" y="264.40" font-size="23.21" textLength="119.50" lengthAdjust="spacingAndGlyphs" fill="#000">c) extreme</text>
<text x="465.56" y="263.80" font-size="23.21" textLength="215.74" lengthAdjust="spacingAndGlyphs" fill="#000">d) Eurasia, extreme</text>
<clipPath id="clip24"><rect x="465.8" y="24.5" width="210.99999999999994" height="140.5"/></clipPath>
<g clip-path="url(#clip24)">
<line x1="465.8" x2="676.8" y1="47.80" y2="47.80" stroke="#808080" stroke-width="1.7"/>
<path d="M575.10,32.00 L572.72,32.89 L571.22,33.78 L570.32,34.67 L569.81,35.56 L569.46,36.46 L569.19,37.35 L568.96,38.24 L568.71,39.13 L568.41,40.02 L567.99,40.91 L567.45,41.80 L566.81,42.69 L566.10,43.58 L565.34,44.48 L564.56,45.37 L563.80,46.26 L563.07,47.15 L562.41,48.04 L561.80,48.93 L561.16,49.82 L560.53,50.71 L559.91,51.61 L559.31,52.50 L558.77,53.39 L558.29,54.28 L557.89,55.17 L557.58,56.06 L557.33,56.95 L557.08,57.84 L556.86,58.73 L556.67,59.63 L556.52,60.52 L556.43,61.41 L556.40,62.30 L556.46,63.19 L556.60,64.08 L556.81,64.97 L557.07,65.86 L557.36,66.75 L557.67,67.65 L557.99,68.54 L558.37,69.43 L558.85,70.32 L559.40,71.21 L559.99,72.10 L560.61,72.99 L561.23,73.88 L561.84,74.77 L562.40,75.67 L562.92,76.56 L563.45,77.45 L563.98,78.34 L564.50,79.23 L565.02,80.12 L565.52,81.01 L565.99,81.90 L566.44,82.79 L566.85,83.69 L567.23,84.58 L567.60,85.47 L567.96,86.36 L568.30,87.25 L568.63,88.14 L568.93,89.03 L569.22,89.92 L569.48,90.82 L569.73,91.71 L569.93,92.60 L570.09,93.49 L570.22,94.38 L570.35,95.27 L570.48,96.16 L570.65,97.05 L570.86,97.94 L571.13,98.84 L571.54,99.73 L572.46,100.62 L573.72,101.51 L575.10,102.40 L575.10,102.40 L576.48,101.51 L577.74,100.62 L578.66,99.73 L579.07,98.84 L579.34,97.94 L579.55,97.05 L579.72,96.16 L579.85,95.27 L579.98,94.38 L580.11,93.49 L580.27,92.60 L580.47,91.71 L580.72,90.82 L580.98,89.92 L581.27,89.03 L581.57,88.14 L581.90,87.25 L582.24,86.36 L582.60,85.47 L582.97,84.58 L583.35,83.69 L583.76,82.79 L584.21,81.90 L584.68,81.01 L585.18,80.12 L585.70,79.23 L586.22,78.34 L586.75,77.45 L587.28,76.56 L587.80,75.67 L588.36,74.77 L588.97,73.88 L589.59,72.99 L590.21,72.10 L590.80,71.21 L591.35,70.32 L591.83,69.43 L592.21,68.54 L592.53,67.65 L592.84,66.75 L593.13,65.86 L593.39,64.97 L593.60,64.08 L593.74,63.19 L593.80,62.30 L593.77,61.41 L593.68,60.52 L593.53,59.63 L593.34,58.73 L593.12,57.84 L592.87,56.95 L592.62,56.06 L592.31,55.17 L591.91,54.28 L591.43,53.39 L590.89,52.50 L590.29,51.61 L589.67,50.71 L589.04,49.82 L588.40,48.93 L587.79,48.04 L587.13,47.15 L586.40,46.26 L585.64,45.37 L584.86,44.48 L584.10,43.58 L583.39,42.69 L582.75,41.80 L582.21,40.91 L581.79,40.02 L581.49,39.13 L581.24,38.24 L581.01,37.35 L580.74,36.46 L580.39,35.56 L579.88,34.67 L578.98,33.78 L577.48,32.89 L575.10,32.00 Z" fill="#d3d3d3" stroke="#a8a8a8" stroke-width="1"/>
<path d="M647.90,48.20 L646.29,48.94 L645.19,49.69 L644.51,50.43 L643.98,51.18 L643.53,51.92 L643.10,52.67 L642.62,53.41 L642.03,54.15 L641.39,54.90 L640.71,55.64 L640.01,56.39 L639.30,57.13 L638.59,57.88 L637.89,58.62 L637.23,59.36 L636.61,60.11 L636.03,60.85 L635.46,61.60 L634.90,62.34 L634.36,63.09 L633.83,63.83 L633.33,64.57 L632.85,65.32 L632.42,66.06 L632.03,66.81 L631.69,67.55 L631.35,68.30 L631.01,69.04 L630.67,69.78 L630.35,70.53 L630.04,71.27 L629.77,72.02 L629.53,72.76 L629.34,73.51 L629.20,74.25 L629.12,74.99 L629.10,75.74 L629.13,76.48 L629.20,77.23 L629.30,77.97 L629.42,78.72 L629.56,79.46 L629.72,80.21 L629.89,80.95 L630.12,81.69 L630.45,82.44 L630.88,83.18 L631.38,83.93 L631.93,84.67 L632.51,85.42 L633.09,86.16 L633.66,86.90 L634.20,87.65 L634.70,88.39 L635.21,89.14 L635.73,89.88 L636.26,90.63 L636.79,91.37 L637.31,92.11 L637.83,92.86 L638.34,93.60 L638.84,94.35 L639.31,95.09 L639.76,95.84 L640.20,96.58 L640.63,97.32 L641.05,98.07 L641.48,98.81 L641.93,99.56 L642.39,100.30 L642.88,101.05 L643.41,101.79 L643.97,102.53 L644.56,103.28 L645.18,104.02 L645.83,104.77 L646.50,105.51 L647.19,106.26 L647.90,107.00 L647.90,107.00 L648.61,106.26 L649.30,105.51 L649.97,104.77 L650.62,104.02 L651.24,103.28 L651.83,102.53 L652.39,101.79 L652.92,101.05 L653.41,100.30 L653.87,99.56 L654.32,98.81 L654.75,98.07 L655.17,97.32 L655.60,96.58 L656.04,95.84 L656.49,95.09 L656.96,94.35 L657.46,93.60 L657.97,92.86 L658.49,92.11 L659.01,91.37 L659.54,90.63 L660.07,89.88 L660.59,89.14 L661.10,88.39 L661.60,87.65 L662.14,86.90 L662.71,86.16 L663.29,85.42 L663.87,84.67 L664.42,83.93 L664.92,83.18 L665.35,82.44 L665.68,81.69 L665.91,80.95 L666.08,80.21 L666.24,79.46 L666.38,78.72 L666.50,77.97 L666.60,77.23 L666.67,76.48 L666.70,75.74 L666.68,74.99 L666.60,74.25 L666.46,73.51 L666.27,72.76 L666.03,72.02 L665.76,71.27 L665.45,70.53 L665.13,69.78 L664.79,69.04 L664.45,68.30 L664.11,67.55 L663.77,66.81 L663.38,66.06 L662.95,65.32 L662.47,64.57 L661.97,63.83 L661.44,63.09 L660.90,62.34 L660.34,61.60 L659.77,60.85 L659.19,60.11 L658.57,59.36 L657.91,58.62 L657.21,57.88 L656.50,57.13 L655.79,56.39 L655.09,55.64 L654.41,54.90 L653.77,54.15 L653.18,53.41 L652.70,52.67 L652.27,51.92 L651.82,51.18 L651.29,50.43 L650.61,49.69 L649.51,48.94 L647.90,48.20 Z" fill="#d3d3d3" stroke="#a8a8a8" stroke-width="1"/>
<circle cx="575.1" cy="35.50" r="3.1" fill="#fff" stroke="#000" stroke-width="1.2"/>
<circle cx="575.1" cy="41.30" r="3.1" fill="#fff" stroke="#000" stroke-width="1.2"/>
<circle cx="575.1" cy="44.30" r="3.1" fill="#fff" stroke="#000" stroke-width="1.2"/>
<circle cx="575.1" cy="47.00" r="3.1" fill="#222" stroke="#000" stroke-width="1.2"/>
<circle cx="575.1" cy="50.00" r="3.1" fill="#222" stroke="#000" stroke-width="1.2"/>
<circle cx="575.1" cy="53.00" r="3.1" fill="#fff" stroke="#000" stroke-width="1.2"/>
<circle cx="575.1" cy="56.00" r="3.1" fill="#222" stroke="#000" stroke-width="1.2"/>
<circle cx="575.1" cy="74.50" r="3.1" fill="#222" stroke="#000" stroke-width="1.2"/>
<circle cx="575.1" cy="78.00" r="3.1" fill="#222" stroke="#000" stroke-width="1.2"/>
<circle cx="575.1" cy="81.50" r="3.1" fill="#222" stroke="#000" stroke-width="1.2"/>
<circle cx="575.1" cy="85.00" r="3.1" fill="#222" stroke="#000" stroke-width="1.2"/>
<circle cx="575.1" cy="88.50" r="3.1" fill="#222" stroke="#000" stroke-width="1.2"/>
<circle cx="575.1" cy="91.60" r="3.1" fill="#222" stroke="#000" stroke-width="1.2"/>
<circle cx="575.1" cy="98.50" r="3.1" fill="#333" stroke="#000" stroke-width="1.2"/>
<line x1="647.9" x2="647.9" y1="56.50" y2="106.00" stroke="#cc00ee" stroke-width="7.4" stroke-linecap="round"/>
<circle cx="647.9" cy="46.10" r="3.0" fill="#fff" stroke="#cc00ee" stroke-width="1.4"/>
<circle cx="575.1" cy="65.00" r="7.3" fill="#4d4d4d" stroke="#000" stroke-width="2.6"/>
<circle cx="647.9" cy="78.90" r="7.3" fill="#cc00ee" stroke="#000" stroke-width="2.6"/>
<circle cx="502.2" cy="70.60" r="5.6" fill="#801d64"/>
<circle cx="502.2" cy="77.10" r="5.6" fill="#cf4459"/>
<circle cx="502.2" cy="88.00" r="5.6" fill="#f0925f"/>
<line x1="465.8" x2="676.8" y1="43.10" y2="43.10" stroke="#000" stroke-width="2.65" stroke-dasharray="2.65 4.6"/>
<line x1="465.8" x2="676.8" y1="90.20" y2="90.20" stroke="#000" stroke-width="2.65" stroke-dasharray="2.65 4.6"/>
</g>
<text x="555.21" y="129.60" font-size="17.65" font-weight="bold" textLength="40.22" lengthAdjust="spacingAndGlyphs" fill="#801d64">25.6</text>
<text x="555.34" y="143.80" font-size="17.65" font-weight="bold" textLength="39.78" lengthAdjust="spacingAndGlyphs" fill="#cf4459">21.1</text>
<text x="555.13" y="158.00" font-size="17.65" font-weight="bold" textLength="39.79" lengthAdjust="spacingAndGlyphs" fill="#f0925f">10.3</text>
<text x="627.65" y="129.60" font-size="17.65" font-weight="bold" textLength="40.16" lengthAdjust="spacingAndGlyphs" fill="#801d64">72.3</text>
<text x="627.77" y="143.80" font-size="17.65" font-weight="bold" textLength="40.17" lengthAdjust="spacingAndGlyphs" fill="#cf4459">53.6</text>
<text x="627.93" y="158.00" font-size="17.65" font-weight="bold" textLength="39.94" lengthAdjust="spacingAndGlyphs" fill="#f0925f">25.7</text>
<rect x="465.8" y="24.5" width="210.99999999999994" height="140.5" fill="none" stroke="#000" stroke-width="1.1"/>
<line x1="461.0" x2="465.8" y1="47.80" y2="47.80" stroke="#000" stroke-width="1.1"/>
<text x="429.88" y="54.60" font-size="17.86" textLength="25.95" lengthAdjust="spacingAndGlyphs" fill="#000">0.0</text>
<line x1="461.0" x2="465.8" y1="94.20" y2="94.20" stroke="#000" stroke-width="1.1"/>
<text x="423.86" y="101.00" font-size="17.86" textLength="32.15" lengthAdjust="spacingAndGlyphs" fill="#000">-0.1</text>
<line x1="461.0" x2="465.8" y1="140.60" y2="140.60" stroke="#000" stroke-width="1.1"/>
<text x="424.00" y="147.40" font-size="17.86" textLength="32.04" lengthAdjust="spacingAndGlyphs" fill="#000">-0.2</text>
<line x1="502.5" x2="502.5" y1="165.0" y2="169.8" stroke="#000" stroke-width="1.1"/>
<text transform="translate(500.25,186.80) rotate(-30)" x="-38.04" y="0.00" font-size="20.15" textLength="37.92" lengthAdjust="spacingAndGlyphs" fill="#000">REA</text>
<line x1="575.2" x2="575.2" y1="165.0" y2="169.8" stroke="#000" stroke-width="1.1"/>
<text transform="translate(572.95,186.80) rotate(-30)" x="-59.02" y="0.00" font-size="20.15" textLength="58.66" lengthAdjust="spacingAndGlyphs" fill="#000">CMIP6</text>
<line x1="648.2" x2="648.2" y1="165.0" y2="169.8" stroke="#000" stroke-width="1.1"/>
<text transform="translate(645.95,186.80) rotate(-30)" x="-95.66" y="0.00" font-size="20.15" textLength="95.25" lengthAdjust="spacingAndGlyphs" fill="#000">CESM2-LE</text>
<text transform="translate(393.40,94.75) rotate(-90)" x="-45.22" y="0.00" font-size="20.15" textLength="91.84" lengthAdjust="spacingAndGlyphs" fill="#000">ws trends</text>
<text transform="translate(416.10,94.75) rotate(-90)" x="-64.29" y="0.00" font-size="20.15" textLength="125.67" lengthAdjust="spacingAndGlyphs" fill="#000">(m/s/decade)</text>
<clipPath id="clip272"><rect x="465.8" y="272.5" width="210.99999999999994" height="140.5"/></clipPath>
<g clip-path="url(#clip272)">
<line x1="465.8" x2="676.8" y1="287.70" y2="287.70" stroke="#808080" stroke-width="1.7"/>
<path d="M565.50,282.00 L564.76,282.87 L564.04,283.74 L563.36,284.62 L562.70,285.49 L562.08,286.36 L561.50,287.23 L560.96,288.11 L560.46,288.98 L560.01,289.85 L559.60,290.72 L559.22,291.59 L558.86,292.47 L558.51,293.34 L558.19,294.21 L557.90,295.08 L557.63,295.95 L557.40,296.83 L557.20,297.70 L557.03,298.57 L556.87,299.44 L556.72,300.32 L556.57,301.19 L556.45,302.06 L556.36,302.93 L556.31,303.80 L556.30,304.68 L556.38,305.55 L556.53,306.42 L556.75,307.29 L557.02,308.16 L557.33,309.04 L557.67,309.91 L558.02,310.78 L558.38,311.65 L558.74,312.53 L559.16,313.40 L559.65,314.27 L560.19,315.14 L560.76,316.01 L561.35,316.89 L561.95,317.76 L562.52,318.63 L563.07,319.50 L563.57,320.37 L564.08,321.25 L564.59,322.12 L565.09,322.99 L565.59,323.86 L566.06,324.74 L566.51,325.61 L566.93,326.48 L567.30,327.35 L567.64,328.22 L567.96,329.10 L568.27,329.97 L568.56,330.84 L568.84,331.71 L569.10,332.58 L569.35,333.46 L569.59,334.33 L569.81,335.20 L570.02,336.07 L570.21,336.95 L570.39,337.82 L570.56,338.69 L570.72,339.56 L570.88,340.43 L571.02,341.31 L571.16,342.18 L571.28,343.05 L571.40,343.92 L571.51,344.79 L571.61,345.67 L571.71,346.54 L571.80,347.41 L571.89,348.28 L571.97,349.16 L572.04,350.03 L572.10,350.90 L578.10,350.90 L578.16,350.03 L578.23,349.16 L578.31,348.28 L578.40,347.41 L578.49,346.54 L578.59,345.67 L578.69,344.79 L578.80,343.92 L578.92,343.05 L579.04,342.18 L579.18,341.31 L579.32,340.43 L579.48,339.56 L579.64,338.69 L579.81,337.82 L579.99,336.95 L580.18,336.07 L580.39,335.20 L580.61,334.33 L580.85,333.46 L581.10,332.58 L581.36,331.71 L581.64,330.84 L581.93,329.97 L582.24,329.10 L582.56,328.22 L582.90,327.35 L583.27,326.48 L583.69,325.61 L584.14,324.74 L584.61,323.86 L585.11,322.99 L585.61,322.12 L586.12,321.25 L586.63,320.37 L587.13,319.50 L587.68,318.63 L588.25,317.76 L588.85,316.89 L589.44,316.01 L590.01,315.14 L590.55,314.27 L591.04,313.40 L591.46,312.53 L591.82,311.65 L592.18,310.78 L592.53,309.91 L592.87,309.04 L593.18,308.16 L593.45,307.29 L593.67,306.42 L593.82,305.55 L593.90,304.68 L593.89,303.80 L593.84,302.93 L593.75,302.06 L593.63,301.19 L593.48,300.32 L593.33,299.44 L593.17,298.57 L593.00,297.70 L592.80,296.83 L592.57,295.95 L592.30,295.08 L592.01,294.21 L591.69,293.34 L591.34,292.47 L590.98,291.59 L590.60,290.72 L590.19,289.85 L589.74,288.98 L589.24,288.11 L588.70,287.23 L588.12,286.36 L587.50,285.49 L586.84,284.62 L586.16,283.74 L585.44,282.87 L584.70,282.00 Z" fill="#d3d3d3" stroke="#a8a8a8" stroke-width="1"/>
<path d="M641.70,293.00 L640.92,293.79 L640.17,294.59 L639.44,295.38 L638.75,296.18 L638.08,296.97 L637.45,297.77 L636.86,298.56 L636.31,299.36 L635.81,300.15 L635.33,300.95 L634.88,301.74 L634.45,302.54 L634.04,303.33 L633.65,304.13 L633.28,304.92 L632.93,305.72 L632.60,306.51 L632.28,307.31 L631.99,308.10 L631.69,308.90 L631.38,309.69 L631.06,310.49 L630.75,311.28 L630.45,312.08 L630.17,312.87 L629.90,313.67 L629.66,314.46 L629.45,315.26 L629.27,316.05 L629.13,316.85 L629.04,317.64 L629.00,318.44 L629.02,319.23 L629.08,320.03 L629.17,320.82 L629.31,321.62 L629.47,322.41 L629.66,323.21 L629.86,324.00 L630.08,324.80 L630.30,325.59 L630.52,326.39 L630.79,327.18 L631.13,327.98 L631.51,328.77 L631.93,329.57 L632.38,330.36 L632.84,331.16 L633.29,331.95 L633.73,332.75 L634.14,333.54 L634.50,334.34 L634.85,335.13 L635.18,335.93 L635.51,336.72 L635.82,337.52 L636.14,338.31 L636.45,339.11 L636.75,339.90 L637.06,340.70 L637.38,341.49 L637.69,342.29 L638.01,343.08 L638.33,343.88 L638.65,344.67 L638.97,345.47 L639.29,346.26 L639.61,347.06 L639.92,347.85 L640.23,348.65 L640.54,349.44 L640.84,350.24 L641.14,351.03 L641.44,351.83 L641.74,352.62 L642.03,353.42 L642.32,354.21 L642.61,355.01 L642.90,355.80 L652.90,355.80 L653.19,355.01 L653.48,354.21 L653.77,353.42 L654.06,352.62 L654.36,351.83 L654.66,351.03 L654.96,350.24 L655.26,349.44 L655.57,348.65 L655.88,347.85 L656.19,347.06 L656.51,346.26 L656.83,345.47 L657.15,344.67 L657.47,343.88 L657.79,343.08 L658.11,342.29 L658.42,341.49 L658.74,340.70 L659.05,339.90 L659.35,339.11 L659.66,338.31 L659.98,337.52 L660.29,336.72 L660.62,335.93 L660.95,335.13 L661.30,334.34 L661.66,333.54 L662.07,332.75 L662.51,331.95 L662.96,331.16 L663.42,330.36 L663.87,329.57 L664.29,328.77 L664.67,327.98 L665.01,327.18 L665.28,326.39 L665.50,325.59 L665.72,324.80 L665.94,324.00 L666.14,323.21 L666.33,322.41 L666.49,321.62 L666.63,320.82 L666.72,320.03 L666.78,319.23 L666.80,318.44 L666.76,317.64 L666.67,316.85 L666.53,316.05 L666.35,315.26 L666.14,314.46 L665.90,313.67 L665.63,312.87 L665.35,312.08 L665.05,311.28 L664.74,310.49 L664.42,309.69 L664.11,308.90 L663.81,308.10 L663.52,307.31 L663.20,306.51 L662.87,305.72 L662.52,304.92 L662.15,304.13 L661.76,303.33 L661.35,302.54 L660.92,301.74 L660.47,300.95 L659.99,300.15 L659.49,299.36 L658.94,298.56 L658.35,297.77 L657.72,296.97 L657.05,296.18 L656.36,295.38 L655.63,294.59 L654.88,293.79 L654.10,293.00 Z" fill="#d3d3d3" stroke="#a8a8a8" stroke-width="1"/>
<circle cx="575.1" cy="281.20" r="3.1" fill="#222" stroke="#000" stroke-width="1.2"/>
<circle cx="575.1" cy="285.00" r="3.1" fill="#fff" stroke="#000" stroke-width="1.2"/>
<circle cx="575.1" cy="289.00" r="3.1" fill="#222" stroke="#000" stroke-width="1.2"/>
<circle cx="575.1" cy="293.00" r="3.1" fill="#222" stroke="#000" stroke-width="1.2"/>
<circle cx="575.1" cy="297.00" r="3.1" fill="#fff" stroke="#000" stroke-width="1.2"/>
<circle cx="575.1" cy="300.50" r="3.1" fill="#222" stroke="#000" stroke-width="1.2"/>
<circle cx="575.1" cy="316.50" r="3.1" fill="#fff" stroke="#000" stroke-width="1.2"/>
<circle cx="575.1" cy="320.00" r="3.1" fill="#222" stroke="#000" stroke-width="1.2"/>
<circle cx="575.1" cy="323.50" r="3.1" fill="#222" stroke="#000" stroke-width="1.2"/>
<circle cx="575.1" cy="327.00" r="3.1" fill="#222" stroke="#000" stroke-width="1.2"/>
<circle cx="575.1" cy="337.50" r="3.1" fill="#222" stroke="#000" stroke-width="1.2"/>
<circle cx="575.1" cy="350.20" r="3.1" fill="#333" stroke="#000" stroke-width="1.2"/>
<line x1="647.9" x2="647.9" y1="308.00" y2="357.00" stroke="#cc00ee" stroke-width="7.4" stroke-linecap="round"/>
<circle cx="647.9" cy="292.60" r="3.0" fill="#fff" stroke="#cc00ee" stroke-width="1.4"/>
<circle cx="647.9" cy="298.50" r="3.0" fill="#fff" stroke="#cc00ee" stroke-width="1.4"/>
<circle cx="647.9" cy="304.00" r="3.0" fill="#fff" stroke="#cc00ee" stroke-width="1.4"/>
<circle cx="575.1" cy="306.00" r="7.3" fill="#4d4d4d" stroke="#000" stroke-width="2.6"/>
<circle cx="647.9" cy="323.60" r="7.3" fill="#cc00ee" stroke="#000" stroke-width="2.6"/>
<circle cx="502.2" cy="330.50" r="5.6" fill="#801d64"/>
<circle cx="502.2" cy="333.80" r="5.6" fill="#cf4459"/>
<circle cx="502.2" cy="347.50" r="5.6" fill="#f0925f"/>
<line x1="465.8" x2="676.8" y1="284.80" y2="284.80" stroke="#000" stroke-width="2.65" stroke-dasharray="2.65 4.6"/>
<line x1="465.8" x2="676.8" y1="335.50" y2="335.50" stroke="#000" stroke-width="2.65" stroke-dasharray="2.65 4.6"/>
</g>
<text x="560.64" y="377.60" font-size="17.65" font-weight="bold" textLength="29.27" lengthAdjust="spacingAndGlyphs" fill="#801d64">7.0</text>
<text x="561.12" y="391.80" font-size="17.65" font-weight="bold" textLength="28.35" lengthAdjust="spacingAndGlyphs" fill="#cf4459">5.8</text>
<text x="560.68" y="406.00" font-size="17.65" font-weight="bold" textLength="29.05" lengthAdjust="spacingAndGlyphs" fill="#f0925f">0.8</text>
<text x="627.85" y="377.60" font-size="17.65" font-weight="bold" textLength="39.76" lengthAdjust="spacingAndGlyphs" fill="#801d64">29.5</text>
<text x="627.80" y="391.80" font-size="17.65" font-weight="bold" textLength="40.06" lengthAdjust="spacingAndGlyphs" fill="#cf4459">23.9</text>
<text x="633.38" y="406.00" font-size="17.65" font-weight="bold" textLength="28.85" lengthAdjust="spacingAndGlyphs" fill="#f0925f">6.9</text>
<rect x="465.8" y="272.5" width="210.99999999999994" height="140.5" fill="none" stroke="#000" stroke-width="1.1"/>
<line x1="461.0" x2="465.8" y1="287.70" y2="287.70" stroke="#000" stroke-width="1.1"/>
<text x="429.88" y="294.50" font-size="17.86" textLength="25.95" lengthAdjust="spacingAndGlyphs" fill="#000">0.0</text>
<line x1="461.0" x2="465.8" y1="350.05" y2="350.05" stroke="#000" stroke-width="1.1"/>
<text x="424.00" y="356.85" font-size="17.86" textLength="32.04" lengthAdjust="spacingAndGlyphs" fill="#000">-0.2</text>
<line x1="461.0" x2="465.8" y1="412.40" y2="412.40" stroke="#000" stroke-width="1.1"/>
<text x="423.25" y="419.20" font-size="17.86" textLength="32.40" lengthAdjust="spacingAndGlyphs" fill="#000">-0.4</text>
<line x1="502.5" x2="502.5" y1="413.0" y2="417.8" stroke="#000" stroke-width="1.1"/>
<text transform="translate(500.25,434.80) rotate(-30)" x="-38.04" y="0.00" font-size="20.15" textLength="37.92" lengthAdjust="spacingAndGlyphs" fill="#000">REA</text>
<line x1="575.2" x2="575.2" y1="413.0" y2="417.8" stroke="#000" stroke-width="1.1"/>
<text transform="translate(572.95,434.80) rotate(-30)" x="-59.02" y="0.00" font-size="20.15" textLength="58.66" lengthAdjust="spacingAndGlyphs" fill="#000">CMIP6</text>
<line x1="648.2" x2="648.2" y1="413.0" y2="417.8" stroke="#000" stroke-width="1.1"/>
<text transform="translate(645.95,434.80) rotate(-30)" x="-95.66" y="0.00" font-size="20.15" textLength="95.25" lengthAdjust="spacingAndGlyphs" fill="#000">CESM2-LE</text>
<text transform="translate(393.40,342.75) rotate(-90)" x="-45.22" y="0.00" font-size="20.15" textLength="91.84" lengthAdjust="spacingAndGlyphs" fill="#000">ws trends</text>
<text transform="translate(416.10,342.75) rotate(-90)" x="-64.29" y="0.00" font-size="20.15" textLength="125.67" lengthAdjust="spacingAndGlyphs" fill="#000">(m/s/decade)</text>
<rect x="61.50" y="489.3" width="24.00" height="12.10" fill="#1b2c6a"/>
<rect x="85.10" y="489.3" width="24.00" height="12.10" fill="#2458a7"/>
<rect x="108.70" y="489.3" width="24.00" height="12.10" fill="#4f9bd3"/>
<rect x="132.30" y="489.3" width="24.00" height="12.10" fill="#9fd5f3"/>
<rect x="155.90" y="489.3" width="24.00" height="12.10" fill="#d6eff9"/>
<rect x="179.50" y="489.3" width="24.00" height="12.10" fill="#ffffff"/>
<rect x="203.10" y="489.3" width="24.00" height="12.10" fill="#ffffff"/>
<rect x="226.70" y="489.3" width="24.00" height="12.10" fill="#fde69a"/>
<rect x="250.30" y="489.3" width="24.00" height="12.10" fill="#fcaa36"/>
<rect x="273.90" y="489.3" width="24.00" height="12.10" fill="#f7722b"/>
<rect x="297.50" y="489.3" width="24.00" height="12.10" fill="#d7232c"/>
<rect x="321.10" y="489.3" width="24.00" height="12.10" fill="#9b1a1e"/>
<path d="M61.5,489.3 L46.5,495.35 L61.5,501.4 Z" fill="#1e3468"/>
<path d="M344.7,489.3 L360.2,495.35 L344.7,501.4 Z" fill="#9d1b20"/>
<path d="M61.5,489.3 L344.7,489.3 L360.2,495.35 L344.7,501.4 L61.5,501.4 L46.5,495.35 Z" fill="none" stroke="#000" stroke-width="1.1"/>
<line x1="61.50" x2="61.50" y1="501.4" y2="505.79999999999995" stroke="#000" stroke-width="1.1"/>
<line x1="85.10" x2="85.10" y1="501.4" y2="504.0" stroke="#000" stroke-width="1.1"/>
<line x1="108.70" x2="108.70" y1="501.4" y2="505.79999999999995" stroke="#000" stroke-width="1.1"/>
<line x1="132.30" x2="132.30" y1="501.4" y2="504.0" stroke="#000" stroke-width="1.1"/>
<line x1="155.90" x2="155.90" y1="501.4" y2="505.79999999999995" stroke="#000" stroke-width="1.1"/>
<line x1="179.50" x2="179.50" y1="501.4" y2="504.0" stroke="#000" stroke-width="1.1"/>
<line x1="203.10" x2="203.10" y1="501.4" y2="505.79999999999995" stroke="#000" stroke-width="1.1"/>
<line x1="226.70" x2="226.70" y1="501.4" y2="504.0" stroke="#000" stroke-width="1.1"/>
<line x1="250.30" x2="250.30" y1="501.4" y2="505.79999999999995" stroke="#000" stroke-width="1.1"/>
<line x1="273.90" x2="273.90" y1="501.4" y2="504.0" stroke="#000" stroke-width="1.1"/>
<line x1="297.50" x2="297.50" y1="501.4" y2="505.79999999999995" stroke="#000" stroke-width="1.1"/>
<line x1="321.10" x2="321.10" y1="501.4" y2="504.0" stroke="#000" stroke-width="1.1"/>
<line x1="344.70" x2="344.70" y1="501.4" y2="505.79999999999995" stroke="#000" stroke-width="1.1"/>
<text x="41.89" y="523.80" font-size="17.86" textLength="39.84" lengthAdjust="spacingAndGlyphs" fill="#000">−0.6</text>
<text x="89.09" y="523.80" font-size="17.86" textLength="39.65" lengthAdjust="spacingAndGlyphs" fill="#000">−0.4</text>
<text x="136.30" y="523.80" font-size="17.86" textLength="39.32" lengthAdjust="spacingAndGlyphs" fill="#000">−0.2</text>
<text x="190.12" y="523.80" font-size="17.86" textLength="25.95" lengthAdjust="spacingAndGlyphs" fill="#000">0.0</text>
<text x="237.33" y="523.80" font-size="17.86" textLength="25.57" lengthAdjust="spacingAndGlyphs" fill="#000">0.2</text>
<text x="284.52" y="523.80" font-size="17.86" textLength="25.94" lengthAdjust="spacingAndGlyphs" fill="#000">0.4</text>
<text x="331.71" y="523.80" font-size="17.86" textLength="26.11" lengthAdjust="spacingAndGlyphs" fill="#000">0.6</text>
<text x="97.03" y="546.00" font-size="19.86" textLength="213.81" lengthAdjust="spacingAndGlyphs" fill="#000">ws trend (m/s/decade)</text>
<rect x="414.2" y="468.7" width="132.3" height="76.8" rx="3" ry="3" fill="#fff" stroke="#cccccc" stroke-width="1.1"/>
<circle cx="436.9" cy="483.2" r="5.8" fill="#801d64"/>
<text x="465.94" y="487.90" font-size="17.72" textLength="43.41" lengthAdjust="spacingAndGlyphs" fill="#000">ERA5</text>
<circle cx="436.9" cy="507.3" r="5.8" fill="#cf4459"/>
<text x="464.52" y="512.00" font-size="17.72" textLength="59.08" lengthAdjust="spacingAndGlyphs" fill="#000">JRA-3Q</text>
<circle cx="436.9" cy="531.1" r="5.8" fill="#f0925f"/>
<text x="465.92" y="535.80" font-size="17.72" textLength="75.59" lengthAdjust="spacingAndGlyphs" fill="#000">MERRA-2</text>
</svg>
</body></html>
